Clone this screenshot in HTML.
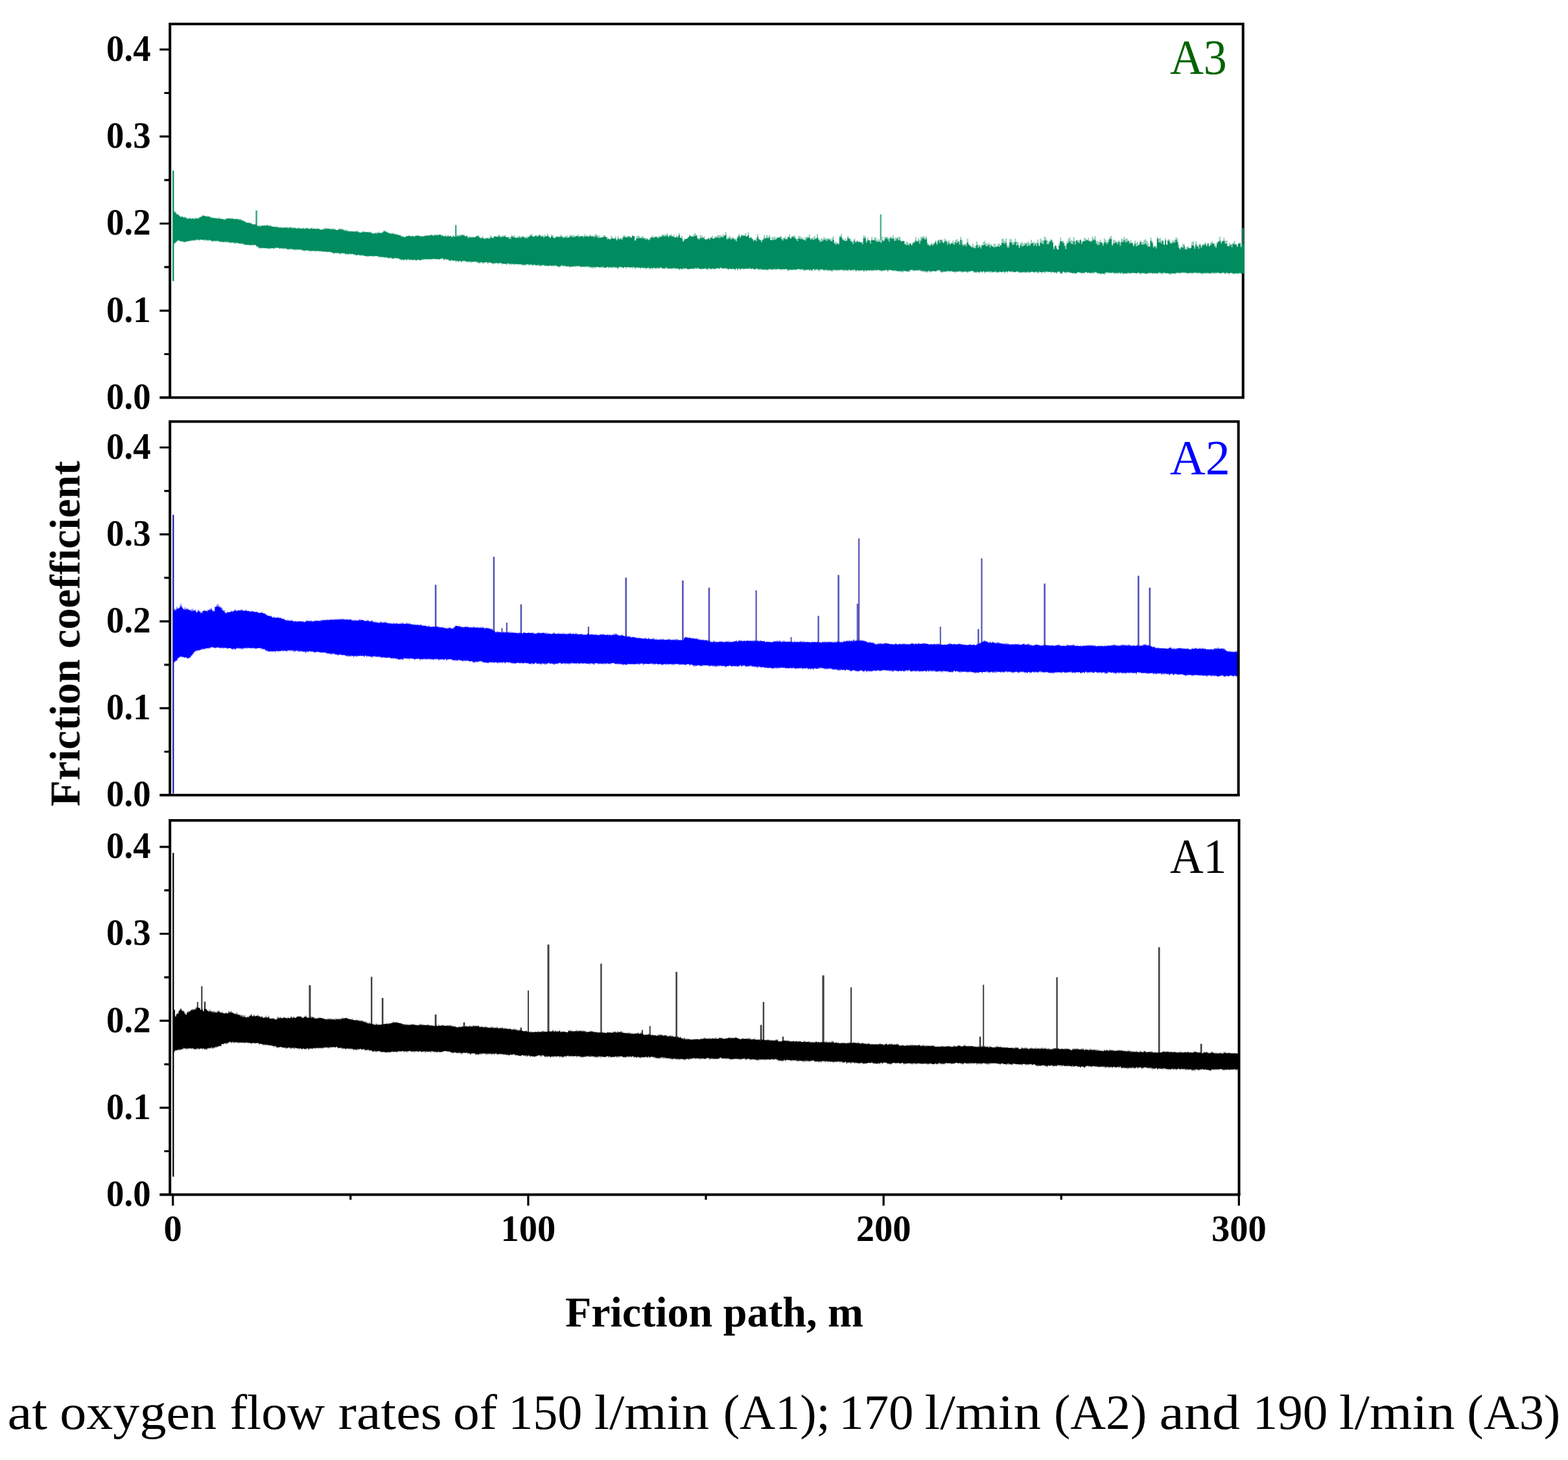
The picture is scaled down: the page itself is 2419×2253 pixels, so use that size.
<!DOCTYPE html>
<html lang="en"><head><meta charset="utf-8"><title>Friction coefficient vs friction path</title>
<style>html,body{margin:0;padding:0;background:#fff}body{width:2419px;height:2253px;overflow:hidden}svg{display:block}text{filter:url(#soft);font-family:"Liberation Serif","DejaVu Serif",serif}.b{font-weight:bold}text{font-variant-ligatures:none}</style></head><body>
<svg width="2419" height="2253" viewBox="0 0 2419 2253" role="img" aria-label="Friction coefficient versus friction path for coatings A1, A2 and A3">
<defs><filter id="soft" x="-2%" y="-20%" width="104%" height="140%" color-interpolation-filters="sRGB"><feGaussianBlur stdDeviation="0.6"/></filter><filter id="softd" x="-1%" y="-10%" width="102%" height="120%" color-interpolation-filters="sRGB"><feGaussianBlur stdDeviation="0.45"/></filter></defs>
<g>
<rect width="2419" height="2253" fill="#fff"/>
<!-- panel A3 -->
<g fill="none" stroke="#000" stroke-width="4.0">
<path d="M262.2,613.6 V36.9 H1917.7 V613.6"/>
<path d="M246.3,613.6 H1919.7"/>
</g>
<g fill="#008c5f" fill-opacity="0.75"><rect x="266.2" y="263.3" width="2.2" height="170.4" fill-opacity="1"/><rect x="394.3" y="324.8" width="2.6" height="27.9"/><rect x="702.0" y="347.4" width="2.4" height="20.6"/><rect x="1357.6" y="330.8" width="2.2" height="40.4"/></g>
<g filter="url(#softd)" fill="#008c5f"><path fill-opacity="0.42" d="M267.8,325.8H269.9V326.6H271.9V330.0H273.9V331.2H276.0V332.7H278.1V333.9H280.1V333.8H282.2V335.3H284.2V334.1H286.2V335.2H288.3V336.5H290.4V336.3H292.4V335.7H294.4V337.6H296.5V336.3H298.6V337.7H300.6V335.3H302.6V337.2H304.7V335.5H306.8V334.9H308.8V333.9H310.9V332.2H312.9V331.7H314.9V333.1H317.0V333.5H319.1V332.8H321.1V333.3H323.1V334.3H325.2V335.1H327.2V335.9H329.3V336.0H331.4V336.0H333.4V336.2H335.4V335.7H337.5V335.7H339.6V337.6H341.6V337.3H343.6V338.5H345.7V337.7H347.8V337.0H349.8V336.9H351.9V336.0H353.9V336.7H355.9V336.6H358.0V337.2H360.1V337.8H362.1V338.0H364.1V336.7H366.2V338.5H368.2V337.4H370.3V337.8H372.4V340.2H374.4V340.2H376.4V341.1H378.5V342.3H380.6V343.2H382.6V342.8H384.6V343.4H386.7V344.2H388.8V346.0H390.8V345.6H392.9V345.4H394.9V346.5H396.9V348.4H399.0V347.6H401.1V347.6H403.1V347.5H405.1V347.8H407.2V347.5H409.2V347.9H411.3V346.3H413.4V347.4H415.4V347.4H417.4V348.6H419.5V349.3H421.6V350.0H423.6V349.1H425.6V349.5H427.7V349.5H429.8V350.5H431.8V350.0H433.9V351.4H435.9V351.0H437.9V350.8H440.0V350.4H442.0V350.1H444.1V350.4H446.1V350.3H448.2V350.1H450.2V350.7H452.3V351.2H454.4V351.0H456.4V352.3H458.4V352.2H460.5V350.7H462.5V352.3H464.6V352.0H466.6V351.6H468.7V352.4H470.8V351.1H472.8V352.0H474.9V351.9H476.9V353.0H478.9V351.6H481.0V351.6H483.0V352.5H485.1V353.0H487.1V351.9H489.2V352.5H491.2V352.5H493.3V354.3H495.4V354.2H497.4V352.7H499.4V352.7H501.5V351.3H503.5V352.1H505.6V352.0H507.6V353.3H509.7V352.4H511.8V352.8H513.8V352.3H515.9V353.1H517.9V354.8H520.0V354.7H522.0V352.6H524.0V352.6H526.1V353.0H528.1V353.0H530.2V354.3H532.2V354.6H534.3V354.4H536.3V355.9H538.4V356.8H540.5V357.1H542.5V356.5H544.5V356.7H546.6V356.9H548.6V356.1H550.7V356.0H552.8V358.4H554.8V358.0H556.8V358.7H558.9V356.3H561.0V357.3H563.0V357.5H565.0V358.0H567.1V358.0H569.1V357.5H571.2V357.6H573.2V359.4H575.3V360.6H577.3V359.0H579.4V358.4H581.5V358.7H583.5V357.4H585.5V359.1H587.6V359.0H589.6V357.7H591.7V355.7H593.8V357.4H595.8V357.1H597.8V359.0H599.9V359.0H602.0V360.1H604.0V359.6H606.0V359.3H608.1V360.9H610.1V360.4H612.2V360.9H614.2V362.4H616.3V362.8H618.3V364.0H620.4V364.0H622.5V365.9H624.5V364.7H626.5V364.2H628.6V364.1H630.6V362.4H632.7V364.1H634.8V363.0H636.8V364.2H638.8V363.7H640.9V363.4H643.0V362.9H645.0V362.8H647.0V364.4H649.1V364.5H651.1V364.7H653.2V363.6H655.2V363.8H657.3V362.8H659.3V363.0H661.4V362.7H663.5V361.7H665.5V361.6H667.5V363.4H669.6V361.6H671.6V362.2H673.7V361.4H675.8V361.9H677.8V361.1H679.8V363.1H681.9V362.3H684.0V364.4H686.0V362.2H688.0V364.3H690.1V362.2H692.1V363.9H694.2V364.1H696.2V365.5H698.3V362.7H700.3V364.7H702.4V365.0H704.5V362.0H706.5V363.1H708.5V362.0H710.6V362.2H712.6V361.9H714.7V361.5H716.8V364.4H718.8V363.5H720.8V364.6H722.9V365.1H725.0V365.2H727.0V365.1H729.0V365.5H731.1V366.3H733.1V364.5H735.2V363.6H737.2V363.0H739.3V366.7H741.3V366.7H743.4V364.7H745.5V367.8H747.5V367.0H749.5V367.3H751.6V367.1H753.6V366.7H755.7V363.6H757.8V364.7H759.8V367.1H761.8V364.7H763.9V364.2H766.0V365.5H768.0V362.3H770.0V362.8H772.1V364.7H774.1V363.8H776.2V362.9H778.2V362.7H780.3V365.7H782.3V365.6H784.4V365.2H786.5V366.1H788.5V362.5H790.5V364.2H792.6V363.0H794.6V367.2H796.7V365.0H798.8V364.5H800.8V363.8H802.8V365.6H804.9V364.3H807.0V364.6H809.0V366.1H811.0V365.1H813.1V364.8H815.1V365.4H817.2V362.0H819.2V360.9H821.3V364.7H823.3V364.3H825.4V362.9H827.5V363.5H829.5V362.8H831.5V362.3H833.6V364.5H835.6V362.5H837.7V364.0H839.8V361.7H841.8V364.3H843.8V360.7H845.9V364.3H848.0V365.9H850.0V362.1H852.0V362.7H854.1V367.5H856.1V365.1H858.2V364.5H860.2V364.9H862.3V364.5H864.3V362.2H866.4V363.8H868.5V365.4H870.5V365.0H872.5V363.7H874.6V363.6H876.6V366.0H878.7V362.2H880.8V363.2H882.8V362.3H884.8V364.1H886.9V363.3H889.0V363.8H891.0V361.5H893.0V364.5H895.1V363.7H897.1V363.9H899.2V363.7H901.2V361.3H903.3V363.5H905.3V363.3H907.4V364.4H909.5V361.5H911.5V363.5H913.5V363.8H915.6V363.5H917.6V361.2H919.7V362.0H921.8V363.9H923.8V363.5H925.8V366.5H927.9V366.0H930.0V362.9H932.0V363.4H934.0V365.9H936.1V366.0H938.1V368.0H940.2V369.2H942.2V364.1H944.3V366.7H946.3V368.1H948.4V364.7H950.5V369.7H952.5V364.2H954.5V368.1H956.6V366.8H958.6V367.2H960.7V363.6H962.8V363.0H964.8V365.1H966.8V364.2H968.9V364.5H971.0V364.2H973.0V365.7H975.0V363.3H977.1V364.2H979.1V370.8H981.2V364.8H983.2V363.6H985.3V364.2H987.3V367.1H989.4V364.7H991.5V364.7H993.5V367.2H995.5V367.3H997.6V367.6H999.6V369.2H1001.7V367.3H1003.8V365.6H1005.8V363.5H1007.8V365.2H1009.9V364.8H1012.0V364.5H1014.0V365.4H1016.0V363.9H1018.1V364.5H1020.1V362.4H1022.2V361.4H1024.2V362.1H1026.3V362.2H1028.3V359.8H1030.4V364.4H1032.5V362.4H1034.5V361.3H1036.5V364.4H1038.6V362.1H1040.6V366.0H1042.7V363.4H1044.8V364.4H1046.8V359.9H1048.8V366.9H1050.9V364.4H1053.0V371.1H1055.0V368.0H1057.0V368.7H1059.1V367.7H1061.1V365.5H1063.2V361.8H1065.2V364.6H1067.3V364.2H1069.3V361.7H1071.4V359.4H1073.5V362.5H1075.5V367.5H1077.5V368.3H1079.6V362.5H1081.6V363.4H1083.7V366.4H1085.8V364.9H1087.8V369.3H1089.8V369.3H1091.9V367.6H1094.0V367.4H1096.0V365.5H1098.0V363.9H1100.1V368.1H1102.1V364.5H1104.2V365.3H1106.2V363.1H1108.3V363.0H1110.3V362.8H1112.4V364.6H1114.5V361.6H1116.5V362.9H1118.5V358.0H1120.6V367.6H1122.6V366.3H1124.7V363.9H1126.8V367.3H1128.8V365.9H1130.8V366.7H1132.9V368.0H1135.0V368.8H1137.0V365.1H1139.0V361.2H1141.1V365.3H1143.1V362.7H1145.2V362.2H1147.2V363.1H1149.3V360.0H1151.3V364.5H1153.4V358.6H1155.5V366.9H1157.5V366.1H1159.5V367.5H1161.6V369.9H1163.6V370.2H1165.7V367.7H1167.8V361.1H1169.8V368.3H1171.8V370.6H1173.9V370.1H1176.0V369.2H1178.0V363.1H1180.0V366.5H1182.1V362.5H1184.1V365.1H1186.2V363.0H1188.2V370.0H1190.3V365.8H1192.3V366.3H1194.4V365.0H1196.4V368.0H1198.5V365.5H1200.5V366.5H1202.6V364.1H1204.6V365.3H1206.7V367.8H1208.8V367.1H1210.8V365.1H1212.8V368.5H1214.9V364.9H1216.9V361.7H1219.0V367.5H1221.0V364.2H1223.1V364.0H1225.1V363.3H1227.2V368.8H1229.2V368.0H1231.3V363.8H1233.3V364.7H1235.4V366.2H1237.4V367.0H1239.5V369.6H1241.5V366.0H1243.6V365.6H1245.6V364.9H1247.7V361.7H1249.8V368.3H1251.8V366.8H1253.8V366.6H1255.9V363.9H1257.9V367.2H1260.0V361.1H1262.0V368.1H1264.1V369.9H1266.1V367.6H1268.2V369.1H1270.2V366.0H1272.3V367.6H1274.3V367.9H1276.4V367.7H1278.4V367.7H1280.5V370.2H1282.5V367.1H1284.6V364.4H1286.6V374.5H1288.7V373.0H1290.8V375.6H1292.8V375.2H1294.8V364.1H1296.9V360.9H1298.9V367.8H1301.0V369.8H1303.0V368.3H1305.1V371.4H1307.1V364.3H1309.2V366.7H1311.2V369.0H1313.3V372.8H1315.3V371.2H1317.4V367.8H1319.4V373.0H1321.5V370.8H1323.5V372.0H1325.6V373.0H1327.6V373.7H1329.7V372.7H1331.7V363.2H1333.8V364.5H1335.8V371.3H1337.9V366.8H1339.9V370.9H1342.0V371.1H1344.0V365.5H1346.1V370.1H1348.1V366.3H1350.2V366.2H1352.2V370.6H1354.3V368.9H1356.3V370.7H1358.4V372.6H1360.4V365.3H1362.5V371.1H1364.5V364.9H1366.6V365.8H1368.6V365.8H1370.7V367.9H1372.7V364.7H1374.8V366.5H1376.8V363.0H1378.9V367.4H1380.9V366.6H1383.0V366.8H1385.0V365.6H1387.1V365.4H1389.1V371.4H1391.2V371.4H1393.2V371.8H1395.3V376.1H1397.3V373.3H1399.4V372.9H1401.4V376.2H1403.5V375.1H1405.5V378.2H1407.6V373.9H1409.6V372.3H1411.7V365.8H1413.7V371.4H1415.8V367.6H1417.8V370.0H1419.9V365.3H1421.9V365.6H1424.0V363.9H1426.0V366.4H1428.1V364.9H1430.1V374.0H1432.2V377.7H1434.2V376.9H1436.3V374.5H1438.3V376.5H1440.4V375.1H1442.4V371.3H1444.5V375.4H1446.5V369.9H1448.6V369.4H1450.6V370.3H1452.7V369.4H1454.7V373.8H1456.8V368.2H1458.8V370.6H1460.9V373.0H1462.9V370.9H1465.0V376.5H1467.0V375.2H1469.1V371.5H1471.1V374.2H1473.2V370.6H1475.2V369.1H1477.3V371.5H1479.3V372.8H1481.4V365.4H1483.4V371.3H1485.5V377.1H1487.5V377.0H1489.6V375.8H1491.6V368.2H1493.7V376.3H1495.7V379.1H1497.8V380.1H1499.8V376.0H1501.9V380.4H1503.9V378.9H1506.0V372.6H1508.0V377.4H1510.1V377.6H1512.1V380.0H1514.2V377.4H1516.2V373.5H1518.3V371.6H1520.3V375.6H1522.4V376.8H1524.4V374.6H1526.5V377.1H1528.5V377.2H1530.6V380.3H1532.6V375.8H1534.7V376.4H1536.7V380.2H1538.8V376.2H1540.8V376.1H1542.9V378.1H1544.9V368.2H1547.0V368.8H1549.0V372.1H1551.1V367.9H1553.1V378.4H1555.2V379.1H1557.2V368.4H1559.3V369.4H1561.3V374.0H1563.4V373.1H1565.4V368.2H1567.5V372.8H1569.5V373.5H1571.6V380.4H1573.6V374.4H1575.7V373.4H1577.7V376.2H1579.8V374.8H1581.8V374.9H1583.9V373.8H1585.9V373.3H1588.0V376.0H1590.0V370.0H1592.1V374.8H1594.1V373.1H1596.2V375.1H1598.2V374.2H1600.3V369.5H1602.3V378.5H1604.4V367.9H1606.4V370.8H1608.5V371.4H1610.5V364.7H1612.6V367.2H1614.6V371.1H1616.7V373.4H1618.7V371.0H1620.8V368.8H1622.8V371.5H1624.9V381.6H1626.9V378.4H1629.0V379.6H1631.0V385.2H1633.1V375.3H1635.1V366.6H1637.2V371.8H1639.2V371.7H1641.3V375.2H1643.3V378.8H1645.4V372.8H1647.4V368.6H1649.5V366.2H1651.5V370.7H1653.6V371.5H1655.6V366.1H1657.7V372.4H1659.7V370.5H1661.8V370.0H1663.8V371.3H1665.9V369.4H1667.9V373.1H1670.0V372.1H1672.0V367.0H1674.1V367.9H1676.1V370.0H1678.2V366.9H1680.2V371.4H1682.3V371.1H1684.3V365.1H1686.4V367.7H1688.4V364.2H1690.5V372.6H1692.5V371.8H1694.6V373.3H1696.6V369.8H1698.7V373.7H1700.7V376.1H1702.8V367.8H1704.8V370.2H1706.9V373.6H1708.9V369.7H1711.0V366.3H1713.0V364.1H1715.1V376.4H1717.1V369.6H1719.2V370.9H1721.2V372.4H1723.3V372.9H1725.3V370.9H1727.4V374.6H1729.4V368.3H1731.5V369.2H1733.5V365.7H1735.6V369.0H1737.6V367.8H1739.7V370.5H1741.7V372.6H1743.8V371.1H1745.8V374.5H1747.9V378.2H1749.9V371.3H1752.0V374.8H1754.0V373.4H1756.1V377.6H1758.1V371.3H1760.2V372.4H1762.2V373.8H1764.3V370.4H1766.3V369.3H1768.4V371.9H1770.4V375.6H1772.5V379.5H1774.5V366.8H1776.6V372.6H1778.6V379.2H1780.7V379.8H1782.7V379.7H1784.8V365.7H1786.8V368.0H1788.9V367.1H1790.9V370.9H1793.0V370.5H1795.0V377.4H1797.1V367.6H1799.1V377.6H1801.2V369.3H1803.2V369.5H1805.3V374.7H1807.3V371.3H1809.4V371.5H1811.4V369.6H1813.5V365.9H1815.5V368.2H1817.6V377.9H1819.6V383.1H1821.7V381.1H1823.7V376.2H1825.8V376.4H1827.8V383.2H1829.9V381.1H1831.9V380.0H1834.0V382.6H1836.0V381.8H1838.1V373.5H1840.1V372.2H1842.2V380.7H1844.2V372.6H1846.3V379.7H1848.3V377.6H1850.4V375.8H1852.4V379.8H1854.5V376.7H1856.5V376.8H1858.6V373.8H1860.6V378.5H1862.7V375.3H1864.7V379.5H1866.8V373.9H1868.8V372.4H1870.9V374.9H1872.9V375.5H1875.0V378.7H1877.0V373.6H1879.1V372.3H1881.1V365.0H1883.2V373.0H1885.2V371.3H1887.3V366.7H1889.3V371.7H1891.4V371.1H1893.4V379.7H1895.5V374.4H1897.5V377.0H1899.6V376.6H1901.6V374.3H1903.7V371.8H1905.7V377.0H1907.8V379.6H1909.8V375.5H1911.9V373.8H1913.9V380.0H1916.0V377.3H1918.0V374.4H1919.6V423.1H1918.0V421.8H1916.0V422.6H1913.9V421.6H1911.9V423.3H1909.8V422.2H1907.8V422.6H1905.7V423.1H1903.7V423.5H1901.6V421.7H1899.6V421.5H1897.5V423.6H1895.5V421.8H1893.4V420.6H1891.4V422.7H1889.3V421.3H1887.3V421.1H1885.2V422.6H1883.2V422.6H1881.1V421.1H1879.1V421.4H1877.0V422.4H1875.0V422.3H1872.9V422.3H1870.9V421.9H1868.8V422.7H1866.8V422.3H1864.7V422.4H1862.7V422.2H1860.6V422.4H1858.6V421.4H1856.5V423.5H1854.5V422.7H1852.4V422.4H1850.4V421.8H1848.3V422.3H1846.3V421.4H1844.2V420.7H1842.2V422.1H1840.1V422.8H1838.1V421.4H1836.0V421.5H1834.0V422.8H1831.9V421.8H1829.9V421.8H1827.8V421.4H1825.8V420.7H1823.7V421.3H1821.7V422.7H1819.6V421.8H1817.6V421.0H1815.5V422.4H1813.5V422.8H1811.4V422.2H1809.4V422.0H1807.3V423.9H1805.3V423.4H1803.2V422.3H1801.2V422.2H1799.1V422.1H1797.1V421.4H1795.0V423.0H1793.0V423.2H1790.9V421.9H1788.9V421.5H1786.8V423.3H1784.8V422.1H1782.7V422.0H1780.7V422.4H1778.6V422.2H1776.6V421.4H1774.5V422.2H1772.5V422.6H1770.4V423.2H1768.4V423.0H1766.3V422.4H1764.3V422.2H1762.2V421.5H1760.2V423.5H1758.1V422.2H1756.1V420.9H1754.0V422.3H1752.0V421.8H1749.9V421.4H1747.9V421.8H1745.8V422.3H1743.8V421.9H1741.7V421.9H1739.7V422.7H1737.6V422.2H1735.6V423.0H1733.5V423.3H1731.5V422.3H1729.4V421.8H1727.4V421.8H1725.3V423.0H1723.3V422.2H1721.2V422.9H1719.2V422.1H1717.1V421.4H1715.1V421.7H1713.0V422.2H1711.0V421.4H1708.9V420.6H1706.9V422.2H1704.8V424.0H1702.8V422.6H1700.7V422.7H1698.7V423.9H1696.6V421.8H1694.6V422.2H1692.5V421.5H1690.5V420.5H1688.4V422.5H1686.4V421.3H1684.3V422.5H1682.3V421.8H1680.2V421.1H1678.2V421.5H1676.1V419.9H1674.1V422.6H1672.0V421.5H1670.0V422.8H1667.9V420.9H1665.9V420.5H1663.8V420.1H1661.8V422.2H1659.7V422.9H1657.7V421.5H1655.6V421.7H1653.6V421.1H1651.5V420.8H1649.5V420.1H1647.4V421.5H1645.4V421.3H1643.3V421.5H1641.3V420.1H1639.2V423.0H1637.2V422.5H1635.1V419.4H1633.1V420.2H1631.0V422.4H1629.0V421.0H1626.9V421.0H1624.9V419.9H1622.8V421.4H1620.8V419.9H1618.7V420.2H1616.7V420.2H1614.6V420.6H1612.6V421.5H1610.5V420.1H1608.5V421.9H1606.4V420.1H1604.4V420.7H1602.3V422.3H1600.3V420.3H1598.2V421.0H1596.2V420.8H1594.1V419.9H1592.1V420.1H1590.0V420.5H1588.0V421.0H1585.9V420.8H1583.9V421.2H1581.8V421.0H1579.8V420.4H1577.7V420.2H1575.7V420.7H1573.6V421.4H1571.6V419.5H1569.5V419.1H1567.5V420.2H1565.4V419.7H1563.4V420.3H1561.3V419.3H1559.3V420.5H1557.2V418.4H1555.2V420.9H1553.1V419.0H1551.1V421.6H1549.0V420.1H1547.0V420.5H1544.9V419.7H1542.9V420.6H1540.8V420.6H1538.8V421.2H1536.7V419.9H1534.7V419.7H1532.6V420.7H1530.6V420.6H1528.5V421.2H1526.5V419.1H1524.4V420.6H1522.4V419.8H1520.3V421.8H1518.3V419.1H1516.2V420.8H1514.2V419.4H1512.1V421.6H1510.1V420.4H1508.0V420.9H1506.0V420.7H1503.9V421.1H1501.9V418.7H1499.8V418.2H1497.8V419.2H1495.7V419.7H1493.7V421.1H1491.6V419.8H1489.6V419.5H1487.5V420.6H1485.5V420.4H1483.4V420.3H1481.4V419.2H1479.3V419.3H1477.3V419.6H1475.2V421.2H1473.2V420.2H1471.1V419.7H1469.1V418.9H1467.0V420.0H1465.0V419.8H1462.9V419.2H1460.9V419.7H1458.8V420.0H1456.8V419.9H1454.7V420.9H1452.7V420.3H1450.6V417.6H1448.6V417.5H1446.5V418.5H1444.5V419.2H1442.4V418.7H1440.4V418.5H1438.3V418.9H1436.3V420.7H1434.2V419.1H1432.2V420.7H1430.1V420.3H1428.1V419.9H1426.0V419.8H1424.0V419.4H1421.9V418.9H1419.9V417.5H1417.8V417.8H1415.8V418.0H1413.7V418.1H1411.7V417.8H1409.6V418.4H1407.6V416.8H1405.5V417.6H1403.5V420.1H1401.4V419.2H1399.4V419.8H1397.3V418.3H1395.3V419.4H1393.2V420.5H1391.2V419.7H1389.1V419.2H1387.1V418.7H1385.0V418.4H1383.0V418.9H1380.9V418.1H1378.9V418.2H1376.8V417.7H1374.8V417.0H1372.7V416.7H1370.7V419.6H1368.6V416.9H1366.6V417.9H1364.5V417.9H1362.5V418.5H1360.4V419.3H1358.4V417.9H1356.3V416.9H1354.3V417.6H1352.2V417.4H1350.2V417.9H1348.1V417.9H1346.1V418.5H1344.0V417.5H1342.0V417.8H1339.9V417.3H1337.9V419.1H1335.8V417.9H1333.8V419.7H1331.7V417.0H1329.7V418.1H1327.6V418.2H1325.6V418.5H1323.5V417.7H1321.5V419.2H1319.4V416.3H1317.4V418.5H1315.3V417.1H1313.3V418.2H1311.2V416.6H1309.2V418.5H1307.1V417.6H1305.1V417.9H1303.0V418.3H1301.0V418.0H1298.9V416.7H1296.9V417.0H1294.8V418.0H1292.8V417.0H1290.8V418.4H1288.7V416.6H1286.6V418.2H1284.6V419.2H1282.5V418.5H1280.5V417.7H1278.4V418.4H1276.4V417.6H1274.3V418.1H1272.3V417.7H1270.2V417.0H1268.2V415.7H1266.1V417.7H1264.1V418.6H1262.0V415.8H1260.0V416.8H1257.9V418.2H1255.9V415.5H1253.8V418.6H1251.8V417.4H1249.8V417.6H1247.7V416.3H1245.6V417.5H1243.6V417.8H1241.5V418.2H1239.5V416.3H1237.4V416.7H1235.4V415.5H1233.3V416.1H1231.3V415.9H1229.2V416.7H1227.2V417.0H1225.1V416.4H1223.1V417.3H1221.0V416.4H1219.0V417.8H1216.9V418.2H1214.9V417.1H1212.8V415.2H1210.8V416.2H1208.8V415.6H1206.7V417.3H1204.6V416.2H1202.6V416.4H1200.5V415.1H1198.5V416.3H1196.4V416.3H1194.4V416.7H1192.3V416.4H1190.3V416.6H1188.2V415.4H1186.2V417.1H1184.1V417.7H1182.1V416.6H1180.0V416.5H1178.0V416.5H1176.0V415.9H1173.9V416.5H1171.8V416.7H1169.8V415.8H1167.8V414.7H1165.7V416.6H1163.6V415.3H1161.6V415.0H1159.5V415.8H1157.5V414.4H1155.5V414.5H1153.4V414.8H1151.3V415.1H1149.3V415.4H1147.2V415.6H1145.2V415.1H1143.1V416.7H1141.1V415.4H1139.0V417.2H1137.0V414.7H1135.0V417.1H1132.9V414.9H1130.8V415.8H1128.8V415.4H1126.8V414.8H1124.7V416.9H1122.6V415.1H1120.6V414.8H1118.5V414.4H1116.5V414.4H1114.5V415.0H1112.4V413.1H1110.3V415.0H1108.3V413.6H1106.2V415.3H1104.2V415.6H1102.1V415.3H1100.1V415.2H1098.0V416.1H1096.0V415.4H1094.0V415.9H1091.9V416.1H1089.8V415.3H1087.8V414.6H1085.8V415.0H1083.7V416.1H1081.6V415.2H1079.6V414.9H1077.5V414.2H1075.5V415.1H1073.5V414.5H1071.4V415.7H1069.3V415.1H1067.3V414.6H1065.2V415.5H1063.2V416.1H1061.1V415.4H1059.1V413.8H1057.0V415.7H1055.0V415.3H1053.0V416.6H1050.9V415.6H1048.8V417.1H1046.8V414.8H1044.8V414.9H1042.7V415.8H1040.6V414.6H1038.6V415.5H1036.5V415.3H1034.5V414.5H1032.5V415.4H1030.4V414.5H1028.3V414.4H1026.3V415.3H1024.2V415.1H1022.2V415.1H1020.1V413.2H1018.1V414.2H1016.0V415.0H1014.0V414.8H1012.0V415.3H1009.9V413.5H1007.8V415.7H1005.8V413.6H1003.8V415.9H1001.7V414.6H999.6V413.5H997.6V415.6H995.5V414.0H993.5V414.5H991.5V413.0H989.4V414.7H987.3V413.4H985.3V414.0H983.2V412.8H981.2V415.2H979.1V413.6H977.1V414.2H975.0V413.4H973.0V413.1H971.0V412.7H968.9V413.0H966.8V414.4H964.8V412.0H962.8V413.9H960.7V413.4H958.6V412.6H956.6V412.2H954.5V415.3H952.5V414.2H950.5V413.1H948.4V413.4H946.3V413.2H944.3V413.3H942.2V412.7H940.2V414.3H938.1V412.3H936.1V413.8H934.0V413.5H932.0V413.8H930.0V413.1H927.9V413.4H925.8V413.1H923.8V411.9H921.8V412.6H919.7V413.7H917.6V413.8H915.6V414.2H913.5V413.8H911.5V413.4H909.5V412.3H907.4V412.4H905.3V412.6H903.3V412.7H901.2V411.9H899.2V411.6H897.1V412.8H895.1V410.6H893.0V411.2H891.0V411.8H889.0V412.3H886.9V411.0H884.8V411.7H882.8V411.4H880.8V412.8H878.7V411.9H876.6V412.1H874.6V411.8H872.5V410.0H870.5V411.6H868.5V409.5H866.4V410.8H864.3V413.1H862.3V411.5H860.2V410.8H858.2V410.3H856.1V411.3H854.1V411.1H852.0V411.0H850.0V410.5H848.0V410.7H845.9V411.2H843.8V410.2H841.8V411.0H839.8V409.3H837.7V410.3H835.6V411.4H833.6V409.9H831.5V410.0H829.5V410.4H827.5V409.9H825.4V408.8H823.3V410.3H821.3V409.7H819.2V408.9H817.2V410.1H815.1V407.6H813.1V409.4H811.0V409.6H809.0V410.1H807.0V409.5H804.9V408.5H802.8V408.0H800.8V407.9H798.8V407.7H796.7V407.9H794.6V409.2H792.6V407.5H790.5V408.4H788.5V408.1H786.5V408.9H784.4V406.9H782.3V409.0H780.3V407.1H778.2V407.0H776.2V408.6H774.1V406.3H772.1V406.7H770.0V407.9H768.0V406.4H766.0V406.7H763.9V407.6H761.8V407.9H759.8V406.9H757.8V405.7H755.7V405.6H753.6V407.4H751.6V404.8H749.5V405.0H747.5V406.6H745.5V407.1H743.4V404.9H741.3V407.2H739.3V406.1H737.2V405.9H735.2V404.4H733.1V404.1H731.1V404.0H729.0V405.5H727.0V405.8H725.0V403.6H722.9V404.9H720.8V404.6H718.8V403.4H716.8V403.4H714.7V403.4H712.6V404.9H710.6V403.1H708.5V404.7H706.5V403.4H704.5V404.4H702.4V402.3H700.3V402.7H698.3V401.4H696.2V403.5H694.2V402.4H692.1V400.7H690.1V400.6H688.0V399.6H686.0V401.7H684.0V398.8H681.9V399.3H679.8V400.6H677.8V401.1H675.8V400.0H673.7V400.2H671.6V399.6H669.6V399.6H667.5V400.9H665.5V400.0H663.5V401.5H661.4V399.9H659.3V401.0H657.3V400.0H655.2V401.2H653.2V401.1H651.1V401.4H649.1V402.2H647.0V401.0H645.0V401.4H643.0V403.1H640.9V401.4H638.8V401.6H636.8V401.9H634.8V401.3H632.7V402.1H630.6V400.0H628.6V402.2H626.5V400.5H624.5V401.8H622.5V401.7H620.4V401.5H618.3V401.4H616.3V399.3H614.2V399.0H612.2V399.1H610.1V398.8H608.1V399.0H606.0V400.1H604.0V398.2H602.0V398.5H599.9V399.1H597.8V397.9H595.8V397.9H593.8V397.6H591.7V397.4H589.6V396.8H587.6V397.6H585.5V397.4H583.5V395.9H581.5V395.1H579.4V395.8H577.3V396.4H575.3V395.7H573.2V395.4H571.2V395.2H569.1V395.7H567.1V396.5H565.0V395.5H563.0V394.9H561.0V394.7H558.9V394.6H556.8V394.8H554.8V394.2H552.8V393.7H550.7V394.8H548.6V393.2H546.6V393.4H544.5V391.7H542.5V393.0H540.5V391.8H538.4V393.0H536.3V392.7H534.3V392.9H532.2V391.3H530.2V391.3H528.1V391.5H526.1V392.4H524.0V392.0H522.0V390.3H520.0V391.1H517.9V390.6H515.9V392.1H513.8V390.3H511.8V389.5H509.7V388.9H507.6V388.7H505.6V389.2H503.5V388.4H501.5V389.1H499.4V389.0H497.4V388.5H495.4V388.4H493.3V387.7H491.2V387.2H489.2V388.3H487.1V388.5H485.1V387.2H483.0V387.7H481.0V387.9H478.9V387.9H476.9V387.5H474.9V386.8H472.8V387.4H470.8V387.7H468.7V387.0H466.6V386.7H464.6V385.6H462.5V386.1H460.5V385.5H458.4V386.3H456.4V386.5H454.4V385.5H452.3V385.7H450.2V384.8H448.2V385.5H446.1V385.2H444.1V385.6H442.0V384.5H440.0V384.5H437.9V384.6H435.9V383.9H433.9V384.0H431.8V384.3H429.8V382.6H427.7V383.1H425.6V382.6H423.6V383.9H421.6V383.1H419.5V383.4H417.4V384.4H415.4V384.3H413.4V384.0H411.3V383.1H409.2V383.2H407.2V382.8H405.1V383.6H403.1V383.3H401.1V383.8H399.0V381.7H396.9V379.7H394.9V378.1H392.9V378.9H390.8V379.1H388.8V378.8H386.7V379.6H384.6V378.4H382.6V378.2H380.6V378.0H378.5V378.4H376.4V376.6H374.4V376.4H372.4V375.9H370.3V376.5H368.2V375.2H366.2V375.6H364.1V376.2H362.1V375.9H360.1V374.6H358.0V374.6H355.9V375.8H353.9V374.6H351.9V374.4H349.8V374.3H347.8V373.4H345.7V373.9H343.6V373.3H341.6V373.7H339.6V373.8H337.5V372.0H335.4V373.1H333.4V373.2H331.4V372.6H329.3V373.2H327.2V372.9H325.2V371.0H323.1V371.9H321.1V371.5H319.1V371.7H317.0V371.1H314.9V371.6H312.9V369.9H310.9V370.3H308.8V371.4H306.8V371.1H304.7V370.7H302.6V370.5H300.6V372.0H298.6V371.2H296.5V371.4H294.4V372.5H292.4V372.6H290.4V372.8H288.3V373.1H286.2V374.0H284.2V373.9H282.2V372.9H280.1V372.7H278.1V372.0H276.0V371.2H273.9V373.2H271.9V374.9H269.9V375.9H267.8Z"/><path d="M267.8,327.5H269.9V328.6H271.9V330.8H273.9V331.6H276.0V333.6H278.1V335.3H280.1V334.6H282.2V335.7H284.2V335.9H286.2V336.8H288.3V338.1H290.4V337.5H292.4V337.4H294.4V337.8H296.5V337.2H298.6V338.2H300.6V337.2H302.6V337.2H304.7V337.4H306.8V336.4H308.8V334.9H310.9V334.0H312.9V333.1H314.9V333.4H317.0V333.9H319.1V334.4H321.1V334.5H323.1V335.1H325.2V336.5H327.2V336.2H329.3V336.8H331.4V337.0H333.4V337.4H335.4V337.7H337.5V337.6H339.6V337.9H341.6V337.9H343.6V338.6H345.7V339.5H347.8V338.2H349.8V337.6H351.9V337.2H353.9V337.7H355.9V337.4H358.0V337.4H360.1V338.0H362.1V338.3H364.1V338.3H366.2V338.6H368.2V339.3H370.3V339.4H372.4V340.3H374.4V341.0H376.4V342.4H378.5V343.5H380.6V344.0H382.6V343.9H384.6V344.7H386.7V344.9H388.8V346.2H390.8V346.6H392.9V346.5H394.9V348.3H396.9V348.8H399.0V349.4H401.1V349.5H403.1V348.7H405.1V348.3H407.2V348.2H409.2V347.9H411.3V348.1H413.4V348.9H415.4V348.4H417.4V349.3H419.5V349.9H421.6V350.0H423.6V350.4H425.6V350.4H427.7V351.0H429.8V351.5H431.8V351.5H433.9V351.4H435.9V351.4H437.9V351.3H440.0V351.4H442.0V351.7H444.1V352.2H446.1V351.6H448.2V351.7H450.2V352.4H452.3V352.1H454.4V351.9H456.4V352.7H458.4V352.5H460.5V352.3H462.5V352.9H464.6V353.2H466.6V352.4H468.7V353.3H470.8V352.9H472.8V352.5H474.9V352.8H476.9V353.7H478.9V352.6H481.0V353.6H483.0V353.0H485.1V353.0H487.1V353.8H489.2V353.0H491.2V353.4H493.3V354.4H495.4V354.5H497.4V354.5H499.4V353.5H501.5V353.2H503.5V353.5H505.6V353.2H507.6V353.4H509.7V353.8H511.8V354.3H513.8V354.1H515.9V354.6H517.9V354.9H520.0V355.3H522.0V354.1H524.0V354.3H526.1V354.2H528.1V355.0H530.2V355.9H532.2V356.6H534.3V356.4H536.3V357.2H538.4V357.1H540.5V357.2H542.5V357.0H544.5V357.9H546.6V357.1H548.6V357.9H550.7V357.6H552.8V358.5H554.8V359.2H556.8V358.8H558.9V358.1H561.0V358.4H563.0V358.3H565.0V358.2H567.1V358.6H569.1V358.7H571.2V359.2H573.2V360.1H575.3V360.7H577.3V360.2H579.4V360.4H581.5V360.3H583.5V359.2H585.5V359.9H587.6V359.8H589.6V358.6H591.7V356.8H593.8V357.6H595.8V358.6H597.8V359.4H599.9V360.6H602.0V360.7H604.0V360.8H606.0V360.9H608.1V361.5H610.1V362.3H612.2V362.6H614.2V363.0H616.3V363.0H618.3V365.3H620.4V365.4H622.5V366.0H624.5V365.8H626.5V364.7H628.6V364.3H630.6V364.2H632.7V365.0H634.8V364.7H636.8V365.1H638.8V364.9H640.9V363.9H643.0V364.0H645.0V364.3H647.0V364.8H649.1V364.6H651.1V364.9H653.2V364.8H655.2V364.1H657.3V364.0H659.3V363.6H661.4V363.7H663.5V363.2H665.5V363.0H667.5V364.0H669.6V363.1H671.6V363.3H673.7V363.2H675.8V363.1H677.8V362.3H679.8V363.5H681.9V364.3H684.0V364.7H686.0V364.4H688.0V365.2H690.1V364.4H692.1V365.1H694.2V364.3H696.2V365.9H698.3V364.6H700.3V365.5H702.4V366.0H704.5V364.6H706.5V364.7H708.5V364.6H710.6V363.4H712.6V363.1H714.7V363.6H716.8V364.8H718.8V364.0H720.8V367.3H722.9V366.8H725.0V366.2H727.0V367.1H729.0V366.1H731.1V366.5H733.1V365.6H735.2V364.5H737.2V364.9H739.3V366.8H741.3V368.3H743.4V367.0H745.5V368.6H747.5V369.0H749.5V367.8H751.6V367.7H753.6V368.9H755.7V366.7H757.8V367.2H759.8V367.3H761.8V364.7H763.9V365.4H766.0V365.5H768.0V365.1H770.0V365.3H772.1V366.6H774.1V365.6H776.2V365.8H778.2V364.8H780.3V366.1H782.3V366.6H784.4V368.3H786.5V368.9H788.5V365.3H790.5V365.7H792.6V366.2H794.6V367.2H796.7V367.2H798.8V367.2H800.8V366.3H802.8V367.4H804.9V365.6H807.0V366.1H809.0V367.7H811.0V367.5H813.1V367.5H815.1V365.5H817.2V363.9H819.2V363.9H821.3V365.5H823.3V365.5H825.4V363.7H827.5V365.3H829.5V364.9H831.5V362.8H833.6V365.1H835.6V365.0H837.7V366.7H839.8V365.3H841.8V364.7H843.8V364.1H845.9V366.1H848.0V367.4H850.0V364.9H852.0V366.1H854.1V367.6H856.1V367.1H858.2V365.2H860.2V365.8H862.3V366.2H864.3V365.2H866.4V366.0H868.5V367.4H870.5V366.1H872.5V366.8H874.6V367.0H876.6V366.7H878.7V364.8H880.8V365.2H882.8V365.9H884.8V365.7H886.9V365.8H889.0V364.0H891.0V365.2H893.0V365.4H895.1V365.0H897.1V364.6H899.2V366.5H901.2V365.1H903.3V364.9H905.3V364.9H907.4V365.6H909.5V364.1H911.5V365.3H913.5V365.1H915.6V366.4H917.6V364.8H919.7V365.2H921.8V367.5H923.8V367.0H925.8V366.8H927.9V366.1H930.0V366.5H932.0V364.5H934.0V366.1H936.1V369.3H938.1V368.7H940.2V369.8H942.2V368.0H944.3V368.0H946.3V368.5H948.4V367.9H950.5V370.9H952.5V368.1H954.5V369.4H956.6V368.9H958.6V370.0H960.7V366.3H962.8V365.8H964.8V366.6H966.8V366.8H968.9V364.8H971.0V366.7H973.0V366.7H975.0V364.2H977.1V364.6H979.1V371.2H981.2V368.5H983.2V367.4H985.3V367.4H987.3V367.6H989.4V367.2H991.5V368.6H993.5V367.8H995.5V370.3H997.6V369.1H999.6V370.8H1001.7V369.4H1003.8V366.1H1005.8V367.0H1007.8V367.2H1009.9V365.9H1012.0V366.1H1014.0V368.1H1016.0V366.4H1018.1V366.1H1020.1V364.9H1022.2V363.9H1024.2V365.1H1026.3V364.7H1028.3V363.2H1030.4V366.0H1032.5V363.6H1034.5V364.6H1036.5V364.8H1038.6V365.9H1040.6V366.5H1042.7V366.2H1044.8V366.5H1046.8V362.8H1048.8V367.0H1050.9V367.8H1053.0V372.9H1055.0V370.6H1057.0V369.0H1059.1V368.1H1061.1V366.4H1063.2V364.0H1065.2V365.1H1067.3V365.2H1069.3V365.2H1071.4V363.7H1073.5V363.8H1075.5V368.3H1077.5V369.7H1079.6V367.1H1081.6V367.7H1083.7V366.5H1085.8V369.2H1087.8V369.4H1089.8V369.5H1091.9V367.7H1094.0V369.8H1096.0V367.0H1098.0V367.9H1100.1V368.6H1102.1V367.3H1104.2V366.6H1106.2V366.6H1108.3V367.6H1110.3V366.8H1112.4V365.5H1114.5V366.4H1116.5V364.3H1118.5V362.8H1120.6V369.6H1122.6V368.5H1124.7V367.5H1126.8V369.7H1128.8V368.5H1130.8V368.8H1132.9V370.5H1135.0V372.5H1137.0V367.2H1139.0V363.9H1141.1V366.8H1143.1V363.6H1145.2V364.3H1147.2V364.0H1149.3V364.7H1151.3V364.8H1153.4V363.2H1155.5V367.7H1157.5V366.6H1159.5V369.2H1161.6V372.2H1163.6V370.5H1165.7V372.3H1167.8V365.5H1169.8V369.2H1171.8V370.7H1173.9V373.7H1176.0V370.5H1178.0V367.8H1180.0V368.2H1182.1V367.3H1184.1V368.1H1186.2V366.5H1188.2V370.7H1190.3V370.8H1192.3V370.0H1194.4V370.2H1196.4V369.3H1198.5V367.1H1200.5V366.9H1202.6V366.3H1204.6V369.3H1206.7V371.2H1208.8V368.2H1210.8V369.2H1212.8V369.4H1214.9V366.0H1216.9V366.4H1219.0V368.2H1221.0V365.8H1223.1V365.7H1225.1V367.0H1227.2V368.9H1229.2V372.0H1231.3V367.9H1233.3V368.7H1235.4V369.3H1237.4V369.5H1239.5V370.3H1241.5V371.5H1243.6V368.2H1245.6V366.9H1247.7V367.0H1249.8V370.1H1251.8V369.1H1253.8V370.4H1255.9V369.3H1257.9V368.8H1260.0V366.4H1262.0V370.4H1264.1V373.5H1266.1V372.7H1268.2V372.1H1270.2V370.1H1272.3V370.2H1274.3V372.0H1276.4V369.7H1278.4V369.6H1280.5V371.9H1282.5V372.6H1284.6V369.9H1286.6V376.1H1288.7V377.7H1290.8V375.8H1292.8V377.3H1294.8V366.3H1296.9V365.8H1298.9V369.7H1301.0V371.5H1303.0V371.9H1305.1V371.5H1307.1V367.4H1309.2V368.7H1311.2V371.7H1313.3V373.7H1315.3V376.6H1317.4V371.6H1319.4V374.4H1321.5V372.5H1323.5V374.2H1325.6V373.3H1327.6V374.8H1329.7V377.1H1331.7V367.8H1333.8V367.7H1335.8V374.6H1337.9V370.8H1339.9V371.0H1342.0V375.7H1344.0V370.4H1346.1V371.1H1348.1V370.5H1350.2V372.1H1352.2V373.6H1354.3V372.9H1356.3V373.3H1358.4V374.7H1360.4V370.9H1362.5V372.4H1364.5V368.7H1366.6V367.4H1368.6V369.6H1370.7V372.7H1372.7V367.4H1374.8V368.4H1376.8V368.2H1378.9V371.7H1380.9V371.6H1383.0V368.4H1385.0V371.0H1387.1V370.1H1389.1V372.8H1391.2V372.2H1393.2V371.9H1395.3V377.2H1397.3V378.6H1399.4V377.8H1401.4V378.4H1403.5V375.7H1405.5V378.6H1407.6V375.6H1409.6V374.6H1411.7V371.6H1413.7V373.1H1415.8V372.3H1417.8V376.1H1419.9V371.4H1421.9V367.8H1424.0V367.9H1426.0V369.9H1428.1V368.7H1430.1V377.6H1432.2V378.4H1434.2V379.8H1436.3V377.2H1438.3V378.9H1440.4V376.1H1442.4V373.5H1444.5V377.5H1446.5V371.4H1448.6V375.3H1450.6V370.4H1452.7V373.8H1454.7V375.3H1456.8V372.3H1458.8V372.9H1460.9V378.1H1462.9V374.9H1465.0V377.3H1467.0V375.3H1469.1V376.3H1471.1V377.8H1473.2V374.2H1475.2V375.5H1477.3V373.3H1479.3V377.5H1481.4V370.1H1483.4V377.7H1485.5V379.8H1487.5V377.7H1489.6V380.3H1491.6V374.3H1493.7V377.8H1495.7V379.6H1497.8V381.7H1499.8V381.9H1501.9V383.2H1503.9V382.7H1506.0V378.3H1508.0V382.2H1510.1V380.6H1512.1V383.5H1514.2V378.7H1516.2V378.4H1518.3V377.4H1520.3V379.9H1522.4V379.7H1524.4V378.2H1526.5V381.8H1528.5V379.2H1530.6V380.7H1532.6V381.7H1534.7V381.4H1536.7V380.7H1538.8V379.9H1540.8V380.9H1542.9V379.1H1544.9V375.0H1547.0V375.0H1549.0V376.5H1551.1V374.6H1553.1V381.8H1555.2V381.9H1557.2V374.0H1559.3V374.4H1561.3V378.0H1563.4V377.3H1565.4V373.8H1567.5V378.9H1569.5V377.9H1571.6V382.7H1573.6V377.7H1575.7V380.3H1577.7V379.9H1579.8V378.8H1581.8V376.7H1583.9V380.2H1585.9V378.4H1588.0V379.5H1590.0V376.1H1592.1V375.0H1594.1V379.5H1596.2V377.0H1598.2V379.7H1600.3V375.2H1602.3V379.8H1604.4V374.5H1606.4V375.6H1608.5V376.9H1610.5V371.1H1612.6V371.1H1614.6V377.1H1616.7V376.8H1618.7V373.3H1620.8V370.8H1622.8V374.6H1624.9V384.7H1626.9V379.4H1629.0V383.4H1631.0V385.2H1633.1V379.1H1635.1V372.6H1637.2V372.7H1639.2V374.7H1641.3V379.7H1643.3V384.4H1645.4V376.2H1647.4V374.6H1649.5V372.8H1651.5V376.0H1653.6V377.1H1655.6V372.6H1657.7V377.6H1659.7V371.6H1661.8V374.0H1663.8V375.2H1665.9V370.3H1667.9V376.6H1670.0V372.6H1672.0V372.3H1674.1V371.6H1676.1V370.5H1678.2V371.4H1680.2V372.5H1682.3V373.5H1684.3V371.8H1686.4V370.3H1688.4V370.4H1690.5V375.9H1692.5V378.2H1694.6V377.7H1696.6V374.1H1698.7V374.4H1700.7V379.3H1702.8V374.2H1704.8V374.6H1706.9V377.0H1708.9V373.7H1711.0V369.3H1713.0V368.9H1715.1V379.0H1717.1V376.0H1719.2V374.7H1721.2V374.5H1723.3V377.1H1725.3V373.5H1727.4V379.6H1729.4V373.3H1731.5V373.9H1733.5V371.3H1735.6V374.4H1737.6V373.2H1739.7V371.9H1741.7V375.8H1743.8V375.2H1745.8V375.3H1747.9V379.9H1749.9V376.2H1752.0V380.2H1754.0V379.2H1756.1V378.1H1758.1V373.8H1760.2V377.1H1762.2V377.8H1764.3V377.2H1766.3V375.9H1768.4V378.8H1770.4V380.7H1772.5V380.8H1774.5V371.5H1776.6V374.8H1778.6V382.3H1780.7V380.5H1782.7V383.4H1784.8V368.6H1786.8V374.0H1788.9V373.8H1790.9V375.7H1793.0V372.1H1795.0V377.7H1797.1V371.0H1799.1V377.8H1801.2V371.3H1803.2V373.3H1805.3V376.3H1807.3V375.4H1809.4V374.2H1811.4V374.6H1813.5V370.3H1815.5V373.7H1817.6V382.3H1819.6V384.9H1821.7V381.3H1823.7V382.9H1825.8V379.8H1827.8V385.0H1829.9V385.1H1831.9V382.4H1834.0V383.4H1836.0V383.0H1838.1V378.4H1840.1V379.2H1842.2V384.1H1844.2V377.4H1846.3V380.6H1848.3V383.8H1850.4V378.1H1852.4V382.3H1854.5V378.8H1856.5V378.2H1858.6V376.4H1860.6V379.7H1862.7V375.8H1864.7V380.1H1866.8V378.1H1868.8V376.0H1870.9V376.6H1872.9V380.3H1875.0V382.2H1877.0V375.5H1879.1V372.7H1881.1V371.5H1883.2V375.8H1885.2V372.7H1887.3V371.4H1889.3V375.7H1891.4V376.4H1893.4V380.0H1895.5V379.9H1897.5V378.1H1899.6V381.5H1901.6V376.4H1903.7V377.3H1905.7V377.0H1907.8V380.8H1909.8V375.9H1911.9V376.1H1913.9V381.8H1916.0V381.5H1918.0V378.7H1919.6V421.3H1918.0V421.2H1916.0V421.7H1913.9V421.3H1911.9V421.4H1909.8V421.9H1907.8V421.4H1905.7V421.8H1903.7V422.0H1901.6V420.9H1899.6V421.0H1897.5V421.4H1895.5V421.7H1893.4V420.5H1891.4V421.9H1889.3V421.0H1887.3V420.4H1885.2V421.3H1883.2V421.4H1881.1V420.7H1879.1V420.8H1877.0V420.5H1875.0V420.7H1872.9V421.0H1870.9V420.2H1868.8V421.4H1866.8V421.2H1864.7V421.1H1862.7V420.8H1860.6V421.3H1858.6V421.3H1856.5V421.4H1854.5V421.3H1852.4V421.0H1850.4V420.6H1848.3V421.1H1846.3V420.7H1844.2V420.7H1842.2V420.5H1840.1V421.0H1838.1V420.7H1836.0V421.2H1834.0V421.1H1831.9V421.2H1829.9V420.3H1827.8V420.6H1825.8V420.4H1823.7V420.5H1821.7V420.7H1819.6V421.1H1817.6V420.9H1815.5V420.6H1813.5V422.1H1811.4V422.0H1809.4V421.5H1807.3V421.7H1805.3V422.0H1803.2V422.0H1801.2V421.1H1799.1V421.4H1797.1V420.5H1795.0V421.0H1793.0V421.2H1790.9V420.7H1788.9V420.6H1786.8V421.3H1784.8V421.5H1782.7V421.7H1780.7V420.8H1778.6V422.0H1776.6V420.7H1774.5V421.1H1772.5V420.7H1770.4V422.1H1768.4V422.0H1766.3V420.9H1764.3V420.9H1762.2V421.5H1760.2V421.4H1758.1V420.8H1756.1V420.7H1754.0V421.9H1752.0V421.1H1749.9V421.1H1747.9V420.8H1745.8V421.0H1743.8V421.8H1741.7V420.6H1739.7V421.6H1737.6V421.5H1735.6V421.5H1733.5V421.5H1731.5V420.3H1729.4V421.7H1727.4V420.3H1725.3V420.9H1723.3V421.0H1721.2V420.8H1719.2V421.1H1717.1V419.7H1715.1V421.1H1713.0V420.2H1711.0V420.4H1708.9V420.5H1706.9V420.1H1704.8V422.1H1702.8V422.2H1700.7V421.7H1698.7V422.0H1696.6V421.6H1694.6V421.5H1692.5V420.0H1690.5V419.6H1688.4V420.5H1686.4V420.9H1684.3V420.5H1682.3V421.3H1680.2V420.5H1678.2V420.7H1676.1V419.4H1674.1V420.4H1672.0V421.1H1670.0V421.1H1667.9V420.8H1665.9V420.3H1663.8V420.1H1661.8V421.5H1659.7V421.2H1657.7V421.3H1655.6V421.6H1653.6V420.8H1651.5V420.7H1649.5V419.6H1647.4V419.4H1645.4V420.0H1643.3V419.8H1641.3V419.1H1639.2V421.3H1637.2V421.2H1635.1V419.1H1633.1V419.1H1631.0V420.4H1629.0V420.1H1626.9V420.2H1624.9V419.1H1622.8V419.9H1620.8V419.2H1618.7V419.4H1616.7V418.8H1614.6V418.8H1612.6V419.6H1610.5V419.2H1608.5V420.1H1606.4V419.8H1604.4V418.8H1602.3V420.3H1600.3V419.1H1598.2V419.3H1596.2V420.0H1594.1V419.0H1592.1V419.1H1590.0V420.2H1588.0V419.5H1585.9V419.2H1583.9V419.9H1581.8V419.5H1579.8V419.4H1577.7V420.2H1575.7V420.3H1573.6V419.5H1571.6V419.5H1569.5V418.6H1567.5V419.9H1565.4V419.6H1563.4V419.3H1561.3V418.4H1559.3V419.1H1557.2V418.2H1555.2V419.3H1553.1V419.0H1551.1V419.7H1549.0V418.6H1547.0V419.8H1544.9V419.6H1542.9V418.8H1540.8V419.9H1538.8V419.6H1536.7V418.6H1534.7V419.3H1532.6V419.7H1530.6V418.4H1528.5V419.2H1526.5V418.7H1524.4V419.4H1522.4V418.8H1520.3V419.7H1518.3V418.5H1516.2V419.5H1514.2V418.6H1512.1V419.7H1510.1V419.5H1508.0V419.2H1506.0V419.4H1503.9V419.8H1501.9V418.0H1499.8V418.0H1497.8V418.4H1495.7V418.6H1493.7V419.8H1491.6V418.6H1489.6V418.9H1487.5V419.0H1485.5V419.1H1483.4V418.6H1481.4V418.3H1479.3V419.0H1477.3V419.1H1475.2V419.1H1473.2V419.1H1471.1V419.1H1469.1V418.2H1467.0V418.1H1465.0V417.9H1462.9V417.7H1460.9V418.4H1458.8V418.8H1456.8V418.4H1454.7V419.2H1452.7V419.3H1450.6V416.8H1448.6V417.1H1446.5V417.3H1444.5V418.4H1442.4V418.2H1440.4V418.1H1438.3V418.9H1436.3V418.5H1434.2V417.6H1432.2V418.6H1430.1V418.8H1428.1V418.1H1426.0V417.9H1424.0V417.6H1421.9V417.4H1419.9V416.6H1417.8V417.1H1415.8V416.5H1413.7V416.7H1411.7V417.5H1409.6V416.6H1407.6V416.5H1405.5V416.3H1403.5V418.2H1401.4V418.6H1399.4V418.2H1397.3V417.9H1395.3V417.3H1393.2V418.6H1391.2V417.7H1389.1V418.2H1387.1V418.4H1385.0V418.1H1383.0V417.1H1380.9V417.0H1378.9V417.5H1376.8V416.7H1374.8V416.7H1372.7V416.2H1370.7V417.4H1368.6V416.3H1366.6V416.4H1364.5V416.8H1362.5V417.4H1360.4V417.1H1358.4V416.9H1356.3V415.9H1354.3V416.7H1352.2V416.8H1350.2V416.1H1348.1V416.9H1346.1V416.8H1344.0V417.0H1342.0V417.1H1339.9V417.2H1337.9V417.2H1335.8V416.6H1333.8V417.8H1331.7V416.8H1329.7V417.0H1327.6V417.3H1325.6V417.1H1323.5V416.5H1321.5V417.4H1319.4V416.0H1317.4V416.3H1315.3V416.6H1313.3V417.1H1311.2V416.0H1309.2V416.7H1307.1V416.6H1305.1V416.5H1303.0V416.2H1301.0V416.3H1298.9V416.1H1296.9V416.2H1294.8V416.6H1292.8V416.6H1290.8V416.6H1288.7V416.4H1286.6V416.0H1284.6V417.2H1282.5V417.0H1280.5V416.2H1278.4V417.0H1276.4V415.7H1274.3V415.9H1272.3V416.5H1270.2V415.6H1268.2V415.4H1266.1V415.5H1264.1V416.5H1262.0V415.4H1260.0V415.5H1257.9V416.0H1255.9V414.9H1253.8V417.0H1251.8V415.8H1249.8V416.5H1247.7V416.1H1245.6V416.0H1243.6V416.0H1241.5V416.5H1239.5V415.2H1237.4V415.5H1235.4V415.4H1233.3V415.1H1231.3V414.7H1229.2V415.9H1227.2V415.7H1225.1V415.6H1223.1V416.2H1221.0V415.9H1219.0V415.8H1216.9V416.2H1214.9V415.2H1212.8V414.7H1210.8V415.7H1208.8V415.3H1206.7V415.2H1204.6V415.3H1202.6V414.8H1200.5V415.0H1198.5V415.8H1196.4V414.6H1194.4V415.0H1192.3V415.6H1190.3V415.3H1188.2V414.9H1186.2V415.5H1184.1V416.1H1182.1V415.5H1180.0V416.0H1178.0V415.4H1176.0V415.7H1173.9V414.6H1171.8V415.6H1169.8V414.4H1167.8V414.3H1165.7V415.6H1163.6V415.0H1161.6V414.0H1159.5V414.9H1157.5V413.6H1155.5V414.4H1153.4V414.7H1151.3V414.2H1149.3V414.8H1147.2V414.4H1145.2V414.6H1143.1V415.0H1141.1V413.8H1139.0V415.0H1137.0V414.0H1135.0V415.5H1132.9V414.8H1130.8V414.5H1128.8V414.9H1126.8V414.5H1124.7V414.9H1122.6V414.2H1120.6V413.5H1118.5V413.9H1116.5V414.0H1114.5V413.4H1112.4V413.0H1110.3V414.8H1108.3V413.5H1106.2V413.9H1104.2V414.4H1102.1V414.8H1100.1V413.9H1098.0V414.9H1096.0V413.8H1094.0V413.8H1091.9V415.2H1089.8V414.0H1087.8V414.6H1085.8V414.7H1083.7V414.5H1081.6V414.9H1079.6V414.5H1077.5V412.9H1075.5V414.0H1073.5V413.6H1071.4V414.5H1069.3V414.6H1067.3V414.5H1065.2V415.1H1063.2V415.0H1061.1V414.9H1059.1V413.7H1057.0V414.2H1055.0V413.8H1053.0V414.8H1050.9V414.2H1048.8V415.1H1046.8V414.3H1044.8V413.9H1042.7V413.7H1040.6V413.2H1038.6V413.7H1036.5V414.2H1034.5V413.7H1032.5V414.6H1030.4V413.3H1028.3V412.5H1026.3V413.9H1024.2V413.9H1022.2V412.9H1020.1V412.4H1018.1V413.7H1016.0V412.9H1014.0V413.3H1012.0V413.4H1009.9V413.1H1007.8V413.9H1005.8V413.4H1003.8V414.1H1001.7V412.6H999.6V413.5H997.6V413.7H995.5V412.5H993.5V413.4H991.5V412.7H989.4V413.4H987.3V412.7H985.3V412.4H983.2V412.4H981.2V413.0H979.1V412.0H977.1V412.1H975.0V412.0H973.0V413.0H971.0V411.9H968.9V412.1H966.8V412.3H964.8V411.9H962.8V413.1H960.7V411.9H958.6V411.8H956.6V411.9H954.5V413.2H952.5V412.3H950.5V412.6H948.4V411.7H946.3V411.7H944.3V413.0H942.2V412.0H940.2V412.3H938.1V411.8H936.1V412.8H934.0V412.9H932.0V411.6H930.0V411.8H927.9V411.8H925.8V412.4H923.8V411.9H921.8V411.8H919.7V411.9H917.6V411.7H915.6V412.1H913.5V412.0H911.5V411.7H909.5V411.3H907.4V410.9H905.3V410.8H903.3V411.1H901.2V411.4H899.2V411.4H897.1V411.4H895.1V410.6H893.0V410.6H891.0V410.0H889.0V410.6H886.9V410.8H884.8V411.4H882.8V410.8H880.8V411.7H878.7V410.6H876.6V410.4H874.6V411.0H872.5V409.8H870.5V410.8H868.5V409.3H866.4V410.3H864.3V411.0H862.3V411.3H860.2V410.5H858.2V409.2H856.1V409.6H854.1V409.4H852.0V410.1H850.0V409.2H848.0V410.0H845.9V409.8H843.8V410.0H841.8V409.4H839.8V409.1H837.7V408.7H835.6V409.3H833.6V409.7H831.5V408.3H829.5V409.1H827.5V408.9H825.4V408.0H823.3V409.1H821.3V407.8H819.2V407.9H817.2V408.3H815.1V407.6H813.1V408.1H811.0V408.2H809.0V408.4H807.0V408.3H804.9V408.1H802.8V407.4H800.8V407.9H798.8V407.6H796.7V407.3H794.6V407.6H792.6V406.9H790.5V407.5H788.5V406.4H786.5V407.1H784.4V405.9H782.3V407.4H780.3V407.0H778.2V406.9H776.2V406.8H774.1V406.1H772.1V405.3H770.0V405.9H768.0V405.7H766.0V405.4H763.9V405.7H761.8V406.0H759.8V405.7H757.8V405.0H755.7V404.8H753.6V405.3H751.6V404.5H749.5V404.4H747.5V405.3H745.5V405.0H743.4V404.1H741.3V405.1H739.3V404.7H737.2V404.0H735.2V403.5H733.1V403.5H731.1V403.9H729.0V403.6H727.0V403.8H725.0V403.4H722.9V403.5H720.8V403.5H718.8V402.7H716.8V402.1H714.7V402.5H712.6V403.3H710.6V402.3H708.5V403.3H706.5V402.1H704.5V402.4H702.4V401.6H700.3V402.6H698.3V401.3H696.2V401.5H694.2V401.7H692.1V400.3H690.1V400.6H688.0V399.4H686.0V400.6H684.0V398.7H681.9V399.1H679.8V399.4H677.8V399.9H675.8V399.5H673.7V400.1H671.6V399.6H669.6V399.5H667.5V399.5H665.5V399.9H663.5V399.6H661.4V399.8H659.3V399.9H657.3V399.7H655.2V399.7H653.2V399.8H651.1V400.7H649.1V401.3H647.0V400.7H645.0V400.8H643.0V401.2H640.9V400.6H638.8V400.9H636.8V400.8H634.8V400.6H632.7V400.5H630.6V400.0H628.6V400.7H626.5V400.1H624.5V400.9H622.5V400.4H620.4V400.2H618.3V400.1H616.3V398.7H614.2V398.6H612.2V397.9H610.1V397.7H608.1V398.9H606.0V398.4H604.0V397.4H602.0V397.9H599.9V397.8H597.8V396.7H595.8V396.8H593.8V396.7H591.7V396.3H589.6V396.6H587.6V396.1H585.5V395.7H583.5V395.3H581.5V394.9H579.4V394.7H577.3V395.0H575.3V395.1H573.2V395.0H571.2V394.8H569.1V395.5H567.1V394.7H565.0V395.1H563.0V394.6H561.0V393.8H558.9V393.5H556.8V393.7H554.8V393.0H552.8V393.2H550.7V393.5H548.6V392.8H546.6V392.2H544.5V391.7H542.5V391.8H540.5V391.4H538.4V392.1H536.3V391.2H534.3V391.7H532.2V390.8H530.2V390.6H528.1V390.5H526.1V390.8H524.0V390.5H522.0V390.3H520.0V390.2H517.9V390.2H515.9V390.5H513.8V389.8H511.8V389.1H509.7V388.5H507.6V388.6H505.6V388.8H503.5V388.1H501.5V388.1H499.4V388.1H497.4V387.6H495.4V387.2H493.3V387.6H491.2V387.2H489.2V387.0H487.1V387.3H485.1V387.1H483.0V387.0H481.0V386.9H478.9V386.8H476.9V386.4H474.9V386.0H472.8V386.3H470.8V386.2H468.7V386.2H466.6V385.3H464.6V385.0H462.5V384.8H460.5V385.1H458.4V384.5H456.4V384.8H454.4V384.7H452.3V384.2H450.2V384.0H448.2V383.8H446.1V384.4H444.1V384.1H442.0V383.1H440.0V383.1H437.9V383.0H435.9V383.0H433.9V382.4H431.8V382.9H429.8V382.1H427.7V382.6H425.6V382.2H423.6V383.4H421.6V382.9H419.5V383.0H417.4V382.7H415.4V383.3H413.4V382.9H411.3V382.7H409.2V383.1H407.2V382.7H405.1V382.5H403.1V382.6H401.1V382.5H399.0V380.8H396.9V379.7H394.9V377.9H392.9V377.8H390.8V377.6H388.8V377.8H386.7V377.9H384.6V377.6H382.6V377.7H380.6V377.4H378.5V377.3H376.4V376.2H374.4V375.7H372.4V375.7H370.3V375.7H368.2V374.8H366.2V374.7H364.1V374.6H362.1V374.2H360.1V374.1H358.0V374.2H355.9V374.0H353.9V373.2H351.9V373.1H349.8V372.7H347.8V373.3H345.7V373.2H343.6V373.2H341.6V372.6H339.6V372.4H337.5V371.7H335.4V371.3H333.4V371.4H331.4V371.4H329.3V371.8H327.2V371.2H325.2V370.6H323.1V370.1H321.1V370.6H319.1V369.9H317.0V369.6H314.9V370.3H312.9V369.7H310.9V369.4H308.8V370.0H306.8V369.5H304.7V369.6H302.6V370.5H300.6V370.2H298.6V370.8H296.5V371.2H294.4V371.1H292.4V371.9H290.4V372.3H288.3V372.6H286.2V373.4H284.2V372.6H282.2V372.4H280.1V371.9H278.1V371.5H276.0V370.8H273.9V372.1H271.9V374.0H269.9V375.5H267.8Z"/></g>
<rect x="1915.8" y="376" width="3.8" height="45.6" fill="#008c5f"/>
<rect x="1915.8" y="352" width="3.8" height="25" fill="#1d6b50"/>
<path fill="none" stroke="#000" stroke-width="3.2" d="M253.4,546.5 H262.2 M246.3,479.3 H262.2 M253.4,412.1 H262.2 M246.3,345.0 H262.2 M253.4,277.9 H262.2 M246.3,210.7 H262.2 M253.4,143.5 H262.2 M246.3,76.4 H262.2"/>
<text class="b" x="164.1" y="630.9" font-size="56.5" textLength="68.5" lengthAdjust="spacingAndGlyphs">0.0</text>
<text class="b" x="164.1" y="496.6" font-size="56.5" textLength="68.5" lengthAdjust="spacingAndGlyphs">0.1</text>
<text class="b" x="164.1" y="362.3" font-size="56.5" textLength="68.5" lengthAdjust="spacingAndGlyphs">0.2</text>
<text class="b" x="164.1" y="228.0" font-size="56.5" textLength="68.5" lengthAdjust="spacingAndGlyphs">0.3</text>
<text class="b" x="164.1" y="93.7" font-size="56.5" textLength="68.5" lengthAdjust="spacingAndGlyphs">0.4</text>
<text x="1804.9" y="113.8" font-size="77" textLength="87.8" lengthAdjust="spacingAndGlyphs" fill="#006400">A3</text>
<!-- panel A2 -->
<g fill="#1c1ca0" fill-opacity="0.75"><rect x="266.2" y="794.4" width="2.2" height="430.1" fill-opacity="1"/><rect x="670.8" y="902.4" width="2.6" height="70.1"/><rect x="760.6" y="859.2" width="2.6" height="118.6"/><rect x="773.5" y="969.2" width="2.0" height="11.5"/><rect x="780.7" y="961.0" width="2.2" height="20.0"/><rect x="802.6" y="932.7" width="2.6" height="49.2"/><rect x="906.8" y="967.0" width="2.2" height="17.0"/><rect x="964.4" y="891.3" width="2.6" height="95.8"/><rect x="1052.1" y="895.8" width="2.6" height="96.8"/><rect x="1092.6" y="906.8" width="2.6" height="88.2"/><rect x="1165.5" y="911.0" width="2.2" height="83.4"/><rect x="1219.6" y="983.2" width="2.0" height="13.0"/><rect x="1261.4" y="950.4" width="2.4" height="45.9"/><rect x="1292.3" y="887.3" width="2.6" height="108.6"/><rect x="1315.9" y="987.0" width="2.0" height="7.0"/><rect x="1321.7" y="931.6" width="2.2" height="61.9"/><rect x="1324.0" y="830.9" width="2.2" height="162.4"/><rect x="1449.8" y="967.0" width="2.0" height="32.4"/><rect x="1508.2" y="970.8" width="2.4" height="27.9"/><rect x="1513.4" y="861.5" width="2.2" height="134.7"/><rect x="1610.3" y="900.6" width="2.6" height="100.3"/><rect x="1755.0" y="888.5" width="2.6" height="112.9"/><rect x="1772.5" y="906.8" width="2.6" height="95.5"/></g>
<g filter="url(#softd)" fill="#0000ff"><path fill-opacity="0.42" d="M267.8,939.6H269.9V939.8H271.9V936.4H273.9V938.6H276.0V936.2H278.1V931.5H280.1V936.3H282.2V939.4H284.2V937.3H286.2V938.9H288.3V938.3H290.4V940.8H292.4V940.8H294.4V939.9H296.5V939.4H298.6V941.7H300.6V940.5H302.6V944.9H304.7V940.7H306.8V942.1H308.8V944.2H310.9V943.2H312.9V942.1H314.9V941.0H317.0V942.4H319.1V941.3H321.1V941.2H323.1V939.1H325.2V938.4H327.2V941.5H329.3V941.9H331.4V936.5H333.4V933.3H335.4V932.1H337.5V935.5H339.6V936.3H341.6V937.7H343.6V941.0H345.7V942.1H347.8V946.1H349.8V943.9H351.9V944.5H353.9V944.0H355.9V942.2H358.0V943.1H360.1V941.6H362.1V940.3H364.1V942.1H366.2V940.9H368.2V941.2H370.3V940.6H372.4V940.2H374.4V941.4H376.4V942.1H378.5V940.8H380.6V942.8H382.6V942.2H384.6V942.9H386.7V942.3H388.8V943.1H390.8V943.4H392.9V944.4H394.9V943.8H396.9V944.2H399.0V945.7H401.1V944.8H403.1V944.2H405.1V946.1H407.2V945.9H409.2V947.7H411.3V949.6H413.4V950.2H415.4V949.8H417.4V950.2H419.5V952.4H421.6V951.3H423.6V953.0H425.6V953.2H427.7V952.3H429.8V952.7H431.8V952.5H433.9V954.6H435.9V954.0H437.9V955.6H440.0V957.0H442.0V956.0H444.1V956.3H446.1V957.7H448.2V956.5H450.2V956.8H452.3V959.1H454.4V957.9H456.4V958.8H458.4V959.0H460.5V958.0H462.5V958.3H464.6V958.6H466.6V959.2H468.7V959.9H470.8V957.9H472.8V957.1H474.9V958.1H476.9V958.1H478.9V957.2H481.0V958.4H483.0V957.7H485.1V957.4H487.1V956.7H489.2V957.9H491.2V957.5H493.3V956.7H495.4V956.3H497.4V956.5H499.4V955.9H501.5V956.8H503.5V955.5H505.6V955.8H507.6V956.4H509.7V955.8H511.8V955.5H513.8V956.6H515.9V955.1H517.9V954.9H520.0V955.3H522.0V954.8H524.0V954.7H526.1V954.8H528.1V954.6H530.2V955.8H532.2V955.4H534.3V954.7H536.3V956.1H538.4V954.9H540.5V956.2H542.5V956.8H544.5V956.5H546.6V956.3H548.6V957.1H550.7V957.0H552.8V955.6H554.8V955.5H556.8V955.9H558.9V956.6H561.0V957.7H563.0V958.1H565.0V956.6H567.1V956.5H569.1V958.4H571.2V957.6H573.2V957.0H575.3V959.4H577.3V958.7H579.4V959.7H581.5V959.8H583.5V960.9H585.5V959.0H587.6V959.1H589.6V960.2H591.7V959.2H593.8V959.5H595.8V960.1H597.8V961.4H599.9V961.3H602.0V961.1H604.0V961.4H606.0V960.8H608.1V961.2H610.1V961.5H612.2V961.5H614.2V962.2H616.3V961.2H618.3V961.1H620.4V960.6H622.5V962.0H624.5V962.1H626.5V960.7H628.6V961.8H630.6V961.1H632.7V962.7H634.8V963.1H636.8V963.7H638.8V962.8H640.9V964.3H643.0V963.2H645.0V964.1H647.0V963.4H649.1V963.6H651.1V965.2H653.2V965.2H655.2V964.6H657.3V966.3H659.3V965.6H661.4V965.2H663.5V967.0H665.5V966.6H667.5V966.7H669.6V966.8H671.6V966.4H673.7V966.1H675.8V966.9H677.8V967.5H679.8V968.2H681.9V967.1H684.0V968.2H686.0V968.8H688.0V968.8H690.1V968.3H692.1V968.2H694.2V967.9H696.2V970.1H698.3V968.6H700.3V967.7H702.4V964.9H704.5V966.2H706.5V965.7H708.5V965.8H710.6V967.3H712.6V966.7H714.7V967.6H716.8V966.3H718.8V967.1H720.8V966.9H722.9V967.4H725.0V967.2H727.0V967.9H729.0V966.9H731.1V966.7H733.1V967.8H735.2V967.2H737.2V968.3H739.3V967.7H741.3V967.4H743.4V967.2H745.5V967.7H747.5V969.7H749.5V968.1H751.6V968.9H753.6V969.0H755.7V969.9H757.8V969.9H759.8V972.4H761.8V974.3H763.9V975.2H766.0V973.9H768.0V974.4H770.0V975.3H772.1V975.4H774.1V975.3H776.2V974.3H778.2V975.0H780.3V975.7H782.3V975.6H784.4V974.3H786.5V976.4H788.5V974.6H790.5V976.3H792.6V975.7H794.6V976.6H796.7V976.4H798.8V976.2H800.8V975.6H802.8V977.0H804.9V977.2H807.0V975.7H809.0V976.4H811.0V976.9H813.1V976.3H815.1V976.2H817.2V976.8H819.2V976.0H821.3V975.4H823.3V977.6H825.4V977.5H827.5V976.3H829.5V976.0H831.5V975.9H833.6V976.8H835.6V975.9H837.7V975.8H839.8V976.4H841.8V976.3H843.8V976.6H845.9V977.3H848.0V978.0H850.0V977.4H852.0V976.4H854.1V976.1H856.1V977.8H858.2V978.1H860.2V976.5H862.3V977.7H864.3V977.8H866.4V977.2H868.5V976.8H870.5V977.4H872.5V978.2H874.6V977.2H876.6V977.4H878.7V976.2H880.8V978.5H882.8V976.9H884.8V978.2H886.9V976.8H889.0V977.2H891.0V978.3H893.0V978.9H895.1V978.3H897.1V978.4H899.2V978.6H901.2V978.7H903.3V978.8H905.3V977.6H907.4V978.3H909.5V979.6H911.5V978.5H913.5V978.4H915.6V979.5H917.6V978.9H919.7V978.3H921.8V979.8H923.8V979.6H925.8V977.9H927.9V978.6H930.0V978.1H932.0V979.5H934.0V979.7H936.1V978.2H938.1V978.9H940.2V978.7H942.2V979.9H944.3V979.1H946.3V978.1H948.4V977.5H950.5V977.8H952.5V979.5H954.5V979.8H956.6V980.7H958.6V979.1H960.7V980.7H962.8V981.7H964.8V981.0H966.8V981.3H968.9V981.3H971.0V981.3H973.0V982.8H975.0V982.8H977.1V982.8H979.1V983.0H981.2V984.4H983.2V983.9H985.3V983.5H987.3V984.7H989.4V984.5H991.5V985.4H993.5V984.9H995.5V983.7H997.6V985.9H999.6V983.9H1001.7V985.6H1003.8V986.2H1005.8V985.0H1007.8V984.6H1009.9V986.0H1012.0V985.6H1014.0V986.7H1016.0V986.2H1018.1V986.1H1020.1V985.9H1022.2V985.6H1024.2V986.9H1026.3V987.1H1028.3V986.9H1030.4V985.8H1032.5V986.0H1034.5V987.6H1036.5V986.2H1038.6V987.2H1040.6V985.7H1042.7V986.0H1044.8V986.1H1046.8V987.7H1048.8V986.8H1050.9V987.8H1053.0V987.2H1055.0V984.5H1057.0V982.5H1059.1V983.2H1061.1V984.2H1063.2V982.9H1065.2V984.8H1067.3V984.2H1069.3V984.6H1071.4V985.2H1073.5V984.8H1075.5V985.1H1077.5V986.2H1079.6V986.5H1081.6V987.2H1083.7V986.4H1085.8V987.6H1087.8V987.0H1089.8V987.7H1091.9V988.0H1094.0V988.2H1096.0V989.7H1098.0V989.8H1100.1V988.5H1102.1V989.3H1104.2V989.7H1106.2V990.8H1108.3V989.4H1110.3V989.3H1112.4V989.4H1114.5V989.7H1116.5V990.7H1118.5V989.3H1120.6V989.3H1122.6V989.3H1124.7V989.0H1126.8V990.4H1128.8V989.9H1130.8V990.0H1132.9V988.9H1135.0V988.3H1137.0V990.2H1139.0V987.6H1141.1V987.9H1143.1V988.0H1145.2V989.2H1147.2V988.3H1149.3V988.8H1151.3V987.7H1153.4V988.6H1155.5V988.4H1157.5V988.2H1159.5V988.3H1161.6V988.0H1163.6V987.8H1165.7V988.6H1167.8V987.5H1169.8V989.5H1171.8V987.9H1173.9V988.7H1176.0V989.5H1178.0V989.1H1180.0V990.5H1182.1V990.0H1184.1V990.3H1186.2V990.6H1188.2V990.8H1190.3V990.9H1192.3V989.7H1194.4V989.7H1196.4V988.7H1198.5V988.5H1200.5V988.6H1202.6V988.3H1204.6V990.7H1206.7V988.8H1208.8V988.6H1210.8V989.6H1212.8V990.0H1214.9V989.7H1216.9V989.7H1219.0V989.8H1221.0V989.8H1223.1V990.6H1225.1V988.9H1227.2V990.5H1229.2V990.1H1231.3V990.7H1233.3V989.2H1235.4V989.0H1237.4V989.6H1239.5V989.1H1241.5V990.6H1243.6V990.6H1245.6V989.8H1247.7V990.9H1249.8V991.3H1251.8V989.5H1253.8V991.1H1255.9V990.0H1257.9V991.1H1260.0V990.4H1262.0V990.6H1264.1V990.7H1266.1V991.1H1268.2V989.7H1270.2V990.8H1272.3V989.3H1274.3V990.6H1276.4V989.5H1278.4V989.9H1280.5V990.3H1282.5V989.9H1284.6V990.5H1286.6V990.0H1288.7V989.9H1290.8V989.0H1292.8V990.3H1294.8V989.8H1296.9V990.2H1298.9V990.4H1301.0V988.5H1303.0V989.3H1305.1V988.7H1307.1V988.6H1309.2V988.1H1311.2V988.6H1313.3V988.0H1315.3V988.8H1317.4V988.4H1319.4V988.0H1321.5V987.6H1323.5V987.4H1325.6V987.5H1327.6V987.2H1329.7V988.4H1331.7V988.3H1333.8V989.1H1335.8V989.5H1337.9V991.1H1339.9V990.2H1342.0V990.6H1344.0V991.6H1346.1V991.0H1348.1V992.5H1350.2V994.3H1352.2V993.0H1354.3V992.4H1356.3V992.1H1358.4V992.0H1360.4V993.0H1362.5V992.1H1364.5V992.6H1366.6V992.6H1368.6V992.8H1370.7V993.1H1372.7V993.8H1374.8V993.5H1376.8V994.5H1378.9V994.1H1380.9V992.3H1383.0V994.0H1385.0V994.3H1387.1V993.1H1389.1V993.9H1391.2V993.3H1393.2V992.5H1395.3V993.1H1397.3V993.5H1399.4V993.6H1401.4V994.4H1403.5V993.7H1405.5V992.6H1407.6V991.9H1409.6V994.1H1411.7V992.3H1413.7V993.6H1415.8V992.0H1417.8V992.5H1419.9V993.5H1421.9V993.1H1424.0V992.0H1426.0V992.9H1428.1V993.3H1430.1V993.7H1432.2V993.8H1434.2V993.8H1436.3V993.4H1438.3V994.5H1440.4V993.0H1442.4V994.0H1444.5V993.0H1446.5V993.0H1448.6V993.9H1450.6V994.4H1452.7V993.9H1454.7V995.1H1456.8V993.8H1458.8V995.0H1460.9V994.1H1462.9V992.8H1465.0V992.3H1467.0V993.5H1469.1V994.5H1471.1V993.3H1473.2V994.2H1475.2V994.2H1477.3V993.4H1479.3V992.5H1481.4V993.8H1483.4V993.9H1485.5V994.3H1487.5V994.2H1489.6V995.0H1491.6V995.0H1493.7V995.0H1495.7V993.5H1497.8V995.3H1499.8V995.0H1501.9V993.8H1503.9V995.6H1506.0V993.2H1508.0V993.9H1510.1V992.0H1512.1V991.2H1514.2V990.6H1516.2V988.6H1518.3V988.0H1520.3V989.7H1522.4V990.3H1524.4V991.8H1526.5V989.6H1528.5V991.8H1530.6V990.1H1532.6V991.1H1534.7V992.6H1536.7V991.1H1538.8V990.7H1540.8V991.5H1542.9V992.5H1544.9V992.9H1547.0V993.0H1549.0V992.2H1551.1V992.6H1553.1V992.4H1555.2V993.3H1557.2V994.4H1559.3V994.5H1561.3V993.4H1563.4V994.2H1565.4V993.0H1567.5V993.9H1569.5V993.0H1571.6V994.6H1573.6V994.0H1575.7V994.1H1577.7V993.1H1579.8V993.1H1581.8V994.8H1583.9V993.8H1585.9V993.1H1588.0V994.2H1590.0V995.3H1592.1V995.5H1594.1V995.7H1596.2V994.5H1598.2V994.6H1600.3V994.7H1602.3V995.4H1604.4V995.8H1606.4V994.9H1608.5V995.4H1610.5V994.0H1612.6V994.9H1614.6V995.0H1616.7V995.4H1618.7V996.1H1620.8V996.0H1622.8V995.0H1624.9V996.4H1626.9V996.0H1629.0V995.2H1631.0V994.8H1633.1V994.6H1635.1V996.0H1637.2V996.8H1639.2V996.0H1641.3V996.0H1643.3V996.6H1645.4V994.2H1647.4V995.0H1649.5V995.8H1651.5V995.8H1653.6V994.7H1655.6V994.3H1657.7V996.4H1659.7V996.1H1661.8V996.3H1663.8V997.1H1665.9V995.4H1667.9V997.1H1670.0V996.1H1672.0V996.7H1674.1V995.8H1676.1V996.2H1678.2V995.3H1680.2V995.0H1682.3V995.6H1684.3V995.0H1686.4V995.5H1688.4V995.4H1690.5V997.4H1692.5V996.5H1694.6V996.1H1696.6V996.8H1698.7V995.9H1700.7V996.7H1702.8V995.7H1704.8V996.3H1706.9V996.2H1708.9V995.4H1711.0V996.0H1713.0V996.0H1715.1V995.2H1717.1V994.2H1719.2V994.5H1721.2V995.4H1723.3V995.3H1725.3V995.6H1727.4V995.4H1729.4V994.5H1731.5V994.2H1733.5V994.9H1735.6V994.4H1737.6V995.5H1739.7V994.3H1741.7V994.7H1743.8V995.4H1745.8V996.4H1747.9V995.1H1749.9V996.3H1752.0V995.9H1754.0V994.8H1756.1V996.7H1758.1V995.6H1760.2V996.2H1762.2V994.5H1764.3V993.8H1766.3V993.6H1768.4V995.5H1770.4V995.0H1772.5V995.8H1774.5V996.6H1776.6V998.1H1778.6V997.6H1780.7V998.1H1782.7V1000.2H1784.8V999.1H1786.8V999.5H1788.9V999.8H1790.9V1000.2H1793.0V999.7H1795.0V999.9H1797.1V1000.1H1799.1V1000.9H1801.2V1000.1H1803.2V999.3H1805.3V998.3H1807.3V1000.8H1809.4V999.8H1811.4V1000.3H1813.5V999.9H1815.5V1000.2H1817.6V999.7H1819.6V999.8H1821.7V1000.4H1823.7V1000.5H1825.8V1000.0H1827.8V1000.8H1829.9V1000.7H1831.9V1000.3H1834.0V1001.4H1836.0V1002.1H1838.1V999.6H1840.1V1000.9H1842.2V999.4H1844.2V999.6H1846.3V1001.2H1848.3V1000.6H1850.4V999.4H1852.4V1000.7H1854.5V999.6H1856.5V1000.7H1858.6V1001.1H1860.6V1001.4H1862.7V1001.2H1864.7V1002.2H1866.8V1001.5H1868.8V1001.3H1870.9V1001.4H1872.9V1000.2H1875.0V1000.1H1877.0V999.6H1879.1V999.2H1881.1V1001.0H1883.2V1000.2H1885.2V999.9H1887.3V1000.1H1889.3V1001.7H1891.4V1004.5H1893.4V1005.2H1895.5V1004.3H1897.5V1005.5H1899.6V1005.4H1901.6V1004.8H1903.7V1005.8H1905.7V1004.3H1907.8V1004.5H1909.8V1005.0H1910.6V1043.9H1909.8V1044.7H1907.8V1044.4H1905.7V1042.5H1903.7V1044.8H1901.6V1042.8H1899.6V1042.6H1897.5V1043.0H1895.5V1044.4H1893.4V1043.1H1891.4V1044.9H1889.3V1044.6H1887.3V1042.8H1885.2V1043.4H1883.2V1043.5H1881.1V1044.3H1879.1V1044.7H1877.0V1042.8H1875.0V1043.8H1872.9V1042.7H1870.9V1044.1H1868.8V1043.7H1866.8V1042.5H1864.7V1043.4H1862.7V1044.5H1860.6V1043.1H1858.6V1043.2H1856.5V1042.8H1854.5V1043.1H1852.4V1042.7H1850.4V1042.4H1848.3V1042.1H1846.3V1041.8H1844.2V1043.1H1842.2V1042.1H1840.1V1043.8H1838.1V1041.8H1836.0V1042.1H1834.0V1041.2H1831.9V1042.9H1829.9V1043.3H1827.8V1042.1H1825.8V1041.4H1823.7V1040.9H1821.7V1040.6H1819.6V1041.2H1817.6V1040.9H1815.5V1040.2H1813.5V1040.8H1811.4V1042.1H1809.4V1040.6H1807.3V1040.0H1805.3V1042.2H1803.2V1040.7H1801.2V1040.3H1799.1V1040.7H1797.1V1041.0H1795.0V1040.4H1793.0V1041.5H1790.9V1039.2H1788.9V1039.6H1786.8V1039.5H1784.8V1041.1H1782.7V1039.5H1780.7V1040.8H1778.6V1039.4H1776.6V1038.7H1774.5V1039.6H1772.5V1040.0H1770.4V1040.0H1768.4V1039.6H1766.3V1038.9H1764.3V1039.2H1762.2V1039.2H1760.2V1037.9H1758.1V1038.8H1756.1V1037.4H1754.0V1040.4H1752.0V1038.6H1749.9V1039.5H1747.9V1039.0H1745.8V1038.9H1743.8V1039.4H1741.7V1038.7H1739.7V1037.9H1737.6V1040.2H1735.6V1038.6H1733.5V1040.1H1731.5V1039.3H1729.4V1038.2H1727.4V1039.5H1725.3V1038.2H1723.3V1039.9H1721.2V1039.7H1719.2V1039.2H1717.1V1037.8H1715.1V1038.5H1713.0V1037.3H1711.0V1038.5H1708.9V1039.5H1706.9V1039.8H1704.8V1039.2H1702.8V1038.0H1700.7V1039.6H1698.7V1038.1H1696.6V1039.3H1694.6V1038.3H1692.5V1037.9H1690.5V1036.8H1688.4V1038.7H1686.4V1038.3H1684.3V1037.6H1682.3V1038.8H1680.2V1038.2H1678.2V1039.0H1676.1V1036.4H1674.1V1038.7H1672.0V1037.9H1670.0V1039.1H1667.9V1039.6H1665.9V1037.3H1663.8V1038.3H1661.8V1037.4H1659.7V1039.3H1657.7V1038.4H1655.6V1038.7H1653.6V1038.0H1651.5V1037.7H1649.5V1037.3H1647.4V1038.5H1645.4V1038.4H1643.3V1038.6H1641.3V1037.0H1639.2V1039.0H1637.2V1037.6H1635.1V1037.9H1633.1V1037.9H1631.0V1038.7H1629.0V1038.0H1626.9V1039.4H1624.9V1039.4H1622.8V1039.1H1620.8V1039.3H1618.7V1038.1H1616.7V1037.5H1614.6V1038.0H1612.6V1037.7H1610.5V1038.2H1608.5V1037.4H1606.4V1037.7H1604.4V1037.6H1602.3V1038.7H1600.3V1037.5H1598.2V1038.2H1596.2V1037.7H1594.1V1036.6H1592.1V1038.3H1590.0V1038.9H1588.0V1036.9H1585.9V1038.9H1583.9V1038.0H1581.8V1038.0H1579.8V1037.4H1577.7V1037.4H1575.7V1037.3H1573.6V1038.0H1571.6V1038.7H1569.5V1037.1H1567.5V1037.4H1565.4V1038.4H1563.4V1039.1H1561.3V1038.0H1559.3V1037.5H1557.2V1037.3H1555.2V1037.9H1553.1V1036.8H1551.1V1037.9H1549.0V1037.4H1547.0V1037.7H1544.9V1038.2H1542.9V1037.2H1540.8V1037.1H1538.8V1037.9H1536.7V1038.5H1534.7V1038.2H1532.6V1038.7H1530.6V1037.0H1528.5V1038.4H1526.5V1038.4H1524.4V1037.7H1522.4V1037.4H1520.3V1037.6H1518.3V1037.1H1516.2V1039.2H1514.2V1036.9H1512.1V1038.1H1510.1V1038.6H1508.0V1037.9H1506.0V1039.6H1503.9V1037.8H1501.9V1037.9H1499.8V1037.3H1497.8V1037.4H1495.7V1037.4H1493.7V1038.0H1491.6V1037.5H1489.6V1036.7H1487.5V1036.9H1485.5V1037.6H1483.4V1037.8H1481.4V1037.9H1479.3V1036.6H1477.3V1035.8H1475.2V1037.3H1473.2V1035.5H1471.1V1037.7H1469.1V1037.5H1467.0V1037.4H1465.0V1037.6H1462.9V1036.2H1460.9V1036.6H1458.8V1035.8H1456.8V1036.6H1454.7V1037.7H1452.7V1037.0H1450.6V1036.5H1448.6V1036.0H1446.5V1037.3H1444.5V1037.1H1442.4V1036.2H1440.4V1036.6H1438.3V1036.7H1436.3V1035.8H1434.2V1037.1H1432.2V1035.8H1430.1V1037.3H1428.1V1035.8H1426.0V1036.0H1424.0V1036.9H1421.9V1035.9H1419.9V1036.9H1417.8V1036.6H1415.8V1036.3H1413.7V1036.7H1411.7V1036.2H1409.6V1036.1H1407.6V1036.5H1405.5V1035.9H1403.5V1034.7H1401.4V1036.2H1399.4V1035.3H1397.3V1036.6H1395.3V1036.6H1393.2V1035.6H1391.2V1036.0H1389.1V1035.2H1387.1V1036.5H1385.0V1036.3H1383.0V1035.7H1380.9V1034.7H1378.9V1036.9H1376.8V1036.4H1374.8V1035.7H1372.7V1035.7H1370.7V1035.7H1368.6V1035.0H1366.6V1034.4H1364.5V1034.6H1362.5V1035.0H1360.4V1035.7H1358.4V1036.1H1356.3V1034.8H1354.3V1035.1H1352.2V1036.3H1350.2V1034.9H1348.1V1035.6H1346.1V1036.8H1344.0V1036.6H1342.0V1036.4H1339.9V1036.6H1337.9V1037.2H1335.8V1035.2H1333.8V1037.4H1331.7V1035.9H1329.7V1035.2H1327.6V1035.3H1325.6V1036.6H1323.5V1036.0H1321.5V1036.2H1319.4V1035.4H1317.4V1034.3H1315.3V1035.8H1313.3V1036.5H1311.2V1034.9H1309.2V1034.1H1307.1V1033.5H1305.1V1034.8H1303.0V1034.3H1301.0V1034.2H1298.9V1033.3H1296.9V1035.0H1294.8V1035.2H1292.8V1034.8H1290.8V1033.2H1288.7V1033.2H1286.6V1033.8H1284.6V1033.3H1282.5V1032.5H1280.5V1032.4H1278.4V1033.2H1276.4V1032.6H1274.3V1033.1H1272.3V1032.7H1270.2V1031.6H1268.2V1030.5H1266.1V1032.1H1264.1V1032.0H1262.0V1032.6H1260.0V1032.5H1257.9V1031.6H1255.9V1034.1H1253.8V1032.0H1251.8V1033.2H1249.8V1032.8H1247.7V1033.4H1245.6V1030.9H1243.6V1032.6H1241.5V1031.2H1239.5V1033.0H1237.4V1031.9H1235.4V1031.8H1233.3V1031.4H1231.3V1031.7H1229.2V1032.6H1227.2V1031.9H1225.1V1030.7H1223.1V1032.0H1221.0V1031.7H1219.0V1031.3H1216.9V1031.7H1214.9V1031.6H1212.8V1031.6H1210.8V1030.9H1208.8V1031.1H1206.7V1030.2H1204.6V1031.0H1202.6V1031.6H1200.5V1032.1H1198.5V1032.1H1196.4V1031.5H1194.4V1031.9H1192.3V1032.2H1190.3V1030.8H1188.2V1031.0H1186.2V1031.5H1184.1V1031.3H1182.1V1031.3H1180.0V1030.3H1178.0V1029.5H1176.0V1030.6H1173.9V1029.9H1171.8V1029.1H1169.8V1030.9H1167.8V1029.6H1165.7V1029.4H1163.6V1029.4H1161.6V1029.2H1159.5V1028.2H1157.5V1028.4H1155.5V1028.7H1153.4V1029.2H1151.3V1029.6H1149.3V1027.0H1147.2V1027.7H1145.2V1029.2H1143.1V1026.7H1141.1V1028.6H1139.0V1028.8H1137.0V1028.7H1135.0V1028.3H1132.9V1028.4H1130.8V1029.1H1128.8V1028.6H1126.8V1026.9H1124.7V1027.9H1122.6V1028.1H1120.6V1030.0H1118.5V1028.5H1116.5V1028.0H1114.5V1028.4H1112.4V1028.1H1110.3V1028.4H1108.3V1028.6H1106.2V1029.3H1104.2V1029.3H1102.1V1028.3H1100.1V1028.7H1098.0V1027.4H1096.0V1029.3H1094.0V1028.1H1091.9V1027.4H1089.8V1026.6H1087.8V1027.0H1085.8V1027.9H1083.7V1028.2H1081.6V1028.6H1079.6V1027.0H1077.5V1026.7H1075.5V1028.3H1073.5V1028.2H1071.4V1028.7H1069.3V1026.5H1067.3V1026.2H1065.2V1027.6H1063.2V1025.0H1061.1V1025.1H1059.1V1027.0H1057.0V1025.8H1055.0V1025.7H1053.0V1026.3H1050.9V1026.2H1048.8V1026.5H1046.8V1024.7H1044.8V1025.0H1042.7V1025.3H1040.6V1026.6H1038.6V1026.3H1036.5V1025.8H1034.5V1024.8H1032.5V1025.7H1030.4V1025.7H1028.3V1026.2H1026.3V1024.8H1024.2V1026.0H1022.2V1026.9H1020.1V1025.3H1018.1V1025.5H1016.0V1025.6H1014.0V1024.8H1012.0V1025.4H1009.9V1025.5H1007.8V1025.8H1005.8V1024.6H1003.8V1024.9H1001.7V1025.0H999.6V1024.7H997.6V1024.8H995.5V1024.7H993.5V1026.5H991.5V1024.1H989.4V1024.8H987.3V1026.1H985.3V1025.0H983.2V1025.5H981.2V1024.7H979.1V1025.8H977.1V1025.3H975.0V1025.3H973.0V1025.3H971.0V1024.6H968.9V1025.9H966.8V1026.2H964.8V1025.7H962.8V1026.7H960.7V1025.7H958.6V1024.7H956.6V1025.7H954.5V1025.3H952.5V1025.4H950.5V1025.0H948.4V1024.1H946.3V1023.3H944.3V1024.4H942.2V1025.3H940.2V1025.0H938.1V1024.3H936.1V1025.2H934.0V1024.5H932.0V1025.3H930.0V1025.2H927.9V1024.4H925.8V1025.0H923.8V1025.2H921.8V1024.0H919.7V1023.9H917.6V1025.9H915.6V1025.3H913.5V1023.8H911.5V1025.4H909.5V1025.1H907.4V1024.4H905.3V1024.3H903.3V1023.7H901.2V1024.6H899.2V1024.2H897.1V1023.9H895.1V1025.2H893.0V1023.4H891.0V1025.1H889.0V1024.3H886.9V1024.0H884.8V1023.8H882.8V1024.4H880.8V1024.5H878.7V1025.4H876.6V1024.2H874.6V1024.9H872.5V1025.2H870.5V1023.7H868.5V1025.1H866.4V1024.7H864.3V1023.4H862.3V1024.1H860.2V1025.2H858.2V1024.4H856.1V1026.3H854.1V1025.2H852.0V1024.0H850.0V1025.0H848.0V1023.6H845.9V1024.7H843.8V1025.5H841.8V1025.9H839.8V1024.6H837.7V1025.3H835.6V1025.5H833.6V1025.3H831.5V1024.5H829.5V1025.0H827.5V1022.4H825.4V1024.4H823.3V1025.4H821.3V1024.6H819.2V1025.3H817.2V1024.6H815.1V1024.0H813.1V1023.5H811.0V1023.5H809.0V1024.0H807.0V1024.0H804.9V1023.7H802.8V1024.5H800.8V1023.1H798.8V1023.7H796.7V1023.6H794.6V1023.8H792.6V1024.6H790.5V1023.9H788.5V1023.5H786.5V1022.4H784.4V1023.1H782.3V1022.0H780.3V1023.9H778.2V1022.2H776.2V1023.8H774.1V1022.4H772.1V1023.6H770.0V1023.8H768.0V1022.7H766.0V1022.3H763.9V1022.8H761.8V1022.6H759.8V1022.5H757.8V1022.5H755.7V1023.2H753.6V1023.7H751.6V1023.0H749.5V1023.2H747.5V1022.8H745.5V1022.3H743.4V1021.6H741.3V1020.5H739.3V1021.7H737.2V1022.2H735.2V1022.2H733.1V1023.2H731.1V1022.5H729.0V1020.8H727.0V1021.3H725.0V1020.7H722.9V1019.6H720.8V1019.9H718.8V1020.7H716.8V1020.3H714.7V1020.9H712.6V1019.4H710.6V1019.1H708.5V1019.0H706.5V1020.1H704.5V1019.8H702.4V1019.7H700.3V1019.6H698.3V1018.9H696.2V1017.1H694.2V1018.2H692.1V1018.5H690.1V1019.7H688.0V1017.0H686.0V1018.7H684.0V1017.6H681.9V1018.2H679.8V1018.7H677.8V1019.2H675.8V1017.7H673.7V1018.2H671.6V1017.6H669.6V1018.9H667.5V1017.6H665.5V1018.4H663.5V1017.9H661.4V1017.4H659.3V1017.8H657.3V1018.1H655.2V1017.7H653.2V1018.0H651.1V1017.4H649.1V1019.0H647.0V1017.1H645.0V1016.8H643.0V1017.1H640.9V1018.8H638.8V1017.0H636.8V1016.2H634.8V1016.5H632.7V1017.8H630.6V1017.3H628.6V1016.9H626.5V1016.7H624.5V1015.9H622.5V1017.9H620.4V1017.7H618.3V1018.5H616.3V1018.1H614.2V1016.9H612.2V1017.7H610.1V1015.9H608.1V1016.6H606.0V1017.0H604.0V1016.5H602.0V1015.3H599.9V1014.7H597.8V1015.3H595.8V1014.9H593.8V1014.4H591.7V1014.7H589.6V1016.0H587.6V1014.9H585.5V1013.9H583.5V1014.3H581.5V1014.3H579.4V1014.0H577.3V1013.0H575.3V1015.2H573.2V1014.1H571.2V1013.4H569.1V1013.5H567.1V1013.9H565.0V1012.0H563.0V1013.9H561.0V1012.6H558.9V1012.6H556.8V1012.2H554.8V1012.8H552.8V1013.3H550.7V1013.9H548.6V1013.1H546.6V1014.6H544.5V1012.1H542.5V1013.5H540.5V1013.4H538.4V1013.2H536.3V1013.5H534.3V1011.8H532.2V1011.0H530.2V1011.3H528.1V1011.3H526.1V1010.1H524.0V1011.3H522.0V1011.4H520.0V1010.4H517.9V1010.5H515.9V1008.5H513.8V1010.0H511.8V1010.3H509.7V1009.5H507.6V1008.4H505.6V1009.6H503.5V1007.3H501.5V1007.5H499.4V1007.1H497.4V1008.1H495.4V1007.4H493.3V1006.9H491.2V1005.9H489.2V1006.6H487.1V1007.4H485.1V1006.9H483.0V1006.3H481.0V1006.5H478.9V1004.9H476.9V1006.3H474.9V1005.6H472.8V1007.9H470.8V1006.5H468.7V1005.7H466.6V1005.1H464.6V1005.9H462.5V1006.2H460.5V1005.7H458.4V1004.5H456.4V1006.2H454.4V1005.9H452.3V1005.0H450.2V1005.1H448.2V1005.1H446.1V1003.9H444.1V1005.7H442.0V1004.8H440.0V1004.2H437.9V1006.0H435.9V1004.2H433.9V1004.9H431.8V1005.4H429.8V1005.4H427.7V1004.6H425.6V1007.1H423.6V1005.0H421.6V1006.3H419.5V1005.6H417.4V1005.8H415.4V1006.3H413.4V1005.3H411.3V1004.9H409.2V1002.5H407.2V1001.9H405.1V1002.2H403.1V1001.6H401.1V1000.3H399.0V1000.5H396.9V1001.5H394.9V1001.4H392.9V1000.5H390.8V1001.0H388.8V1000.4H386.7V1000.7H384.6V1000.3H382.6V1001.3H380.6V1000.6H378.5V1001.0H376.4V1001.7H374.4V1002.3H372.4V1001.5H370.3V1000.9H368.2V1001.3H366.2V1001.1H364.1V1002.9H362.1V1001.5H360.1V1002.9H358.0V1001.6H355.9V1000.2H353.9V1000.6H351.9V1001.8H349.8V1000.3H347.8V1000.3H345.7V1001.1H343.6V999.7H341.6V1000.9H339.6V1000.0H337.5V999.5H335.4V1000.1H333.4V1000.6H331.4V999.7H329.3V999.4H327.2V998.8H325.2V1000.5H323.1V1001.3H321.1V1000.7H319.1V1001.0H317.0V1002.5H314.9V1001.9H312.9V1003.0H310.9V1002.7H308.8V1003.5H306.8V1004.1H304.7V1005.3H302.6V1005.3H300.6V1006.8H298.6V1010.2H296.5V1012.5H294.4V1015.0H292.4V1016.3H290.4V1016.2H288.3V1015.0H286.2V1014.8H284.2V1014.8H282.2V1014.2H280.1V1014.1H278.1V1014.6H276.0V1015.8H273.9V1019.8H271.9V1021.0H269.9V1022.7H267.8Z"/><path d="M267.8,941.4H269.9V942.1H271.9V939.8H273.9V939.2H276.0V937.9H278.1V935.1H280.1V938.1H282.2V940.3H284.2V940.7H286.2V940.5H288.3V940.6H290.4V941.0H292.4V941.9H294.4V943.3H296.5V942.8H298.6V941.9H300.6V943.0H302.6V944.9H304.7V943.1H306.8V944.0H308.8V946.3H310.9V945.7H312.9V942.9H314.9V943.1H317.0V943.0H319.1V943.5H321.1V941.5H323.1V941.4H325.2V940.4H327.2V943.3H329.3V943.8H331.4V936.7H333.4V935.9H335.4V935.6H337.5V937.0H339.6V938.2H341.6V940.9H343.6V943.1H345.7V944.9H347.8V946.4H349.8V945.0H351.9V945.0H353.9V944.8H355.9V944.1H358.0V944.0H360.1V943.1H362.1V942.2H364.1V943.2H366.2V942.5H368.2V942.5H370.3V942.3H372.4V942.1H374.4V942.7H376.4V942.9H378.5V942.3H380.6V943.0H382.6V943.2H384.6V943.9H386.7V943.9H388.8V943.6H390.8V944.3H392.9V944.5H394.9V944.6H396.9V945.5H399.0V945.9H401.1V945.9H403.1V945.7H405.1V946.4H407.2V947.3H409.2V948.5H411.3V949.8H413.4V950.6H415.4V951.0H417.4V951.6H419.5V952.9H421.6V953.1H423.6V953.2H425.6V953.3H427.7V953.3H429.8V954.1H431.8V954.0H433.9V955.0H435.9V955.5H437.9V956.3H440.0V957.2H442.0V957.9H444.1V958.1H446.1V957.9H448.2V957.9H450.2V958.5H452.3V959.1H454.4V959.0H456.4V959.2H458.4V959.2H460.5V959.1H462.5V959.3H464.6V959.3H466.6V959.3H468.7V959.9H470.8V959.3H472.8V958.6H474.9V958.4H476.9V958.8H478.9V958.8H481.0V959.2H483.0V958.9H485.1V958.5H487.1V958.6H489.2V958.0H491.2V958.6H493.3V958.6H495.4V958.1H497.4V957.2H499.4V957.2H501.5V957.1H503.5V957.1H505.6V957.2H507.6V956.5H509.7V956.6H511.8V956.4H513.8V956.6H515.9V956.5H517.9V956.6H520.0V956.4H522.0V956.3H524.0V956.4H526.1V956.0H528.1V956.1H530.2V956.1H532.2V956.4H534.3V956.2H536.3V956.8H538.4V956.2H540.5V956.4H542.5V957.4H544.5V958.0H546.6V957.8H548.6V957.7H550.7V957.9H552.8V957.2H554.8V957.5H556.8V957.2H558.9V957.1H561.0V958.0H563.0V958.4H565.0V958.4H567.1V958.4H569.1V959.0H571.2V959.2H573.2V958.8H575.3V960.2H577.3V960.4H579.4V960.8H581.5V961.1H583.5V961.4H585.5V960.7H587.6V960.9H589.6V961.2H591.7V960.9H593.8V961.2H595.8V961.4H597.8V962.0H599.9V962.3H602.0V962.8H604.0V962.9H606.0V962.7H608.1V963.0H610.1V962.4H612.2V962.6H614.2V963.0H616.3V963.0H618.3V963.0H620.4V962.5H622.5V962.9H624.5V963.0H626.5V962.4H628.6V963.0H630.6V962.9H632.7V963.4H634.8V963.7H636.8V964.2H638.8V964.5H640.9V964.6H643.0V964.5H645.0V964.9H647.0V964.7H649.1V965.2H651.1V965.6H653.2V966.1H655.2V966.0H657.3V966.8H659.3V967.0H661.4V966.9H663.5V967.7H665.5V967.6H667.5V967.2H669.6V967.3H671.6V967.1H673.7V967.5H675.8V968.2H677.8V968.3H679.8V968.3H681.9V968.8H684.0V969.2H686.0V969.6H688.0V970.3H690.1V970.2H692.1V969.3H694.2V969.7H696.2V970.1H698.3V970.1H700.3V967.8H702.4V966.0H704.5V966.3H706.5V966.6H708.5V967.3H710.6V967.7H712.6V968.2H714.7V968.2H716.8V967.8H718.8V967.7H720.8V967.7H722.9V968.7H725.0V968.5H727.0V968.6H729.0V968.4H731.1V968.4H733.1V969.0H735.2V968.5H737.2V969.1H739.3V969.2H741.3V968.9H743.4V969.2H745.5V969.6H747.5V969.7H749.5V969.4H751.6V969.7H753.6V970.2H755.7V971.1H757.8V971.4H759.8V972.4H761.8V974.3H763.9V976.1H766.0V975.4H768.0V975.7H770.0V975.6H772.1V976.3H774.1V976.3H776.2V976.1H778.2V976.2H780.3V975.9H782.3V976.0H784.4V976.2H786.5V976.5H788.5V976.4H790.5V976.4H792.6V976.7H794.6V976.8H796.7V976.9H798.8V977.4H800.8V977.3H802.8V977.0H804.9V977.4H807.0V976.5H809.0V976.6H811.0V976.9H813.1V977.1H815.1V976.6H817.2V977.1H819.2V976.9H821.3V977.2H823.3V977.7H825.4V977.9H827.5V977.7H829.5V977.0H831.5V977.1H833.6V977.6H835.6V976.9H837.7V977.1H839.8V977.4H841.8V978.2H843.8V978.5H845.9V978.1H848.0V978.3H850.0V978.8H852.0V978.2H854.1V977.6H856.1V978.3H858.2V978.4H860.2V978.2H862.3V978.1H864.3V978.3H866.4V978.5H868.5V978.5H870.5V978.5H872.5V978.6H874.6V979.0H876.6V978.0H878.7V977.9H880.8V978.5H882.8V978.5H884.8V978.4H886.9V978.8H889.0V978.8H891.0V979.0H893.0V978.9H895.1V978.6H897.1V979.3H899.2V979.9H901.2V979.9H903.3V979.9H905.3V978.8H907.4V979.2H909.5V979.6H911.5V978.9H913.5V979.6H915.6V979.5H917.6V979.7H919.7V980.2H921.8V980.3H923.8V979.9H925.8V979.5H927.9V979.7H930.0V979.6H932.0V979.7H934.0V979.9H936.1V979.9H938.1V980.5H940.2V979.9H942.2V980.5H944.3V979.8H946.3V979.9H948.4V979.3H950.5V979.6H952.5V980.4H954.5V981.2H956.6V980.7H958.6V980.5H960.7V981.2H962.8V981.7H964.8V982.4H966.8V982.7H968.9V982.8H971.0V983.2H973.0V983.9H975.0V983.3H977.1V983.4H979.1V984.2H981.2V984.5H983.2V984.9H985.3V985.0H987.3V985.1H989.4V985.4H991.5V985.6H993.5V985.7H995.5V985.5H997.6V986.3H999.6V985.8H1001.7V986.4H1003.8V986.2H1005.8V986.4H1007.8V986.6H1009.9V987.6H1012.0V987.5H1014.0V987.5H1016.0V987.3H1018.1V987.4H1020.1V987.3H1022.2V987.3H1024.2V987.5H1026.3V987.2H1028.3V987.2H1030.4V987.2H1032.5V987.3H1034.5V987.8H1036.5V987.8H1038.6V987.7H1040.6V987.5H1042.7V987.9H1044.8V987.9H1046.8V987.8H1048.8V988.3H1050.9V988.1H1053.0V987.4H1055.0V984.6H1057.0V983.6H1059.1V984.0H1061.1V984.5H1063.2V984.8H1065.2V984.9H1067.3V985.2H1069.3V985.5H1071.4V986.1H1073.5V986.0H1075.5V987.0H1077.5V987.2H1079.6V987.8H1081.6V987.7H1083.7V987.9H1085.8V988.2H1087.8V988.3H1089.8V988.5H1091.9V989.7H1094.0V990.1H1096.0V991.1H1098.0V991.2H1100.1V990.4H1102.1V991.2H1104.2V990.9H1106.2V991.1H1108.3V990.8H1110.3V990.7H1112.4V990.4H1114.5V991.2H1116.5V990.7H1118.5V991.0H1120.6V990.6H1122.6V990.9H1124.7V990.9H1126.8V991.0H1128.8V991.0H1130.8V990.1H1132.9V990.1H1135.0V989.5H1137.0V990.3H1139.0V989.2H1141.1V989.2H1143.1V989.4H1145.2V989.5H1147.2V989.1H1149.3V989.7H1151.3V988.9H1153.4V988.9H1155.5V989.1H1157.5V989.4H1159.5V989.5H1161.6V989.6H1163.6V989.3H1165.7V989.8H1167.8V989.2H1169.8V989.6H1171.8V989.4H1173.9V989.2H1176.0V989.7H1178.0V989.6H1180.0V990.9H1182.1V990.6H1184.1V990.8H1186.2V990.8H1188.2V991.0H1190.3V991.2H1192.3V990.1H1194.4V989.8H1196.4V990.3H1198.5V990.0H1200.5V990.4H1202.6V990.0H1204.6V990.8H1206.7V990.5H1208.8V990.4H1210.8V990.4H1212.8V990.8H1214.9V990.6H1216.9V990.5H1219.0V991.1H1221.0V990.9H1223.1V991.3H1225.1V990.7H1227.2V991.1H1229.2V990.7H1231.3V990.9H1233.3V990.5H1235.4V990.9H1237.4V991.2H1239.5V990.9H1241.5V990.9H1243.6V990.7H1245.6V991.3H1247.7V990.9H1249.8V991.4H1251.8V991.3H1253.8V991.1H1255.9V990.7H1257.9V991.3H1260.0V990.5H1262.0V992.0H1264.1V991.6H1266.1V991.7H1268.2V991.3H1270.2V990.9H1272.3V991.3H1274.3V991.4H1276.4V991.3H1278.4V991.2H1280.5V990.9H1282.5V991.3H1284.6V991.8H1286.6V991.5H1288.7V991.5H1290.8V990.9H1292.8V990.8H1294.8V991.2H1296.9V991.4H1298.9V990.9H1301.0V990.5H1303.0V990.2H1305.1V989.2H1307.1V989.4H1309.2V989.8H1311.2V989.5H1313.3V989.6H1315.3V990.2H1317.4V989.4H1319.4V989.0H1321.5V988.8H1323.5V989.4H1325.6V988.7H1327.6V988.8H1329.7V988.7H1331.7V989.3H1333.8V989.7H1335.8V991.0H1337.9V991.6H1339.9V992.0H1342.0V991.8H1344.0V992.3H1346.1V992.6H1348.1V993.5H1350.2V994.4H1352.2V994.5H1354.3V994.1H1356.3V994.0H1358.4V993.7H1360.4V994.1H1362.5V993.9H1364.5V992.8H1366.6V993.2H1368.6V993.0H1370.7V994.0H1372.7V994.1H1374.8V994.2H1376.8V994.6H1378.9V994.5H1380.9V994.1H1383.0V994.5H1385.0V994.4H1387.1V994.0H1389.1V994.2H1391.2V994.3H1393.2V994.2H1395.3V994.4H1397.3V994.5H1399.4V994.2H1401.4V994.6H1403.5V993.7H1405.5V993.4H1407.6V993.8H1409.6V994.2H1411.7V993.8H1413.7V993.9H1415.8V993.8H1417.8V994.1H1419.9V993.7H1421.9V993.4H1424.0V993.2H1426.0V993.2H1428.1V993.6H1430.1V993.8H1432.2V994.8H1434.2V994.4H1436.3V994.2H1438.3V994.6H1440.4V994.0H1442.4V994.7H1444.5V994.6H1446.5V994.4H1448.6V994.3H1450.6V994.9H1452.7V995.3H1454.7V995.3H1456.8V995.2H1458.8V995.0H1460.9V994.4H1462.9V994.2H1465.0V994.3H1467.0V994.1H1469.1V994.6H1471.1V994.1H1473.2V994.4H1475.2V994.4H1477.3V994.0H1479.3V994.2H1481.4V994.2H1483.4V995.1H1485.5V995.3H1487.5V995.5H1489.6V995.4H1491.6V995.7H1493.7V995.1H1495.7V995.2H1497.8V995.3H1499.8V995.2H1501.9V995.6H1503.9V995.8H1506.0V995.2H1508.0V994.1H1510.1V993.1H1512.1V992.4H1514.2V991.0H1516.2V990.3H1518.3V989.6H1520.3V990.0H1522.4V990.4H1524.4V992.0H1526.5V991.4H1528.5V991.9H1530.6V991.2H1532.6V992.2H1534.7V992.7H1536.7V992.4H1538.8V992.6H1540.8V992.8H1542.9V993.0H1544.9V993.3H1547.0V994.0H1549.0V993.9H1551.1V994.5H1553.1V994.2H1555.2V994.5H1557.2V994.7H1559.3V994.5H1561.3V994.7H1563.4V994.5H1565.4V994.7H1567.5V994.5H1569.5V994.8H1571.6V994.9H1573.6V995.6H1575.7V995.2H1577.7V994.1H1579.8V994.9H1581.8V994.9H1583.9V994.7H1585.9V994.8H1588.0V995.9H1590.0V995.7H1592.1V996.4H1594.1V996.3H1596.2V995.1H1598.2V995.0H1600.3V995.5H1602.3V995.7H1604.4V996.8H1606.4V996.6H1608.5V996.2H1610.5V995.9H1612.6V995.8H1614.6V996.3H1616.7V996.1H1618.7V996.1H1620.8V996.4H1622.8V996.2H1624.9V996.8H1626.9V996.4H1629.0V995.9H1631.0V995.8H1633.1V996.0H1635.1V996.6H1637.2V997.1H1639.2V996.8H1641.3V997.0H1643.3V997.0H1645.4V996.0H1647.4V996.3H1649.5V996.0H1651.5V996.1H1653.6V996.0H1655.6V996.1H1657.7V996.8H1659.7V996.9H1661.8V996.8H1663.8V997.1H1665.9V997.2H1667.9V997.2H1670.0V996.8H1672.0V996.8H1674.1V996.6H1676.1V996.3H1678.2V996.3H1680.2V996.9H1682.3V996.2H1684.3V996.7H1686.4V996.9H1688.4V997.0H1690.5V997.6H1692.5V996.9H1694.6V997.6H1696.6V996.9H1698.7V996.9H1700.7V997.5H1702.8V997.5H1704.8V997.0H1706.9V997.0H1708.9V996.6H1711.0V996.8H1713.0V996.0H1715.1V996.3H1717.1V996.1H1719.2V996.1H1721.2V996.3H1723.3V996.7H1725.3V996.9H1727.4V996.7H1729.4V996.1H1731.5V996.1H1733.5V996.1H1735.6V996.3H1737.6V996.5H1739.7V996.1H1741.7V996.4H1743.8V996.8H1745.8V996.7H1747.9V996.6H1749.9V997.0H1752.0V996.6H1754.0V996.2H1756.1V997.0H1758.1V996.6H1760.2V996.7H1762.2V996.3H1764.3V995.4H1766.3V995.4H1768.4V996.1H1770.4V996.1H1772.5V997.0H1774.5V997.2H1776.6V998.5H1778.6V998.9H1780.7V999.3H1782.7V1000.4H1784.8V1000.3H1786.8V1000.5H1788.9V1000.8H1790.9V1000.4H1793.0V1001.0H1795.0V1000.8H1797.1V1001.2H1799.1V1001.0H1801.2V1001.4H1803.2V1000.1H1805.3V1000.2H1807.3V1001.4H1809.4V1001.5H1811.4V1002.0H1813.5V1001.9H1815.5V1000.8H1817.6V1000.8H1819.6V1000.2H1821.7V1000.8H1823.7V1001.1H1825.8V1001.4H1827.8V1001.4H1829.9V1001.3H1831.9V1001.8H1834.0V1001.9H1836.0V1002.4H1838.1V1001.3H1840.1V1001.4H1842.2V1000.9H1844.2V1000.8H1846.3V1001.5H1848.3V1001.2H1850.4V1001.2H1852.4V1001.6H1854.5V1001.1H1856.5V1001.6H1858.6V1001.5H1860.6V1002.4H1862.7V1002.6H1864.7V1002.3H1866.8V1002.2H1868.8V1002.4H1870.9V1002.8H1872.9V1001.2H1875.0V1001.5H1877.0V1001.5H1879.1V1001.1H1881.1V1001.4H1883.2V1001.0H1885.2V1001.7H1887.3V1002.0H1889.3V1003.5H1891.4V1004.5H1893.4V1005.4H1895.5V1005.5H1897.5V1005.7H1899.6V1006.1H1901.6V1006.4H1903.7V1005.9H1905.7V1006.2H1907.8V1006.1H1909.8V1006.2H1910.6V1042.8H1909.8V1043.1H1907.8V1043.1H1905.7V1042.5H1903.7V1043.0H1901.6V1042.8H1899.6V1042.1H1897.5V1043.0H1895.5V1043.2H1893.4V1042.6H1891.4V1043.2H1889.3V1043.4H1887.3V1042.1H1885.2V1042.1H1883.2V1042.9H1881.1V1043.6H1879.1V1043.3H1877.0V1042.7H1875.0V1042.5H1872.9V1042.2H1870.9V1042.3H1868.8V1042.2H1866.8V1042.0H1864.7V1041.8H1862.7V1042.8H1860.6V1041.9H1858.6V1042.2H1856.5V1042.6H1854.5V1041.6H1852.4V1041.7H1850.4V1042.1H1848.3V1041.9H1846.3V1041.2H1844.2V1041.3H1842.2V1042.0H1840.1V1042.0H1838.1V1041.2H1836.0V1041.4H1834.0V1041.2H1831.9V1041.4H1829.9V1041.7H1827.8V1041.4H1825.8V1040.6H1823.7V1040.3H1821.7V1040.5H1819.6V1040.7H1817.6V1040.9H1815.5V1039.8H1813.5V1039.8H1811.4V1041.0H1809.4V1039.2H1807.3V1039.7H1805.3V1040.7H1803.2V1039.5H1801.2V1040.1H1799.1V1039.1H1797.1V1039.1H1795.0V1039.3H1793.0V1039.8H1790.9V1038.9H1788.9V1039.3H1786.8V1039.1H1784.8V1039.4H1782.7V1038.9H1780.7V1039.3H1778.6V1038.1H1776.6V1038.7H1774.5V1038.5H1772.5V1038.9H1770.4V1038.2H1768.4V1038.3H1766.3V1038.3H1764.3V1038.3H1762.2V1038.3H1760.2V1037.6H1758.1V1037.4H1756.1V1037.1H1754.0V1038.4H1752.0V1038.3H1749.9V1038.3H1747.9V1037.9H1745.8V1037.3H1743.8V1037.8H1741.7V1037.9H1739.7V1037.9H1737.6V1038.6H1735.6V1038.2H1733.5V1038.1H1731.5V1038.0H1729.4V1037.5H1727.4V1038.1H1725.3V1037.4H1723.3V1038.2H1721.2V1037.9H1719.2V1037.8H1717.1V1037.6H1715.1V1037.9H1713.0V1037.2H1711.0V1036.5H1708.9V1038.6H1706.9V1038.3H1704.8V1037.3H1702.8V1036.9H1700.7V1037.9H1698.7V1037.1H1696.6V1037.3H1694.6V1037.8H1692.5V1037.2H1690.5V1036.6H1688.4V1038.1H1686.4V1037.6H1684.3V1036.4H1682.3V1037.0H1680.2V1037.3H1678.2V1037.0H1676.1V1036.4H1674.1V1037.8H1672.0V1037.1H1670.0V1037.8H1667.9V1037.9H1665.9V1036.9H1663.8V1037.2H1661.8V1037.1H1659.7V1037.4H1657.7V1037.2H1655.6V1037.7H1653.6V1036.6H1651.5V1036.6H1649.5V1037.3H1647.4V1037.6H1645.4V1037.3H1643.3V1037.4H1641.3V1036.7H1639.2V1037.6H1637.2V1037.6H1635.1V1037.3H1633.1V1037.1H1631.0V1037.1H1629.0V1037.5H1626.9V1037.6H1624.9V1038.0H1622.8V1037.4H1620.8V1038.0H1618.7V1038.1H1616.7V1037.0H1614.6V1036.4H1612.6V1037.3H1610.5V1037.3H1608.5V1036.6H1606.4V1035.8H1604.4V1036.0H1602.3V1037.0H1600.3V1037.0H1598.2V1036.3H1596.2V1037.3H1594.1V1036.5H1592.1V1037.6H1590.0V1037.3H1588.0V1036.7H1585.9V1037.7H1583.9V1037.4H1581.8V1037.6H1579.8V1036.3H1577.7V1036.7H1575.7V1035.9H1573.6V1037.5H1571.6V1037.3H1569.5V1036.6H1567.5V1036.4H1565.4V1036.9H1563.4V1037.1H1561.3V1036.8H1559.3V1036.2H1557.2V1036.2H1555.2V1036.2H1553.1V1035.8H1551.1V1036.3H1549.0V1037.2H1547.0V1036.3H1544.9V1036.8H1542.9V1036.5H1540.8V1036.8H1538.8V1036.1H1536.7V1036.5H1534.7V1036.2H1532.6V1036.9H1530.6V1036.5H1528.5V1037.0H1526.5V1037.0H1524.4V1036.1H1522.4V1036.0H1520.3V1037.1H1518.3V1036.9H1516.2V1037.2H1514.2V1036.7H1512.1V1036.9H1510.1V1037.7H1508.0V1037.8H1506.0V1037.6H1503.9V1037.7H1501.9V1037.0H1499.8V1036.8H1497.8V1036.0H1495.7V1036.8H1493.7V1036.4H1491.6V1036.7H1489.6V1035.9H1487.5V1036.5H1485.5V1036.2H1483.4V1036.0H1481.4V1036.4H1479.3V1036.2H1477.3V1035.6H1475.2V1035.8H1473.2V1035.1H1471.1V1036.5H1469.1V1036.5H1467.0V1036.8H1465.0V1036.4H1462.9V1036.1H1460.9V1035.8H1458.8V1035.7H1456.8V1034.7H1454.7V1035.7H1452.7V1035.3H1450.6V1035.2H1448.6V1036.0H1446.5V1035.9H1444.5V1035.5H1442.4V1034.5H1440.4V1034.7H1438.3V1034.9H1436.3V1034.4H1434.2V1035.3H1432.2V1034.2H1430.1V1035.7H1428.1V1034.9H1426.0V1035.2H1424.0V1035.3H1421.9V1035.6H1419.9V1035.5H1417.8V1034.7H1415.8V1034.9H1413.7V1035.2H1411.7V1034.9H1409.6V1034.7H1407.6V1035.9H1405.5V1035.3H1403.5V1033.6H1401.4V1034.3H1399.4V1034.1H1397.3V1034.8H1395.3V1035.5H1393.2V1034.6H1391.2V1035.4H1389.1V1035.0H1387.1V1035.5H1385.0V1035.1H1383.0V1034.5H1380.9V1034.6H1378.9V1035.2H1376.8V1034.6H1374.8V1034.5H1372.7V1034.5H1370.7V1034.0H1368.6V1034.4H1366.6V1034.0H1364.5V1033.7H1362.5V1034.0H1360.4V1034.6H1358.4V1035.1H1356.3V1034.1H1354.3V1034.4H1352.2V1034.8H1350.2V1034.6H1348.1V1034.8H1346.1V1035.3H1344.0V1035.2H1342.0V1035.2H1339.9V1034.7H1337.9V1035.5H1335.8V1034.4H1333.8V1035.4H1331.7V1035.3H1329.7V1033.7H1327.6V1034.7H1325.6V1035.4H1323.5V1035.4H1321.5V1034.7H1319.4V1034.2H1317.4V1034.1H1315.3V1035.0H1313.3V1034.7H1311.2V1033.6H1309.2V1034.0H1307.1V1032.7H1305.1V1034.4H1303.0V1033.3H1301.0V1033.7H1298.9V1033.3H1296.9V1033.6H1294.8V1033.2H1292.8V1033.2H1290.8V1032.8H1288.7V1033.0H1286.6V1032.9H1284.6V1031.7H1282.5V1031.4H1280.5V1031.0H1278.4V1031.8H1276.4V1031.5H1274.3V1031.7H1272.3V1030.7H1270.2V1031.0H1268.2V1030.4H1266.1V1030.2H1264.1V1030.5H1262.0V1031.8H1260.0V1031.6H1257.9V1031.0H1255.9V1032.1H1253.8V1031.4H1251.8V1031.7H1249.8V1031.5H1247.7V1031.4H1245.6V1030.4H1243.6V1031.3H1241.5V1031.0H1239.5V1031.3H1237.4V1030.6H1235.4V1030.6H1233.3V1031.2H1231.3V1030.9H1229.2V1031.4H1227.2V1031.0H1225.1V1030.5H1223.1V1030.5H1221.0V1030.4H1219.0V1030.7H1216.9V1031.0H1214.9V1030.8H1212.8V1030.9H1210.8V1029.8H1208.8V1030.4H1206.7V1029.8H1204.6V1030.4H1202.6V1030.3H1200.5V1030.2H1198.5V1030.2H1196.4V1030.1H1194.4V1031.0H1192.3V1030.8H1190.3V1030.8H1188.2V1029.9H1186.2V1030.5H1184.1V1030.1H1182.1V1029.9H1180.0V1029.7H1178.0V1029.3H1176.0V1029.6H1173.9V1028.9H1171.8V1028.3H1169.8V1029.3H1167.8V1028.4H1165.7V1028.4H1163.6V1027.7H1161.6V1028.0H1159.5V1026.8H1157.5V1027.6H1155.5V1027.4H1153.4V1027.7H1151.3V1027.8H1149.3V1026.7H1147.2V1027.1H1145.2V1027.6H1143.1V1026.6H1141.1V1027.8H1139.0V1027.9H1137.0V1027.4H1135.0V1027.7H1132.9V1027.6H1130.8V1027.5H1128.8V1027.8H1126.8V1026.8H1124.7V1027.7H1122.6V1027.7H1120.6V1028.5H1118.5V1027.2H1116.5V1027.6H1114.5V1027.2H1112.4V1026.8H1110.3V1027.0H1108.3V1027.3H1106.2V1027.4H1104.2V1027.4H1102.1V1027.1H1100.1V1027.0H1098.0V1027.0H1096.0V1027.3H1094.0V1026.5H1091.9V1026.5H1089.8V1026.5H1087.8V1026.7H1085.8V1026.1H1083.7V1027.0H1081.6V1027.2H1079.6V1026.6H1077.5V1026.2H1075.5V1027.1H1073.5V1026.6H1071.4V1027.0H1069.3V1026.1H1067.3V1025.1H1065.2V1025.7H1063.2V1024.7H1061.1V1025.0H1059.1V1025.6H1057.0V1025.5H1055.0V1025.0H1053.0V1024.9H1050.9V1025.1H1048.8V1024.9H1046.8V1024.5H1044.8V1024.4H1042.7V1024.5H1040.6V1024.6H1038.6V1024.8H1036.5V1024.6H1034.5V1024.8H1032.5V1025.0H1030.4V1024.3H1028.3V1024.7H1026.3V1024.6H1024.2V1024.9H1022.2V1025.2H1020.1V1024.5H1018.1V1024.5H1016.0V1025.0H1014.0V1023.9H1012.0V1024.6H1009.9V1024.1H1007.8V1024.1H1005.8V1023.5H1003.8V1024.1H1001.7V1024.6H999.6V1024.3H997.6V1024.2H995.5V1024.2H993.5V1024.6H991.5V1023.6H989.4V1023.8H987.3V1024.4H985.3V1023.8H983.2V1024.5H981.2V1024.4H979.1V1024.7H977.1V1024.4H975.0V1024.6H973.0V1025.0H971.0V1024.3H968.9V1025.1H966.8V1025.4H964.8V1024.9H962.8V1024.8H960.7V1025.2H958.6V1024.2H956.6V1024.3H954.5V1024.0H952.5V1024.0H950.5V1024.2H948.4V1023.1H946.3V1023.1H944.3V1023.3H942.2V1023.6H940.2V1023.9H938.1V1023.5H936.1V1023.4H934.0V1023.7H932.0V1023.4H930.0V1023.9H927.9V1023.8H925.8V1023.8H923.8V1023.6H921.8V1023.3H919.7V1022.9H917.6V1024.3H915.6V1023.8H913.5V1023.5H911.5V1023.5H909.5V1023.8H907.4V1023.9H905.3V1023.9H903.3V1023.3H901.2V1023.4H899.2V1023.6H897.1V1023.1H895.1V1023.7H893.0V1023.4H891.0V1023.1H889.0V1023.4H886.9V1023.6H884.8V1023.2H882.8V1022.6H880.8V1023.4H878.7V1023.5H876.6V1023.9H874.6V1023.0H872.5V1023.4H870.5V1023.0H868.5V1024.0H866.4V1023.1H864.3V1022.8H862.3V1023.3H860.2V1024.0H858.2V1023.9H856.1V1024.4H854.1V1023.9H852.0V1023.7H850.0V1023.7H848.0V1023.0H845.9V1023.2H843.8V1024.0H841.8V1024.1H839.8V1023.8H837.7V1023.3H835.6V1024.2H833.6V1023.7H831.5V1023.6H829.5V1024.1H827.5V1022.4H825.4V1024.3H823.3V1023.7H821.3V1023.3H819.2V1024.3H817.2V1024.1H815.1V1023.1H813.1V1023.2H811.0V1022.6H809.0V1023.3H807.0V1023.1H804.9V1022.4H802.8V1022.9H800.8V1022.4H798.8V1022.6H796.7V1023.5H794.6V1023.4H792.6V1022.8H790.5V1022.8H788.5V1022.0H786.5V1022.0H784.4V1021.7H782.3V1021.5H780.3V1022.6H778.2V1021.5H776.2V1021.9H774.1V1022.3H772.1V1021.8H770.0V1021.8H768.0V1022.7H766.0V1021.6H763.9V1022.4H761.8V1021.8H759.8V1022.0H757.8V1021.4H755.7V1022.0H753.6V1022.5H751.6V1022.3H749.5V1022.1H747.5V1021.7H745.5V1021.0H743.4V1019.8H741.3V1020.2H739.3V1020.4H737.2V1021.1H735.2V1020.7H733.1V1021.3H731.1V1021.4H729.0V1020.1H727.0V1020.1H725.0V1020.2H722.9V1019.5H720.8V1019.0H718.8V1019.2H716.8V1019.1H714.7V1019.4H712.6V1019.2H710.6V1018.5H708.5V1018.0H706.5V1018.9H704.5V1018.3H702.4V1018.6H700.3V1018.3H698.3V1017.8H696.2V1017.0H694.2V1017.0H692.1V1016.7H690.1V1017.7H688.0V1016.8H686.0V1017.9H684.0V1017.2H681.9V1017.2H679.8V1016.9H677.8V1017.4H675.8V1016.5H673.7V1016.5H671.6V1017.0H669.6V1017.0H667.5V1017.2H665.5V1016.4H663.5V1016.5H661.4V1016.4H659.3V1017.1H657.3V1016.5H655.2V1016.2H653.2V1017.1H651.1V1016.9H649.1V1017.0H647.0V1016.3H645.0V1016.6H643.0V1016.4H640.9V1016.8H638.8V1016.4H636.8V1016.2H634.8V1015.5H632.7V1016.1H630.6V1016.1H628.6V1015.7H626.5V1015.7H624.5V1015.5H622.5V1017.5H620.4V1016.4H618.3V1017.1H616.3V1017.5H614.2V1016.5H612.2V1015.8H610.1V1015.4H608.1V1015.9H606.0V1015.1H604.0V1015.6H602.0V1014.4H599.9V1014.5H597.8V1015.2H595.8V1014.8H593.8V1014.4H591.7V1014.0H589.6V1014.1H587.6V1013.2H585.5V1013.0H583.5V1013.3H581.5V1013.0H579.4V1012.3H577.3V1012.7H575.3V1013.3H573.2V1013.0H571.2V1012.7H569.1V1011.9H567.1V1012.1H565.0V1011.4H563.0V1012.5H561.0V1011.6H558.9V1012.2H556.8V1011.4H554.8V1012.0H552.8V1011.8H550.7V1011.9H548.6V1011.8H546.6V1012.6H544.5V1012.0H542.5V1011.5H540.5V1012.2H538.4V1011.6H536.3V1011.7H534.3V1011.5H532.2V1011.0H530.2V1010.4H528.1V1010.6H526.1V1009.8H524.0V1010.1H522.0V1010.4H520.0V1009.6H517.9V1009.2H515.9V1008.4H513.8V1008.6H511.8V1008.4H509.7V1008.2H507.6V1008.2H505.6V1007.6H503.5V1007.2H501.5V1006.6H499.4V1006.7H497.4V1006.4H495.4V1006.3H493.3V1005.9H491.2V1005.6H489.2V1006.0H487.1V1006.1H485.1V1005.8H483.0V1005.1H481.0V1005.0H478.9V1004.6H476.9V1005.6H474.9V1005.2H472.8V1005.9H470.8V1005.0H468.7V1005.5H466.6V1004.9H464.6V1004.3H462.5V1004.5H460.5V1004.1H458.4V1003.7H456.4V1004.2H454.4V1004.1H452.3V1003.2H450.2V1003.3H448.2V1003.0H446.1V1003.5H444.1V1003.7H442.0V1004.4H440.0V1003.8H437.9V1004.0H435.9V1003.8H433.9V1004.6H431.8V1004.5H429.8V1004.8H427.7V1004.3H425.6V1005.1H423.6V1004.9H421.6V1004.9H419.5V1005.0H417.4V1004.7H415.4V1005.1H413.4V1003.4H411.3V1003.2H409.2V1001.6H407.2V1001.5H405.1V1000.3H403.1V999.7H401.1V1000.1H399.0V1000.0H396.9V1000.3H394.9V1000.5H392.9V999.8H390.8V999.8H388.8V999.8H386.7V1000.1H384.6V999.4H382.6V999.6H380.6V999.7H378.5V999.7H376.4V999.8H374.4V1000.6H372.4V1000.2H370.3V1000.3H368.2V999.4H366.2V1000.2H364.1V1001.2H362.1V1000.9H360.1V1000.9H358.0V1000.9H355.9V1000.1H353.9V999.9H351.9V1000.2H349.8V999.6H347.8V999.4H345.7V999.5H343.6V999.5H341.6V999.5H339.6V999.4H337.5V998.8H335.4V998.7H333.4V999.5H331.4V999.3H329.3V998.4H327.2V998.6H325.2V999.3H323.1V999.8H321.1V1000.3H319.1V1000.2H317.0V1000.7H314.9V1001.3H312.9V1001.1H310.9V1002.4H308.8V1003.2H306.8V1003.2H304.7V1003.6H302.6V1004.3H300.6V1006.3H298.6V1008.6H296.5V1011.3H294.4V1013.7H292.4V1014.9H290.4V1015.7H288.3V1014.3H286.2V1014.5H284.2V1013.6H282.2V1013.5H280.1V1012.6H278.1V1013.8H276.0V1015.3H273.9V1018.2H271.9V1019.5H269.9V1021.3H267.8Z"/></g>
<g fill="none" stroke="#000" stroke-width="4.0">
<path d="M262.2,1227.1 V650.5 H1910.6 V1227.1"/>
<path d="M246.3,1227.1 H1912.6"/>
</g>
<path fill="none" stroke="#000" stroke-width="3.2" d="M253.4,1160.0 H262.2 M246.3,1092.9 H262.2 M253.4,1025.9 H262.2 M246.3,958.8 H262.2 M253.4,891.7 H262.2 M246.3,824.6 H262.2 M253.4,757.6 H262.2 M246.3,690.5 H262.2"/>
<text class="b" x="164.1" y="1244.4" font-size="56.5" textLength="68.5" lengthAdjust="spacingAndGlyphs">0.0</text>
<text class="b" x="164.1" y="1110.2" font-size="56.5" textLength="68.5" lengthAdjust="spacingAndGlyphs">0.1</text>
<text class="b" x="164.1" y="976.1" font-size="56.5" textLength="68.5" lengthAdjust="spacingAndGlyphs">0.2</text>
<text class="b" x="164.1" y="841.9" font-size="56.5" textLength="68.5" lengthAdjust="spacingAndGlyphs">0.3</text>
<text class="b" x="164.1" y="707.8" font-size="56.5" textLength="68.5" lengthAdjust="spacingAndGlyphs">0.4</text>
<text x="1804.8" y="732.4" font-size="77" textLength="92.9" lengthAdjust="spacingAndGlyphs" fill="#0000ff">A2</text>
<!-- panel A1 -->
<g fill="#000000" fill-opacity="0.75"><rect x="266.2" y="1316.2" width="2.2" height="499.5" fill-opacity="1"/><rect x="303.9" y="1546.2" width="2.0" height="14.6"/><rect x="310.2" y="1521.8" width="2.2" height="40.0"/><rect x="314.7" y="1545.7" width="2.6" height="16.8"/><rect x="476.5" y="1520.3" width="3.0" height="54.7"/><rect x="572.0" y="1507.4" width="2.4" height="77.7"/><rect x="588.9" y="1540.0" width="2.6" height="45.2"/><rect x="670.7" y="1565.6" width="2.8" height="21.9"/><rect x="714.7" y="1577.6" width="2.6" height="11.8"/><rect x="802.7" y="1585.6" width="2.4" height="10.0"/><rect x="814.0" y="1528.5" width="2.0" height="68.8"/><rect x="844.5" y="1457.6" width="3.0" height="139.3"/><rect x="926.2" y="1487.1" width="2.4" height="111.5"/><rect x="989.9" y="1589.3" width="2.0" height="11.7"/><rect x="1001.7" y="1583.3" width="2.0" height="18.7"/><rect x="1042.3" y="1499.7" width="2.6" height="104.9"/><rect x="1172.7" y="1581.6" width="2.8" height="28.3"/><rect x="1176.7" y="1546.2" width="2.4" height="64.0"/><rect x="1206.8" y="1599.7" width="2.4" height="11.7"/><rect x="1268.4" y="1505.2" width="3.2" height="108.6"/><rect x="1312.0" y="1523.6" width="2.2" height="91.6"/><rect x="1510.8" y="1599.7" width="2.6" height="20.4"/><rect x="1516.2" y="1519.6" width="2.0" height="100.6"/><rect x="1629.4" y="1508.1" width="2.4" height="115.8"/><rect x="1786.9" y="1461.6" width="2.6" height="167.0"/><rect x="1851.8" y="1610.8" width="2.6" height="18.6"/></g>
<g filter="url(#softd)" fill="#000000"><path fill-opacity="0.42" d="M267.8,1558.3H269.9V1567.1H271.9V1563.9H273.9V1561.5H276.0V1558.5H278.1V1556.1H280.1V1559.0H282.2V1559.6H284.2V1562.3H286.2V1564.9H288.3V1560.7H290.4V1560.1H292.4V1560.2H294.4V1558.1H296.5V1556.8H298.6V1557.4H300.6V1555.3H302.6V1553.3H304.7V1554.7H306.8V1555.3H308.8V1558.2H310.9V1556.7H312.9V1560.3H314.9V1555.9H317.0V1557.2H319.1V1559.5H321.1V1559.4H323.1V1558.1H325.2V1560.5H327.2V1559.9H329.3V1560.0H331.4V1561.6H333.4V1561.3H335.4V1559.2H337.5V1559.9H339.6V1562.3H341.6V1561.2H343.6V1563.1H345.7V1563.0H347.8V1562.4H349.8V1563.2H351.9V1560.2H353.9V1561.0H355.9V1560.2H358.0V1562.4H360.1V1563.7H362.1V1563.9H364.1V1562.5H366.2V1564.6H368.2V1565.6H370.3V1565.7H372.4V1566.1H374.4V1567.1H376.4V1566.5H378.5V1569.6H380.6V1568.6H382.6V1568.4H384.6V1567.0H386.7V1564.8H388.8V1568.3H390.8V1565.8H392.9V1567.6H394.9V1567.5H396.9V1565.7H399.0V1568.0H401.1V1568.2H403.1V1568.5H405.1V1570.5H407.2V1569.4H409.2V1567.5H411.3V1569.6H413.4V1567.4H415.4V1571.4H417.4V1571.5H419.5V1571.2H421.6V1571.8H423.6V1573.1H425.6V1571.7H427.7V1568.7H429.8V1569.7H431.8V1569.2H433.9V1571.0H435.9V1569.6H437.9V1569.5H440.0V1570.6H442.0V1570.2H444.1V1570.5H446.1V1571.2H448.2V1568.3H450.2V1569.4H452.3V1568.8H454.4V1570.7H456.4V1569.1H458.4V1568.2H460.5V1568.5H462.5V1567.7H464.6V1569.3H466.6V1570.1H468.7V1568.4H470.8V1567.0H472.8V1569.6H474.9V1570.1H476.9V1568.9H478.9V1568.4H481.0V1568.8H483.0V1569.5H485.1V1571.0H487.1V1570.9H489.2V1570.4H491.2V1570.0H493.3V1570.3H495.4V1571.3H497.4V1571.3H499.4V1572.3H501.5V1572.6H503.5V1571.7H505.6V1571.4H507.6V1571.4H509.7V1571.4H511.8V1572.8H513.8V1572.2H515.9V1571.8H517.9V1571.4H520.0V1572.8H522.0V1571.4H524.0V1571.7H526.1V1570.7H528.1V1570.6H530.2V1570.5H532.2V1571.0H534.3V1570.3H536.3V1571.7H538.4V1572.6H540.5V1572.7H542.5V1572.0H544.5V1574.0H546.6V1574.2H548.6V1573.5H550.7V1573.8H552.8V1573.8H554.8V1574.6H556.8V1574.3H558.9V1574.9H561.0V1576.5H563.0V1576.1H565.0V1577.4H567.1V1578.3H569.1V1578.0H571.2V1579.0H573.2V1580.1H575.3V1579.6H577.3V1580.9H579.4V1579.3H581.5V1580.2H583.5V1581.3H585.5V1580.6H587.6V1581.3H589.6V1580.5H591.7V1579.8H593.8V1579.9H595.8V1578.4H597.8V1579.5H599.9V1579.3H602.0V1579.2H604.0V1578.2H606.0V1576.4H608.1V1577.4H610.1V1577.4H612.2V1577.7H614.2V1578.3H616.3V1579.0H618.3V1578.6H620.4V1580.1H622.5V1580.5H624.5V1580.1H626.5V1579.9H628.6V1581.1H630.6V1580.2H632.7V1581.0H634.8V1580.2H636.8V1579.7H638.8V1581.4H640.9V1581.5H643.0V1581.6H645.0V1581.5H647.0V1579.9H649.1V1580.1H651.1V1580.4H653.2V1581.3H655.2V1581.4H657.3V1581.5H659.3V1580.4H661.4V1581.5H663.5V1582.5H665.5V1581.9H667.5V1582.6H669.6V1582.9H671.6V1581.5H673.7V1583.0H675.8V1581.0H677.8V1582.6H679.8V1581.7H681.9V1581.6H684.0V1582.0H686.0V1582.4H688.0V1582.6H690.1V1581.7H692.1V1582.2H694.2V1581.5H696.2V1582.4H698.3V1583.1H700.3V1583.2H702.4V1584.0H704.5V1584.9H706.5V1583.9H708.5V1584.0H710.6V1584.2H712.6V1582.8H714.7V1584.7H716.8V1583.0H718.8V1583.1H720.8V1583.4H722.9V1582.8H725.0V1582.4H727.0V1583.8H729.0V1582.1H731.1V1582.7H733.1V1582.2H735.2V1583.5H737.2V1582.6H739.3V1584.6H741.3V1583.4H743.4V1583.8H745.5V1585.1H747.5V1583.4H749.5V1584.6H751.6V1584.5H753.6V1586.0H755.7V1585.2H757.8V1583.9H759.8V1584.8H761.8V1585.3H763.9V1585.5H766.0V1584.5H768.0V1586.0H770.0V1586.6H772.1V1585.3H774.1V1585.3H776.2V1586.2H778.2V1586.6H780.3V1586.2H782.3V1587.6H784.4V1587.2H786.5V1587.1H788.5V1588.7H790.5V1587.4H792.6V1587.2H794.6V1587.8H796.7V1588.6H798.8V1589.6H800.8V1588.4H802.8V1588.7H804.9V1590.3H807.0V1591.1H809.0V1590.8H811.0V1590.3H813.1V1591.9H815.1V1592.6H817.2V1591.2H819.2V1592.1H821.3V1592.1H823.3V1592.6H825.4V1592.3H827.5V1592.7H829.5V1591.2H831.5V1592.6H833.6V1591.4H835.6V1590.7H837.7V1590.4H839.8V1592.1H841.8V1591.9H843.8V1591.1H845.9V1590.5H848.0V1591.8H850.0V1591.1H852.0V1589.2H854.1V1590.8H856.1V1590.2H858.2V1591.6H860.2V1591.2H862.3V1589.5H864.3V1592.5H866.4V1591.4H868.5V1591.5H870.5V1592.0H872.5V1592.7H874.6V1592.9H876.6V1590.1H878.7V1589.6H880.8V1590.4H882.8V1590.7H884.8V1590.9H886.9V1590.8H889.0V1589.6H891.0V1590.4H893.0V1590.2H895.1V1590.3H897.1V1589.9H899.2V1590.3H901.2V1590.8H903.3V1591.2H905.3V1592.0H907.4V1592.0H909.5V1590.7H911.5V1590.6H913.5V1591.6H915.6V1592.4H917.6V1591.8H919.7V1592.8H921.8V1593.4H923.8V1593.0H925.8V1592.9H927.9V1592.3H930.0V1593.0H932.0V1593.3H934.0V1593.9H936.1V1592.2H938.1V1593.1H940.2V1592.8H942.2V1593.5H944.3V1592.4H946.3V1591.6H948.4V1591.5H950.5V1592.5H952.5V1591.0H954.5V1592.6H956.6V1591.1H958.6V1591.6H960.7V1593.2H962.8V1594.1H964.8V1593.8H966.8V1593.6H968.9V1593.4H971.0V1593.6H973.0V1594.0H975.0V1594.2H977.1V1595.5H979.1V1594.2H981.2V1594.8H983.2V1593.2H985.3V1595.3H987.3V1593.3H989.4V1593.1H991.5V1595.8H993.5V1597.0H995.5V1596.2H997.6V1596.6H999.6V1595.3H1001.7V1595.9H1003.8V1597.3H1005.8V1596.2H1007.8V1597.1H1009.9V1597.2H1012.0V1597.9H1014.0V1596.6H1016.0V1596.1H1018.1V1596.2H1020.1V1596.3H1022.2V1597.7H1024.2V1597.0H1026.3V1596.7H1028.3V1597.7H1030.4V1598.5H1032.5V1597.6H1034.5V1597.8H1036.5V1598.1H1038.6V1599.4H1040.6V1599.0H1042.7V1600.6H1044.8V1599.1H1046.8V1600.6H1048.8V1599.7H1050.9V1602.1H1053.0V1601.7H1055.0V1601.2H1057.0V1602.6H1059.1V1602.5H1061.1V1602.9H1063.2V1602.7H1065.2V1604.3H1067.3V1604.0H1069.3V1603.8H1071.4V1603.0H1073.5V1603.0H1075.5V1602.9H1077.5V1604.0H1079.6V1602.1H1081.6V1602.9H1083.7V1602.3H1085.8V1600.9H1087.8V1602.0H1089.8V1602.6H1091.9V1602.1H1094.0V1602.0H1096.0V1602.2H1098.0V1602.5H1100.1V1602.4H1102.1V1601.5H1104.2V1601.1H1106.2V1603.0H1108.3V1601.0H1110.3V1601.2H1112.4V1600.9H1114.5V1602.6H1116.5V1602.7H1118.5V1602.3H1120.6V1602.4H1122.6V1601.4H1124.7V1600.5H1126.8V1600.9H1128.8V1600.9H1130.8V1601.8H1132.9V1600.4H1135.0V1600.7H1137.0V1602.0H1139.0V1602.7H1141.1V1603.2H1143.1V1602.5H1145.2V1601.8H1147.2V1602.9H1149.3V1602.5H1151.3V1602.8H1153.4V1601.5H1155.5V1602.1H1157.5V1603.0H1159.5V1603.5H1161.6V1602.4H1163.6V1602.5H1165.7V1604.3H1167.8V1603.7H1169.8V1604.2H1171.8V1603.6H1173.9V1603.6H1176.0V1604.1H1178.0V1604.5H1180.0V1604.7H1182.1V1604.3H1184.1V1604.0H1186.2V1604.7H1188.2V1604.4H1190.3V1605.1H1192.3V1605.7H1194.4V1604.9H1196.4V1603.7H1198.5V1604.0H1200.5V1606.9H1202.6V1606.5H1204.6V1605.9H1206.7V1605.7H1208.8V1605.5H1210.8V1605.0H1212.8V1605.8H1214.9V1605.4H1216.9V1606.0H1219.0V1606.4H1221.0V1606.8H1223.1V1606.4H1225.1V1607.3H1227.2V1605.9H1229.2V1606.9H1231.3V1607.1H1233.3V1606.3H1235.4V1607.7H1237.4V1607.8H1239.5V1606.1H1241.5V1606.6H1243.6V1608.0H1245.6V1606.8H1247.7V1606.9H1249.8V1607.4H1251.8V1607.9H1253.8V1607.6H1255.9V1608.0H1257.9V1607.5H1260.0V1608.3H1262.0V1607.7H1264.1V1607.4H1266.1V1608.2H1268.2V1607.6H1270.2V1607.8H1272.3V1607.3H1274.3V1606.8H1276.4V1607.9H1278.4V1607.4H1280.5V1607.8H1282.5V1606.3H1284.6V1606.5H1286.6V1609.5H1288.7V1608.2H1290.8V1608.3H1292.8V1608.7H1294.8V1609.9H1296.9V1608.8H1298.9V1609.1H1301.0V1608.2H1303.0V1609.8H1305.1V1609.8H1307.1V1609.5H1309.2V1608.3H1311.2V1608.0H1313.3V1609.5H1315.3V1608.0H1317.4V1608.5H1319.4V1609.1H1321.5V1608.8H1323.5V1608.6H1325.6V1609.8H1327.6V1609.8H1329.7V1608.4H1331.7V1610.0H1333.8V1610.1H1335.8V1610.6H1337.9V1609.4H1339.9V1609.7H1342.0V1611.4H1344.0V1611.2H1346.1V1611.5H1348.1V1611.4H1350.2V1610.7H1352.2V1610.8H1354.3V1611.3H1356.3V1610.1H1358.4V1610.8H1360.4V1611.2H1362.5V1612.6H1364.5V1611.2H1366.6V1609.6H1368.6V1612.2H1370.7V1611.2H1372.7V1610.4H1374.8V1610.4H1376.8V1611.7H1378.9V1611.4H1380.9V1611.4H1383.0V1609.9H1385.0V1611.8H1387.1V1613.1H1389.1V1613.1H1391.2V1612.1H1393.2V1612.7H1395.3V1614.1H1397.3V1612.8H1399.4V1612.3H1401.4V1613.0H1403.5V1612.6H1405.5V1611.8H1407.6V1612.1H1409.6V1612.8H1411.7V1612.6H1413.7V1613.1H1415.8V1612.1H1417.8V1612.0H1419.9V1613.8H1421.9V1612.4H1424.0V1612.3H1426.0V1613.0H1428.1V1613.5H1430.1V1612.9H1432.2V1613.5H1434.2V1613.8H1436.3V1612.9H1438.3V1613.0H1440.4V1613.6H1442.4V1614.8H1444.5V1615.0H1446.5V1614.8H1448.6V1614.9H1450.6V1614.7H1452.7V1613.7H1454.7V1615.0H1456.8V1615.0H1458.8V1614.5H1460.9V1614.4H1462.9V1613.8H1465.0V1614.5H1467.0V1615.4H1469.1V1614.5H1471.1V1613.1H1473.2V1614.2H1475.2V1614.6H1477.3V1612.4H1479.3V1612.7H1481.4V1613.8H1483.4V1614.3H1485.5V1613.6H1487.5V1612.0H1489.6V1614.3H1491.6V1613.9H1493.7V1613.8H1495.7V1613.9H1497.8V1613.9H1499.8V1614.3H1501.9V1614.5H1503.9V1614.7H1506.0V1615.2H1508.0V1614.4H1510.1V1614.4H1512.1V1614.0H1514.2V1613.7H1516.2V1614.2H1518.3V1613.7H1520.3V1614.9H1522.4V1614.0H1524.4V1615.6H1526.5V1614.1H1528.5V1615.5H1530.6V1615.9H1532.6V1616.1H1534.7V1615.3H1536.7V1613.9H1538.8V1615.0H1540.8V1615.0H1542.9V1614.5H1544.9V1616.1H1547.0V1616.3H1549.0V1616.0H1551.1V1616.1H1553.1V1615.5H1555.2V1616.9H1557.2V1616.7H1559.3V1616.9H1561.3V1615.9H1563.4V1617.1H1565.4V1615.7H1567.5V1616.1H1569.5V1616.4H1571.6V1618.8H1573.6V1618.0H1575.7V1615.8H1577.7V1617.5H1579.8V1616.5H1581.8V1616.2H1583.9V1617.0H1585.9V1617.9H1588.0V1617.7H1590.0V1616.5H1592.1V1617.3H1594.1V1618.0H1596.2V1616.4H1598.2V1617.0H1600.3V1617.5H1602.3V1617.1H1604.4V1617.7H1606.4V1616.2H1608.5V1618.3H1610.5V1616.7H1612.6V1616.9H1614.6V1618.1H1616.7V1617.2H1618.7V1618.2H1620.8V1618.8H1622.8V1617.7H1624.9V1617.2H1626.9V1617.4H1629.0V1618.2H1631.0V1617.8H1633.1V1617.8H1635.1V1618.6H1637.2V1617.7H1639.2V1618.5H1641.3V1618.1H1643.3V1617.3H1645.4V1618.0H1647.4V1618.3H1649.5V1618.5H1651.5V1620.4H1653.6V1618.3H1655.6V1617.5H1657.7V1618.5H1659.7V1617.6H1661.8V1617.9H1663.8V1618.7H1665.9V1619.3H1667.9V1617.8H1670.0V1618.0H1672.0V1620.0H1674.1V1618.5H1676.1V1618.9H1678.2V1619.5H1680.2V1618.6H1682.3V1618.7H1684.3V1619.4H1686.4V1619.3H1688.4V1619.5H1690.5V1619.4H1692.5V1619.6H1694.6V1619.9H1696.6V1621.1H1698.7V1620.8H1700.7V1621.7H1702.8V1619.7H1704.8V1620.4H1706.9V1619.5H1708.9V1620.8H1711.0V1619.2H1713.0V1619.9H1715.1V1620.2H1717.1V1620.1H1719.2V1621.3H1721.2V1620.5H1723.3V1620.9H1725.3V1619.9H1727.4V1620.2H1729.4V1620.8H1731.5V1621.2H1733.5V1620.8H1735.6V1622.3H1737.6V1621.3H1739.7V1620.5H1741.7V1621.2H1743.8V1621.8H1745.8V1621.8H1747.9V1622.5H1749.9V1622.8H1752.0V1621.6H1754.0V1623.0H1756.1V1623.1H1758.1V1621.6H1760.2V1622.8H1762.2V1623.4H1764.3V1621.5H1766.3V1622.3H1768.4V1623.7H1770.4V1622.8H1772.5V1623.5H1774.5V1622.1H1776.6V1622.2H1778.6V1624.2H1780.7V1623.3H1782.7V1623.4H1784.8V1624.1H1786.8V1623.3H1788.9V1623.5H1790.9V1623.8H1793.0V1622.6H1795.0V1621.9H1797.1V1622.4H1799.1V1622.4H1801.2V1621.9H1803.2V1623.6H1805.3V1622.4H1807.3V1623.2H1809.4V1622.8H1811.4V1622.9H1813.5V1623.3H1815.5V1623.7H1817.6V1623.1H1819.6V1622.7H1821.7V1622.9H1823.7V1624.3H1825.8V1623.2H1827.8V1623.0H1829.9V1623.4H1831.9V1622.7H1834.0V1624.1H1836.0V1623.8H1838.1V1624.3H1840.1V1622.9H1842.2V1621.7H1844.2V1623.5H1846.3V1623.6H1848.3V1624.1H1850.4V1623.6H1852.4V1625.3H1854.5V1624.9H1856.5V1622.7H1858.6V1623.8H1860.6V1622.8H1862.7V1624.0H1864.7V1625.0H1866.8V1623.4H1868.8V1622.7H1870.9V1623.9H1872.9V1625.5H1875.0V1623.9H1877.0V1625.2H1879.1V1624.9H1881.1V1624.7H1883.2V1624.0H1885.2V1625.4H1887.3V1623.3H1889.3V1623.2H1891.4V1625.2H1893.4V1624.5H1895.5V1624.2H1897.5V1625.2H1899.6V1624.4H1901.6V1625.3H1903.7V1625.1H1905.7V1625.3H1907.8V1625.6H1909.8V1624.8H1911.5V1651.4H1909.8V1650.8H1907.8V1652.0H1905.7V1649.9H1903.7V1651.1H1901.6V1651.3H1899.6V1651.1H1897.5V1651.5H1895.5V1650.3H1893.4V1651.2H1891.4V1651.6H1889.3V1651.9H1887.3V1651.2H1885.2V1649.9H1883.2V1649.9H1881.1V1651.6H1879.1V1650.5H1877.0V1651.5H1875.0V1651.1H1872.9V1650.8H1870.9V1650.2H1868.8V1652.7H1866.8V1652.3H1864.7V1651.3H1862.7V1650.9H1860.6V1650.2H1858.6V1651.2H1856.5V1650.4H1854.5V1651.2H1852.4V1650.6H1850.4V1652.2H1848.3V1651.0H1846.3V1650.8H1844.2V1652.5H1842.2V1651.9H1840.1V1652.7H1838.1V1650.4H1836.0V1651.2H1834.0V1651.1H1831.9V1651.5H1829.9V1651.2H1827.8V1650.5H1825.8V1650.0H1823.7V1649.3H1821.7V1650.3H1819.6V1649.1H1817.6V1650.1H1815.5V1651.6H1813.5V1650.0H1811.4V1650.9H1809.4V1649.7H1807.3V1650.6H1805.3V1650.8H1803.2V1650.7H1801.2V1649.9H1799.1V1650.4H1797.1V1649.4H1795.0V1650.3H1793.0V1650.0H1790.9V1649.2H1788.9V1649.6H1786.8V1650.8H1784.8V1648.3H1782.7V1649.4H1780.7V1650.0H1778.6V1650.3H1776.6V1649.3H1774.5V1648.5H1772.5V1649.1H1770.4V1648.5H1768.4V1647.0H1766.3V1647.7H1764.3V1648.8H1762.2V1649.7H1760.2V1647.1H1758.1V1648.8H1756.1V1648.9H1754.0V1647.9H1752.0V1649.0H1749.9V1649.0H1747.9V1648.5H1745.8V1649.1H1743.8V1648.2H1741.7V1649.4H1739.7V1649.6H1737.6V1648.2H1735.6V1648.4H1733.5V1648.6H1731.5V1648.8H1729.4V1646.6H1727.4V1648.1H1725.3V1646.5H1723.3V1648.0H1721.2V1647.2H1719.2V1646.3H1717.1V1648.2H1715.1V1647.2H1713.0V1647.4H1711.0V1647.9H1708.9V1647.0H1706.9V1648.2H1704.8V1647.6H1702.8V1646.8H1700.7V1647.1H1698.7V1646.6H1696.6V1646.9H1694.6V1646.3H1692.5V1646.6H1690.5V1646.0H1688.4V1645.2H1686.4V1646.4H1684.3V1646.7H1682.3V1646.0H1680.2V1646.5H1678.2V1644.9H1676.1V1646.3H1674.1V1648.3H1672.0V1646.4H1670.0V1646.0H1667.9V1647.8H1665.9V1646.0H1663.8V1646.7H1661.8V1645.8H1659.7V1645.5H1657.7V1646.3H1655.6V1646.2H1653.6V1646.4H1651.5V1645.1H1649.5V1645.5H1647.4V1645.9H1645.4V1644.9H1643.3V1645.5H1641.3V1645.0H1639.2V1645.9H1637.2V1643.8H1635.1V1645.3H1633.1V1644.3H1631.0V1645.5H1629.0V1645.3H1626.9V1646.0H1624.9V1645.5H1622.8V1644.1H1620.8V1644.8H1618.7V1644.6H1616.7V1646.7H1614.6V1645.9H1612.6V1645.2H1610.5V1644.2H1608.5V1644.5H1606.4V1645.1H1604.4V1644.9H1602.3V1645.8H1600.3V1645.6H1598.2V1643.5H1596.2V1642.4H1594.1V1643.8H1592.1V1643.1H1590.0V1642.6H1588.0V1643.1H1585.9V1642.7H1583.9V1644.0H1581.8V1642.6H1579.8V1642.0H1577.7V1643.9H1575.7V1642.8H1573.6V1643.2H1571.6V1642.7H1569.5V1642.3H1567.5V1642.2H1565.4V1642.0H1563.4V1643.3H1561.3V1643.5H1559.3V1642.5H1557.2V1643.0H1555.2V1642.8H1553.1V1643.5H1551.1V1642.0H1549.0V1642.2H1547.0V1641.1H1544.9V1642.7H1542.9V1642.5H1540.8V1641.9H1538.8V1641.4H1536.7V1641.1H1534.7V1641.4H1532.6V1641.2H1530.6V1641.8H1528.5V1641.6H1526.5V1642.9H1524.4V1642.5H1522.4V1642.5H1520.3V1641.6H1518.3V1641.1H1516.2V1641.4H1514.2V1642.7H1512.1V1641.2H1510.1V1642.2H1508.0V1642.7H1506.0V1641.0H1503.9V1641.1H1501.9V1641.7H1499.8V1642.1H1497.8V1641.2H1495.7V1642.2H1493.7V1641.4H1491.6V1642.1H1489.6V1640.3H1487.5V1642.2H1485.5V1642.7H1483.4V1641.7H1481.4V1641.0H1479.3V1641.3H1477.3V1640.2H1475.2V1640.7H1473.2V1641.4H1471.1V1642.1H1469.1V1642.2H1467.0V1641.1H1465.0V1640.9H1462.9V1641.1H1460.9V1640.3H1458.8V1642.3H1456.8V1642.8H1454.7V1641.5H1452.7V1642.7H1450.6V1641.7H1448.6V1641.8H1446.5V1642.7H1444.5V1641.1H1442.4V1642.8H1440.4V1642.3H1438.3V1642.2H1436.3V1641.3H1434.2V1642.4H1432.2V1642.8H1430.1V1642.3H1428.1V1642.1H1426.0V1641.6H1424.0V1641.7H1421.9V1642.2H1419.9V1641.5H1417.8V1641.3H1415.8V1642.3H1413.7V1642.6H1411.7V1641.1H1409.6V1642.4H1407.6V1642.4H1405.5V1641.9H1403.5V1641.0H1401.4V1641.8H1399.4V1641.8H1397.3V1642.5H1395.3V1642.4H1393.2V1640.1H1391.2V1641.4H1389.1V1641.2H1387.1V1641.0H1385.0V1640.5H1383.0V1640.8H1380.9V1640.9H1378.9V1640.4H1376.8V1641.9H1374.8V1643.1H1372.7V1642.1H1370.7V1642.4H1368.6V1640.6H1366.6V1639.7H1364.5V1639.8H1362.5V1641.7H1360.4V1639.9H1358.4V1642.2H1356.3V1641.8H1354.3V1642.1H1352.2V1641.6H1350.2V1641.6H1348.1V1641.7H1346.1V1639.6H1344.0V1640.8H1342.0V1640.5H1339.9V1640.4H1337.9V1641.2H1335.8V1641.6H1333.8V1642.3H1331.7V1642.0H1329.7V1640.3H1327.6V1641.6H1325.6V1641.5H1323.5V1641.1H1321.5V1640.8H1319.4V1641.3H1317.4V1640.1H1315.3V1640.4H1313.3V1641.7H1311.2V1639.9H1309.2V1640.8H1307.1V1641.4H1305.1V1638.8H1303.0V1639.6H1301.0V1640.4H1298.9V1638.3H1296.9V1639.9H1294.8V1638.1H1292.8V1639.1H1290.8V1639.5H1288.7V1638.8H1286.6V1640.1H1284.6V1638.5H1282.5V1639.3H1280.5V1638.8H1278.4V1639.4H1276.4V1638.1H1274.3V1639.4H1272.3V1638.4H1270.2V1638.2H1268.2V1639.2H1266.1V1639.0H1264.1V1639.8H1262.0V1638.2H1260.0V1638.6H1257.9V1638.4H1255.9V1637.5H1253.8V1637.0H1251.8V1638.2H1249.8V1638.0H1247.7V1638.3H1245.6V1637.9H1243.6V1638.7H1241.5V1638.5H1239.5V1638.5H1237.4V1637.1H1235.4V1637.6H1233.3V1638.0H1231.3V1637.3H1229.2V1637.5H1227.2V1637.1H1225.1V1636.4H1223.1V1637.6H1221.0V1637.0H1219.0V1636.3H1216.9V1636.0H1214.9V1636.1H1212.8V1637.9H1210.8V1636.1H1208.8V1638.1H1206.7V1637.8H1204.6V1637.4H1202.6V1637.4H1200.5V1636.6H1198.5V1635.4H1196.4V1635.0H1194.4V1636.1H1192.3V1634.7H1190.3V1635.4H1188.2V1635.3H1186.2V1634.7H1184.1V1634.9H1182.1V1635.4H1180.0V1635.8H1178.0V1635.1H1176.0V1635.4H1173.9V1635.9H1171.8V1636.2H1169.8V1636.9H1167.8V1635.9H1165.7V1635.9H1163.6V1635.2H1161.6V1634.8H1159.5V1635.9H1157.5V1635.6H1155.5V1634.3H1153.4V1634.9H1151.3V1636.0H1149.3V1634.3H1147.2V1634.0H1145.2V1635.5H1143.1V1635.6H1141.1V1635.6H1139.0V1634.3H1137.0V1634.8H1135.0V1634.2H1132.9V1634.4H1130.8V1634.7H1128.8V1635.6H1126.8V1635.0H1124.7V1633.8H1122.6V1634.4H1120.6V1633.7H1118.5V1633.6H1116.5V1634.3H1114.5V1633.9H1112.4V1632.2H1110.3V1633.6H1108.3V1634.3H1106.2V1634.7H1104.2V1634.0H1102.1V1635.1H1100.1V1633.5H1098.0V1634.5H1096.0V1635.2H1094.0V1633.6H1091.9V1633.2H1089.8V1634.2H1087.8V1634.4H1085.8V1634.4H1083.7V1633.7H1081.6V1635.1H1079.6V1634.5H1077.5V1634.0H1075.5V1633.7H1073.5V1634.4H1071.4V1633.2H1069.3V1633.8H1067.3V1634.2H1065.2V1635.0H1063.2V1635.8H1061.1V1634.3H1059.1V1635.8H1057.0V1636.2H1055.0V1635.3H1053.0V1634.2H1050.9V1634.4H1048.8V1635.6H1046.8V1635.4H1044.8V1634.9H1042.7V1634.7H1040.6V1634.1H1038.6V1635.5H1036.5V1634.6H1034.5V1634.5H1032.5V1633.4H1030.4V1633.8H1028.3V1633.0H1026.3V1633.5H1024.2V1633.5H1022.2V1633.1H1020.1V1633.3H1018.1V1633.7H1016.0V1633.6H1014.0V1633.5H1012.0V1633.3H1009.9V1632.4H1007.8V1631.6H1005.8V1630.7H1003.8V1632.5H1001.7V1631.4H999.6V1632.5H997.6V1631.2H995.5V1632.3H993.5V1632.3H991.5V1631.9H989.4V1633.0H987.3V1632.5H985.3V1630.9H983.2V1632.9H981.2V1631.5H979.1V1632.2H977.1V1630.6H975.0V1631.4H973.0V1631.7H971.0V1631.2H968.9V1631.6H966.8V1631.3H964.8V1632.6H962.8V1632.0H960.7V1630.8H958.6V1630.5H956.6V1631.2H954.5V1632.1H952.5V1631.9H950.5V1630.3H948.4V1631.8H946.3V1631.0H944.3V1632.2H942.2V1631.7H940.2V1631.9H938.1V1630.1H936.1V1631.4H934.0V1631.6H932.0V1631.3H930.0V1631.5H927.9V1631.9H925.8V1631.2H923.8V1631.7H921.8V1632.2H919.7V1631.9H917.6V1630.7H915.6V1630.4H913.5V1631.1H911.5V1630.9H909.5V1631.1H907.4V1630.5H905.3V1631.3H903.3V1631.1H901.2V1631.7H899.2V1632.0H897.1V1631.8H895.1V1631.0H893.0V1629.8H891.0V1631.6H889.0V1629.7H886.9V1630.1H884.8V1630.5H882.8V1630.6H880.8V1630.3H878.7V1630.8H876.6V1629.4H874.6V1631.3H872.5V1630.3H870.5V1631.8H868.5V1632.3H866.4V1631.0H864.3V1632.1H862.3V1629.7H860.2V1631.1H858.2V1630.6H856.1V1631.2H854.1V1631.6H852.0V1630.9H850.0V1632.5H848.0V1630.3H845.9V1630.5H843.8V1631.4H841.8V1631.6H839.8V1629.8H837.7V1628.9H835.6V1631.3H833.6V1629.1H831.5V1628.8H829.5V1630.1H827.5V1630.8H825.4V1631.2H823.3V1630.9H821.3V1630.2H819.2V1630.9H817.2V1629.0H815.1V1630.7H813.1V1630.4H811.0V1629.7H809.0V1629.6H807.0V1628.2H804.9V1630.1H802.8V1629.7H800.8V1629.2H798.8V1628.5H796.7V1629.3H794.6V1627.4H792.6V1627.4H790.5V1628.0H788.5V1628.0H786.5V1629.7H784.4V1627.7H782.3V1628.5H780.3V1627.4H778.2V1627.5H776.2V1627.1H774.1V1627.5H772.1V1626.8H770.0V1627.6H768.0V1627.7H766.0V1625.6H763.9V1627.6H761.8V1626.3H759.8V1628.0H757.8V1626.7H755.7V1627.2H753.6V1626.7H751.6V1628.0H749.5V1626.6H747.5V1626.6H745.5V1626.4H743.4V1627.4H741.3V1627.3H739.3V1627.8H737.2V1627.7H735.2V1627.9H733.1V1625.8H731.1V1625.6H729.0V1625.9H727.0V1627.7H725.0V1625.9H722.9V1626.6H720.8V1624.6H718.8V1625.3H716.8V1625.0H714.7V1625.9H712.6V1626.7H710.6V1625.7H708.5V1625.5H706.5V1625.1H704.5V1625.3H702.4V1623.9H700.3V1625.7H698.3V1625.2H696.2V1623.6H694.2V1622.7H692.1V1623.6H690.1V1622.5H688.0V1622.0H686.0V1622.6H684.0V1623.8H681.9V1623.8H679.8V1624.0H677.8V1623.7H675.8V1624.0H673.7V1624.2H671.6V1623.6H669.6V1623.3H667.5V1622.2H665.5V1624.3H663.5V1623.2H661.4V1623.0H659.3V1623.7H657.3V1624.5H655.2V1622.8H653.2V1623.4H651.1V1623.7H649.1V1622.6H647.0V1623.6H645.0V1623.0H643.0V1622.5H640.9V1623.8H638.8V1623.4H636.8V1623.5H634.8V1623.0H632.7V1621.8H630.6V1623.0H628.6V1624.2H626.5V1622.7H624.5V1623.9H622.5V1621.9H620.4V1622.5H618.3V1622.6H616.3V1622.7H614.2V1624.3H612.2V1623.8H610.1V1623.4H608.1V1624.1H606.0V1623.0H604.0V1623.6H602.0V1624.3H599.9V1623.8H597.8V1624.6H595.8V1624.1H593.8V1624.0H591.7V1623.8H589.6V1624.3H587.6V1623.3H585.5V1622.1H583.5V1623.0H581.5V1623.8H579.4V1622.9H577.3V1623.7H575.3V1623.1H573.2V1621.3H571.2V1621.5H569.1V1620.8H567.1V1621.0H565.0V1621.5H563.0V1620.4H561.0V1619.8H558.9V1620.6H556.8V1618.8H554.8V1619.5H552.8V1620.4H550.7V1621.0H548.6V1619.8H546.6V1621.1H544.5V1618.5H542.5V1619.6H540.5V1619.4H538.4V1618.5H536.3V1618.5H534.3V1619.7H532.2V1618.2H530.2V1618.7H528.1V1618.8H526.1V1617.0H524.0V1617.8H522.0V1617.3H520.0V1615.5H517.9V1617.0H515.9V1615.9H513.8V1616.4H511.8V1616.5H509.7V1617.6H507.6V1617.7H505.6V1617.3H503.5V1617.1H501.5V1617.3H499.4V1617.9H497.4V1618.3H495.4V1618.0H493.3V1618.0H491.2V1618.2H489.2V1617.8H487.1V1618.7H485.1V1617.5H483.0V1618.8H481.0V1618.8H478.9V1619.3H476.9V1620.2H474.9V1618.2H472.8V1619.8H470.8V1618.9H468.7V1618.4H466.6V1619.6H464.6V1618.1H462.5V1619.5H460.5V1618.6H458.4V1617.7H456.4V1618.0H454.4V1619.0H452.3V1617.5H450.2V1618.4H448.2V1618.1H446.1V1616.9H444.1V1618.2H442.0V1618.5H440.0V1617.1H437.9V1616.9H435.9V1616.6H433.9V1616.1H431.8V1616.6H429.8V1617.6H427.7V1616.8H425.6V1614.7H423.6V1616.2H421.6V1614.0H419.5V1613.7H417.4V1613.5H415.4V1613.3H413.4V1612.5H411.3V1613.2H409.2V1613.1H407.2V1613.3H405.1V1611.3H403.1V1611.1H401.1V1611.9H399.0V1609.9H396.9V1610.3H394.9V1610.6H392.9V1610.2H390.8V1609.8H388.8V1611.1H386.7V1610.1H384.6V1609.9H382.6V1609.8H380.6V1609.3H378.5V1609.9H376.4V1609.4H374.4V1609.7H372.4V1609.3H370.3V1609.7H368.2V1609.9H366.2V1609.2H364.1V1608.7H362.1V1610.0H360.1V1608.9H358.0V1610.0H355.9V1607.9H353.9V1609.3H351.9V1610.4H349.8V1611.6H347.8V1610.4H345.7V1611.7H343.6V1611.1H341.6V1615.1H339.6V1614.5H337.5V1615.7H335.4V1616.8H333.4V1616.9H331.4V1617.5H329.3V1618.8H327.2V1617.4H325.2V1617.9H323.1V1618.3H321.1V1619.5H319.1V1620.0H317.0V1619.8H314.9V1618.4H312.9V1619.6H310.9V1617.9H308.8V1619.6H306.8V1619.2H304.7V1619.8H302.6V1619.3H300.6V1620.1H298.6V1617.8H296.5V1618.4H294.4V1618.0H292.4V1618.9H290.4V1618.9H288.3V1619.7H286.2V1617.8H284.2V1619.0H282.2V1619.5H280.1V1619.9H278.1V1620.8H276.0V1621.0H273.9V1620.9H271.9V1621.1H269.9V1623.9H267.8Z"/><path d="M267.8,1558.4H269.9V1569.1H271.9V1565.4H273.9V1564.0H276.0V1559.4H278.1V1557.5H280.1V1560.2H282.2V1560.9H284.2V1564.4H286.2V1565.9H288.3V1562.8H290.4V1562.0H292.4V1560.6H294.4V1558.8H296.5V1558.7H298.6V1557.9H300.6V1557.8H302.6V1555.7H304.7V1555.1H306.8V1555.7H308.8V1558.4H310.9V1558.6H312.9V1560.6H314.9V1557.6H317.0V1557.6H319.1V1559.8H321.1V1561.2H323.1V1560.7H325.2V1561.1H327.2V1562.4H329.3V1562.2H331.4V1562.6H333.4V1563.0H335.4V1561.3H337.5V1561.7H339.6V1563.1H341.6V1563.1H343.6V1563.7H345.7V1564.6H347.8V1563.4H349.8V1564.3H351.9V1562.8H353.9V1562.5H355.9V1562.6H358.0V1563.0H360.1V1564.3H362.1V1565.3H364.1V1565.2H366.2V1566.1H368.2V1566.4H370.3V1568.3H372.4V1568.5H374.4V1569.7H376.4V1568.9H378.5V1570.2H380.6V1570.0H382.6V1569.7H384.6V1567.7H386.7V1566.7H388.8V1568.4H390.8V1567.7H392.9V1568.5H394.9V1567.7H396.9V1568.3H399.0V1568.4H401.1V1569.9H403.1V1569.2H405.1V1570.8H407.2V1570.6H409.2V1570.2H411.3V1570.6H413.4V1569.9H415.4V1571.8H417.4V1572.2H419.5V1571.7H421.6V1571.9H423.6V1573.3H425.6V1573.5H427.7V1571.2H429.8V1571.4H431.8V1571.0H433.9V1571.5H435.9V1571.1H437.9V1570.8H440.0V1570.9H442.0V1571.7H444.1V1570.7H446.1V1571.4H448.2V1570.1H450.2V1571.3H452.3V1570.2H454.4V1571.0H456.4V1570.2H458.4V1568.7H460.5V1568.7H462.5V1568.9H464.6V1570.5H466.6V1571.3H468.7V1569.5H470.8V1569.1H472.8V1570.6H474.9V1571.0H476.9V1570.8H478.9V1570.9H481.0V1570.1H483.0V1570.8H485.1V1572.0H487.1V1571.9H489.2V1571.7H491.2V1571.2H493.3V1571.1H495.4V1571.3H497.4V1571.7H499.4V1572.4H501.5V1573.2H503.5V1573.5H505.6V1573.1H507.6V1573.2H509.7V1573.2H511.8V1573.1H513.8V1573.3H515.9V1573.9H517.9V1573.3H520.0V1572.8H522.0V1573.1H524.0V1573.6H526.1V1572.6H528.1V1572.1H530.2V1571.9H532.2V1571.0H534.3V1571.8H536.3V1572.5H538.4V1572.7H540.5V1573.5H542.5V1573.8H544.5V1574.1H546.6V1574.6H548.6V1574.5H550.7V1575.0H552.8V1575.8H554.8V1575.9H556.8V1575.8H558.9V1576.8H561.0V1577.1H563.0V1578.1H565.0V1578.7H567.1V1579.7H569.1V1579.4H571.2V1580.0H573.2V1580.6H575.3V1580.9H577.3V1581.9H579.4V1581.1H581.5V1581.7H583.5V1581.5H585.5V1581.5H587.6V1581.3H589.6V1580.7H591.7V1580.4H593.8V1580.0H595.8V1580.1H597.8V1580.6H599.9V1579.6H602.0V1579.3H604.0V1578.6H606.0V1577.9H608.1V1578.0H610.1V1577.8H612.2V1578.2H614.2V1578.8H616.3V1579.1H618.3V1579.9H620.4V1580.8H622.5V1581.0H624.5V1582.0H626.5V1581.7H628.6V1582.1H630.6V1581.9H632.7V1581.4H634.8V1581.2H636.8V1581.6H638.8V1581.4H640.9V1582.0H643.0V1582.3H645.0V1582.2H647.0V1581.7H649.1V1582.0H651.1V1582.2H653.2V1582.1H655.2V1582.2H657.3V1582.1H659.3V1581.9H661.4V1582.7H663.5V1582.5H665.5V1582.7H667.5V1583.2H669.6V1583.4H671.6V1582.6H673.7V1583.6H675.8V1583.0H677.8V1583.0H679.8V1583.0H681.9V1582.6H684.0V1583.3H686.0V1583.0H688.0V1582.9H690.1V1583.3H692.1V1583.2H694.2V1583.3H696.2V1584.0H698.3V1584.3H700.3V1584.3H702.4V1585.3H704.5V1585.4H706.5V1585.5H708.5V1585.1H710.6V1585.0H712.6V1584.4H714.7V1584.8H716.8V1584.3H718.8V1584.1H720.8V1584.6H722.9V1584.1H725.0V1584.2H727.0V1584.2H729.0V1583.7H731.1V1583.8H733.1V1583.8H735.2V1583.6H737.2V1583.6H739.3V1585.3H741.3V1585.1H743.4V1585.2H745.5V1585.5H747.5V1585.3H749.5V1585.6H751.6V1586.3H753.6V1586.0H755.7V1586.0H757.8V1585.9H759.8V1586.7H761.8V1586.4H763.9V1586.4H766.0V1586.4H768.0V1587.2H770.0V1586.7H772.1V1586.9H774.1V1587.1H776.2V1587.7H778.2V1587.3H780.3V1587.8H782.3V1588.1H784.4V1588.3H786.5V1587.9H788.5V1588.9H790.5V1588.9H792.6V1589.2H794.6V1589.6H796.7V1589.9H798.8V1590.5H800.8V1590.3H802.8V1590.3H804.9V1590.9H807.0V1591.4H809.0V1591.6H811.0V1591.6H813.1V1591.9H815.1V1592.6H817.2V1593.1H819.2V1593.3H821.3V1593.1H823.3V1593.0H825.4V1592.3H827.5V1592.8H829.5V1592.2H831.5V1592.8H833.6V1592.5H835.6V1592.4H837.7V1592.2H839.8V1592.3H841.8V1592.1H843.8V1592.2H845.9V1592.1H848.0V1591.8H850.0V1591.9H852.0V1591.2H854.1V1592.4H856.1V1591.8H858.2V1591.8H860.2V1591.9H862.3V1591.2H864.3V1592.8H866.4V1592.3H868.5V1592.2H870.5V1592.4H872.5V1592.8H874.6V1593.0H876.6V1591.1H878.7V1591.5H880.8V1591.6H882.8V1591.7H884.8V1591.8H886.9V1591.3H889.0V1591.6H891.0V1591.5H893.0V1591.2H895.1V1591.2H897.1V1591.9H899.2V1591.6H901.2V1591.7H903.3V1592.9H905.3V1592.8H907.4V1592.4H909.5V1592.2H911.5V1592.1H913.5V1592.0H915.6V1592.8H917.6V1593.1H919.7V1593.0H921.8V1593.5H923.8V1593.3H925.8V1593.4H927.9V1593.7H930.0V1593.7H932.0V1593.9H934.0V1593.9H936.1V1593.4H938.1V1593.5H940.2V1593.3H942.2V1593.9H944.3V1593.4H946.3V1593.3H948.4V1593.1H950.5V1593.8H952.5V1593.1H954.5V1593.1H956.6V1592.7H958.6V1593.4H960.7V1594.1H962.8V1594.2H964.8V1594.2H966.8V1595.1H968.9V1594.5H971.0V1595.3H973.0V1595.4H975.0V1595.6H977.1V1595.6H979.1V1595.0H981.2V1595.0H983.2V1594.6H985.3V1595.5H987.3V1595.2H989.4V1595.1H991.5V1596.6H993.5V1597.3H995.5V1596.9H997.6V1596.7H999.6V1596.6H1001.7V1596.9H1003.8V1597.6H1005.8V1597.4H1007.8V1598.3H1009.9V1597.8H1012.0V1598.4H1014.0V1598.3H1016.0V1597.9H1018.1V1597.6H1020.1V1597.7H1022.2V1598.4H1024.2V1598.2H1026.3V1598.3H1028.3V1599.6H1030.4V1599.6H1032.5V1599.1H1034.5V1599.7H1036.5V1599.5H1038.6V1600.3H1040.6V1600.0H1042.7V1600.9H1044.8V1600.5H1046.8V1601.4H1048.8V1601.6H1050.9V1602.6H1053.0V1603.7H1055.0V1603.2H1057.0V1604.3H1059.1V1603.9H1061.1V1603.8H1063.2V1604.3H1065.2V1604.4H1067.3V1604.1H1069.3V1603.9H1071.4V1604.3H1073.5V1603.9H1075.5V1603.9H1077.5V1604.1H1079.6V1604.0H1081.6V1603.6H1083.7V1603.2H1085.8V1602.7H1087.8V1603.0H1089.8V1603.3H1091.9V1603.2H1094.0V1603.1H1096.0V1603.5H1098.0V1602.6H1100.1V1602.7H1102.1V1603.2H1104.2V1602.9H1106.2V1603.3H1108.3V1602.5H1110.3V1602.3H1112.4V1602.4H1114.5V1603.1H1116.5V1603.2H1118.5V1602.7H1120.6V1602.4H1122.6V1601.8H1124.7V1601.9H1126.8V1602.7H1128.8V1601.9H1130.8V1602.2H1132.9V1601.7H1135.0V1601.7H1137.0V1602.3H1139.0V1603.1H1141.1V1604.0H1143.1V1603.6H1145.2V1602.9H1147.2V1603.3H1149.3V1603.0H1151.3V1603.2H1153.4V1603.6H1155.5V1603.6H1157.5V1604.5H1159.5V1603.9H1161.6V1604.1H1163.6V1604.4H1165.7V1604.5H1167.8V1604.7H1169.8V1604.5H1171.8V1605.4H1173.9V1605.2H1176.0V1604.5H1178.0V1605.0H1180.0V1605.3H1182.1V1605.3H1184.1V1605.3H1186.2V1605.4H1188.2V1605.9H1190.3V1605.7H1192.3V1605.8H1194.4V1605.9H1196.4V1605.3H1198.5V1605.8H1200.5V1607.2H1202.6V1607.3H1204.6V1607.5H1206.7V1606.3H1208.8V1606.1H1210.8V1606.4H1212.8V1606.6H1214.9V1606.4H1216.9V1606.9H1219.0V1607.4H1221.0V1607.0H1223.1V1606.7H1225.1V1607.5H1227.2V1606.9H1229.2V1607.5H1231.3V1607.6H1233.3V1607.1H1235.4V1607.9H1237.4V1608.1H1239.5V1608.1H1241.5V1607.9H1243.6V1608.0H1245.6V1608.0H1247.7V1608.4H1249.8V1608.9H1251.8V1608.6H1253.8V1608.8H1255.9V1609.1H1257.9V1607.6H1260.0V1608.4H1262.0V1608.2H1264.1V1609.0H1266.1V1608.2H1268.2V1608.4H1270.2V1608.8H1272.3V1608.4H1274.3V1608.8H1276.4V1608.9H1278.4V1608.4H1280.5V1609.3H1282.5V1608.3H1284.6V1608.4H1286.6V1609.6H1288.7V1609.1H1290.8V1609.9H1292.8V1609.8H1294.8V1610.1H1296.9V1610.1H1298.9V1609.9H1301.0V1609.9H1303.0V1610.0H1305.1V1609.9H1307.1V1609.6H1309.2V1610.1H1311.2V1609.5H1313.3V1609.8H1315.3V1609.5H1317.4V1609.5H1319.4V1609.8H1321.5V1610.2H1323.5V1609.7H1325.6V1610.5H1327.6V1610.7H1329.7V1610.0H1331.7V1610.4H1333.8V1611.2H1335.8V1611.3H1337.9V1611.2H1339.9V1611.1H1342.0V1611.7H1344.0V1611.5H1346.1V1611.8H1348.1V1611.5H1350.2V1612.1H1352.2V1611.9H1354.3V1611.7H1356.3V1611.6H1358.4V1611.5H1360.4V1611.8H1362.5V1612.7H1364.5V1611.5H1366.6V1611.6H1368.6V1612.3H1370.7V1611.4H1372.7V1612.1H1374.8V1611.6H1376.8V1612.3H1378.9V1612.1H1380.9V1612.0H1383.0V1612.0H1385.0V1612.2H1387.1V1614.0H1389.1V1613.7H1391.2V1613.6H1393.2V1613.8H1395.3V1614.1H1397.3V1613.5H1399.4V1613.6H1401.4V1613.8H1403.5V1613.2H1405.5V1613.8H1407.6V1613.4H1409.6V1613.4H1411.7V1613.1H1413.7V1613.7H1415.8V1613.3H1417.8V1613.5H1419.9V1614.6H1421.9V1613.9H1424.0V1614.3H1426.0V1614.7H1428.1V1614.2H1430.1V1614.4H1432.2V1614.1H1434.2V1614.6H1436.3V1614.2H1438.3V1614.2H1440.4V1615.0H1442.4V1615.5H1444.5V1615.2H1446.5V1615.3H1448.6V1615.3H1450.6V1615.3H1452.7V1614.8H1454.7V1615.1H1456.8V1615.1H1458.8V1615.0H1460.9V1614.6H1462.9V1615.3H1465.0V1615.0H1467.0V1615.6H1469.1V1615.6H1471.1V1614.9H1473.2V1614.9H1475.2V1615.0H1477.3V1614.1H1479.3V1614.1H1481.4V1615.2H1483.4V1615.1H1485.5V1614.5H1487.5V1614.1H1489.6V1614.6H1491.6V1614.7H1493.7V1614.4H1495.7V1614.9H1497.8V1614.2H1499.8V1614.7H1501.9V1615.6H1503.9V1615.6H1506.0V1615.7H1508.0V1615.5H1510.1V1616.2H1512.1V1616.1H1514.2V1615.5H1516.2V1616.0H1518.3V1615.3H1520.3V1616.0H1522.4V1615.7H1524.4V1616.4H1526.5V1615.7H1528.5V1616.1H1530.6V1616.7H1532.6V1616.2H1534.7V1616.8H1536.7V1615.8H1538.8V1615.8H1540.8V1616.3H1542.9V1616.2H1544.9V1616.5H1547.0V1616.6H1549.0V1616.8H1551.1V1616.9H1553.1V1616.9H1555.2V1617.0H1557.2V1617.1H1559.3V1617.0H1561.3V1617.7H1563.4V1617.9H1565.4V1617.4H1567.5V1617.2H1569.5V1617.5H1571.6V1619.1H1573.6V1618.8H1575.7V1617.8H1577.7V1618.0H1579.8V1618.2H1581.8V1617.9H1583.9V1618.6H1585.9V1619.2H1588.0V1618.1H1590.0V1618.3H1592.1V1618.6H1594.1V1618.5H1596.2V1618.4H1598.2V1619.0H1600.3V1618.2H1602.3V1619.0H1604.4V1618.4H1606.4V1618.2H1608.5V1618.6H1610.5V1618.6H1612.6V1619.0H1614.6V1619.2H1616.7V1619.2H1618.7V1619.5H1620.8V1619.5H1622.8V1619.4H1624.9V1618.4H1626.9V1618.1H1629.0V1618.3H1631.0V1617.9H1633.1V1618.9H1635.1V1619.2H1637.2V1618.8H1639.2V1619.1H1641.3V1619.2H1643.3V1619.2H1645.4V1619.1H1647.4V1618.9H1649.5V1619.9H1651.5V1620.7H1653.6V1620.0H1655.6V1619.6H1657.7V1619.1H1659.7V1619.5H1661.8V1619.2H1663.8V1619.8H1665.9V1619.4H1667.9V1619.8H1670.0V1619.4H1672.0V1620.5H1674.1V1620.0H1676.1V1620.3H1678.2V1620.7H1680.2V1620.7H1682.3V1620.1H1684.3V1620.9H1686.4V1620.3H1688.4V1620.8H1690.5V1621.4H1692.5V1621.4H1694.6V1621.8H1696.6V1621.7H1698.7V1621.8H1700.7V1622.3H1702.8V1621.5H1704.8V1621.4H1706.9V1621.1H1708.9V1621.9H1711.0V1621.2H1713.0V1621.3H1715.1V1621.2H1717.1V1621.9H1719.2V1621.9H1721.2V1621.8H1723.3V1621.6H1725.3V1621.6H1727.4V1621.8H1729.4V1621.1H1731.5V1622.3H1733.5V1622.3H1735.6V1622.3H1737.6V1622.7H1739.7V1622.5H1741.7V1622.6H1743.8V1623.4H1745.8V1623.4H1747.9V1623.3H1749.9V1623.6H1752.0V1623.4H1754.0V1623.6H1756.1V1624.1H1758.1V1623.6H1760.2V1623.6H1762.2V1624.0H1764.3V1622.4H1766.3V1623.2H1768.4V1624.2H1770.4V1623.6H1772.5V1623.6H1774.5V1623.7H1776.6V1623.9H1778.6V1624.3H1780.7V1624.5H1782.7V1624.6H1784.8V1624.6H1786.8V1623.9H1788.9V1624.8H1790.9V1624.0H1793.0V1623.2H1795.0V1623.5H1797.1V1623.7H1799.1V1623.3H1801.2V1623.6H1803.2V1623.7H1805.3V1623.5H1807.3V1623.9H1809.4V1624.1H1811.4V1623.7H1813.5V1624.3H1815.5V1624.7H1817.6V1624.2H1819.6V1624.4H1821.7V1624.1H1823.7V1624.4H1825.8V1624.2H1827.8V1624.0H1829.9V1624.2H1831.9V1623.8H1834.0V1624.4H1836.0V1624.0H1838.1V1624.4H1840.1V1624.4H1842.2V1623.5H1844.2V1623.5H1846.3V1624.3H1848.3V1624.2H1850.4V1624.4H1852.4V1625.6H1854.5V1625.2H1856.5V1624.6H1858.6V1624.4H1860.6V1624.0H1862.7V1625.5H1864.7V1625.2H1866.8V1625.2H1868.8V1624.3H1870.9V1624.7H1872.9V1625.6H1875.0V1625.8H1877.0V1625.7H1879.1V1625.7H1881.1V1625.1H1883.2V1625.9H1885.2V1626.0H1887.3V1625.2H1889.3V1625.0H1891.4V1625.3H1893.4V1625.6H1895.5V1625.1H1897.5V1625.6H1899.6V1625.9H1901.6V1625.5H1903.7V1625.8H1905.7V1625.4H1907.8V1625.9H1909.8V1625.6H1911.5V1650.1H1909.8V1650.2H1907.8V1650.3H1905.7V1649.9H1903.7V1650.1H1901.6V1650.3H1899.6V1649.9H1897.5V1650.7H1895.5V1650.3H1893.4V1650.5H1891.4V1650.3H1889.3V1650.5H1887.3V1650.6H1885.2V1649.6H1883.2V1649.6H1881.1V1649.9H1879.1V1650.1H1877.0V1649.8H1875.0V1649.8H1872.9V1650.6H1870.9V1650.2H1868.8V1651.2H1866.8V1651.2H1864.7V1650.9H1862.7V1650.7H1860.6V1650.1H1858.6V1650.6H1856.5V1649.4H1854.5V1649.8H1852.4V1650.3H1850.4V1650.9H1848.3V1650.2H1846.3V1650.1H1844.2V1650.5H1842.2V1650.4H1840.1V1651.0H1838.1V1650.1H1836.0V1650.0H1834.0V1650.3H1831.9V1649.6H1829.9V1649.7H1827.8V1649.0H1825.8V1649.8H1823.7V1649.2H1821.7V1650.2H1819.6V1648.9H1817.6V1649.5H1815.5V1649.9H1813.5V1648.9H1811.4V1649.6H1809.4V1648.9H1807.3V1649.9H1805.3V1649.7H1803.2V1649.4H1801.2V1649.6H1799.1V1648.4H1797.1V1648.2H1795.0V1648.6H1793.0V1649.0H1790.9V1649.0H1788.9V1648.4H1786.8V1649.3H1784.8V1648.1H1782.7V1648.9H1780.7V1648.2H1778.6V1648.3H1776.6V1647.3H1774.5V1647.8H1772.5V1647.6H1770.4V1647.4H1768.4V1646.9H1766.3V1647.1H1764.3V1647.7H1762.2V1647.8H1760.2V1646.9H1758.1V1647.0H1756.1V1647.0H1754.0V1646.5H1752.0V1647.9H1749.9V1647.3H1747.9V1646.7H1745.8V1647.4H1743.8V1647.5H1741.7V1647.8H1739.7V1647.5H1737.6V1648.0H1735.6V1647.5H1733.5V1647.2H1731.5V1647.8H1729.4V1645.7H1727.4V1646.2H1725.3V1646.3H1723.3V1646.8H1721.2V1646.5H1719.2V1646.3H1717.1V1646.7H1715.1V1645.9H1713.0V1646.8H1711.0V1646.1H1708.9V1646.1H1706.9V1646.2H1704.8V1645.6H1702.8V1645.5H1700.7V1645.6H1698.7V1645.7H1696.6V1646.3H1694.6V1646.0H1692.5V1645.3H1690.5V1645.4H1688.4V1645.0H1686.4V1644.9H1684.3V1645.7H1682.3V1644.7H1680.2V1644.7H1678.2V1644.6H1676.1V1645.4H1674.1V1646.4H1672.0V1645.9H1670.0V1645.5H1667.9V1646.4H1665.9V1645.9H1663.8V1645.5H1661.8V1644.6H1659.7V1645.1H1657.7V1645.4H1655.6V1644.3H1653.6V1645.3H1651.5V1645.0H1649.5V1644.2H1647.4V1644.6H1645.4V1644.7H1643.3V1644.8H1641.3V1643.6H1639.2V1643.9H1637.2V1643.7H1635.1V1643.8H1633.1V1643.3H1631.0V1644.8H1629.0V1644.6H1626.9V1644.5H1624.9V1644.2H1622.8V1643.7H1620.8V1644.7H1618.7V1644.0H1616.7V1644.7H1614.6V1644.5H1612.6V1644.0H1610.5V1643.5H1608.5V1644.1H1606.4V1644.5H1604.4V1644.2H1602.3V1644.1H1600.3V1644.1H1598.2V1643.3H1596.2V1642.1H1594.1V1643.1H1592.1V1642.0H1590.0V1641.8H1588.0V1642.6H1585.9V1642.5H1583.9V1642.0H1581.8V1641.7H1579.8V1641.8H1577.7V1642.3H1575.7V1642.2H1573.6V1642.2H1571.6V1641.9H1569.5V1642.3H1567.5V1641.8H1565.4V1641.0H1563.4V1641.4H1561.3V1642.2H1559.3V1642.1H1557.2V1641.0H1555.2V1641.3H1553.1V1641.9H1551.1V1642.0H1549.0V1641.6H1547.0V1640.7H1544.9V1641.5H1542.9V1641.4H1540.8V1641.2H1538.8V1640.4H1536.7V1641.0H1534.7V1640.3H1532.6V1640.5H1530.6V1640.3H1528.5V1640.5H1526.5V1640.9H1524.4V1640.7H1522.4V1640.9H1520.3V1640.6H1518.3V1640.3H1516.2V1641.1H1514.2V1641.0H1512.1V1640.8H1510.1V1640.7H1508.0V1640.6H1506.0V1640.2H1503.9V1641.0H1501.9V1640.1H1499.8V1640.3H1497.8V1640.6H1495.7V1640.2H1493.7V1640.8H1491.6V1640.8H1489.6V1640.1H1487.5V1641.0H1485.5V1640.9H1483.4V1640.5H1481.4V1640.1H1479.3V1640.7H1477.3V1639.7H1475.2V1639.9H1473.2V1640.8H1471.1V1640.8H1469.1V1641.1H1467.0V1640.9H1465.0V1640.3H1462.9V1641.0H1460.9V1640.2H1458.8V1640.7H1456.8V1641.3H1454.7V1641.5H1452.7V1641.0H1450.6V1640.1H1448.6V1640.6H1446.5V1641.9H1444.5V1641.0H1442.4V1641.7H1440.4V1642.0H1438.3V1641.2H1436.3V1641.0H1434.2V1641.3H1432.2V1641.2H1430.1V1641.0H1428.1V1640.8H1426.0V1641.3H1424.0V1641.5H1421.9V1640.9H1419.9V1640.9H1417.8V1640.6H1415.8V1640.7H1413.7V1641.0H1411.7V1641.1H1409.6V1640.5H1407.6V1640.9H1405.5V1640.6H1403.5V1640.4H1401.4V1640.5H1399.4V1640.8H1397.3V1640.9H1395.3V1640.9H1393.2V1640.1H1391.2V1640.5H1389.1V1640.9H1387.1V1639.7H1385.0V1640.5H1383.0V1640.5H1380.9V1640.0H1378.9V1639.7H1376.8V1640.7H1374.8V1641.5H1372.7V1641.1H1370.7V1641.0H1368.6V1640.0H1366.6V1639.6H1364.5V1639.6H1362.5V1640.5H1360.4V1639.7H1358.4V1640.6H1356.3V1640.3H1354.3V1640.9H1352.2V1641.3H1350.2V1640.6H1348.1V1640.3H1346.1V1639.6H1344.0V1639.9H1342.0V1640.1H1339.9V1640.1H1337.9V1640.9H1335.8V1640.5H1333.8V1641.0H1331.7V1640.1H1329.7V1639.9H1327.6V1640.4H1325.6V1640.2H1323.5V1640.0H1321.5V1639.5H1319.4V1639.8H1317.4V1639.2H1315.3V1639.0H1313.3V1639.6H1311.2V1639.2H1309.2V1639.2H1307.1V1639.4H1305.1V1638.6H1303.0V1639.4H1301.0V1638.6H1298.9V1638.3H1296.9V1638.0H1294.8V1638.0H1292.8V1638.0H1290.8V1638.1H1288.7V1638.2H1286.6V1638.4H1284.6V1638.2H1282.5V1638.0H1280.5V1637.8H1278.4V1637.5H1276.4V1637.6H1274.3V1637.6H1272.3V1637.1H1270.2V1637.1H1268.2V1637.4H1266.1V1637.5H1264.1V1638.0H1262.0V1637.7H1260.0V1637.9H1257.9V1637.5H1255.9V1636.1H1253.8V1636.4H1251.8V1636.4H1249.8V1637.5H1247.7V1636.8H1245.6V1636.6H1243.6V1636.6H1241.5V1636.8H1239.5V1637.2H1237.4V1636.8H1235.4V1636.8H1233.3V1636.2H1231.3V1637.2H1229.2V1635.5H1227.2V1636.1H1225.1V1636.0H1223.1V1635.6H1221.0V1636.2H1219.0V1635.8H1216.9V1635.5H1214.9V1635.2H1212.8V1636.0H1210.8V1635.6H1208.8V1636.5H1206.7V1636.4H1204.6V1636.0H1202.6V1636.3H1200.5V1635.0H1198.5V1634.1H1196.4V1634.1H1194.4V1634.4H1192.3V1634.3H1190.3V1634.3H1188.2V1635.2H1186.2V1634.6H1184.1V1634.9H1182.1V1634.9H1180.0V1634.4H1178.0V1635.0H1176.0V1634.6H1173.9V1634.6H1171.8V1634.6H1169.8V1635.2H1167.8V1635.2H1165.7V1634.2H1163.6V1634.4H1161.6V1634.6H1159.5V1634.6H1157.5V1634.0H1155.5V1633.5H1153.4V1634.1H1151.3V1634.0H1149.3V1633.0H1147.2V1633.7H1145.2V1633.7H1143.1V1634.0H1141.1V1633.7H1139.0V1634.0H1137.0V1633.6H1135.0V1633.7H1132.9V1634.3H1130.8V1634.0H1128.8V1634.5H1126.8V1633.6H1124.7V1633.4H1122.6V1632.8H1120.6V1633.5H1118.5V1633.3H1116.5V1632.9H1114.5V1632.6H1112.4V1632.1H1110.3V1633.2H1108.3V1633.7H1106.2V1633.7H1104.2V1633.7H1102.1V1633.5H1100.1V1633.5H1098.0V1633.1H1096.0V1633.6H1094.0V1632.5H1091.9V1632.2H1089.8V1633.6H1087.8V1633.7H1085.8V1632.9H1083.7V1633.3H1081.6V1633.2H1079.6V1632.9H1077.5V1633.0H1075.5V1632.7H1073.5V1633.0H1071.4V1632.4H1069.3V1633.2H1067.3V1633.4H1065.2V1633.6H1063.2V1633.8H1061.1V1633.8H1059.1V1634.1H1057.0V1634.4H1055.0V1634.3H1053.0V1634.1H1050.9V1634.3H1048.8V1634.3H1046.8V1633.6H1044.8V1634.0H1042.7V1633.4H1040.6V1633.6H1038.6V1633.8H1036.5V1633.6H1034.5V1632.7H1032.5V1633.0H1030.4V1632.6H1028.3V1632.8H1026.3V1631.6H1024.2V1631.4H1022.2V1631.1H1020.1V1631.9H1018.1V1632.5H1016.0V1632.4H1014.0V1632.2H1012.0V1631.6H1009.9V1630.8H1007.8V1630.7H1005.8V1630.6H1003.8V1631.5H1001.7V1630.3H999.6V1631.4H997.6V1630.6H995.5V1631.1H993.5V1631.2H991.5V1631.0H989.4V1631.6H987.3V1631.4H985.3V1630.7H983.2V1631.5H981.2V1631.1H979.1V1630.6H977.1V1630.0H975.0V1630.6H973.0V1629.7H971.0V1630.4H968.9V1629.8H966.8V1631.2H964.8V1630.8H962.8V1630.9H960.7V1629.8H958.6V1629.9H956.6V1630.0H954.5V1630.1H952.5V1630.3H950.5V1630.2H948.4V1630.7H946.3V1630.7H944.3V1631.0H942.2V1629.9H940.2V1630.1H938.1V1630.1H936.1V1630.2H934.0V1631.0H932.0V1630.7H930.0V1630.3H927.9V1630.1H925.8V1629.6H923.8V1630.2H921.8V1630.4H919.7V1630.4H917.6V1630.5H915.6V1630.0H913.5V1629.3H911.5V1630.5H909.5V1629.2H907.4V1629.8H905.3V1629.4H903.3V1630.4H901.2V1630.5H899.2V1630.8H897.1V1630.3H895.1V1630.1H893.0V1629.4H891.0V1629.8H889.0V1629.5H886.9V1629.9H884.8V1629.8H882.8V1629.2H880.8V1629.7H878.7V1629.3H876.6V1629.0H874.6V1629.8H872.5V1629.6H870.5V1630.4H868.5V1630.4H866.4V1630.0H864.3V1630.1H862.3V1629.6H860.2V1630.3H858.2V1630.0H856.1V1629.8H854.1V1629.8H852.0V1630.3H850.0V1630.5H848.0V1630.1H845.9V1630.4H843.8V1629.6H841.8V1630.3H839.8V1628.4H837.7V1628.3H835.6V1629.3H833.6V1628.3H831.5V1628.6H829.5V1629.1H827.5V1629.7H825.4V1629.9H823.3V1629.9H821.3V1629.3H819.2V1630.0H817.2V1628.5H815.1V1629.0H813.1V1628.6H811.0V1628.6H809.0V1628.6H807.0V1628.0H804.9V1628.7H802.8V1628.9H800.8V1628.7H798.8V1627.9H796.7V1627.9H794.6V1626.8H792.6V1627.1H790.5V1627.6H788.5V1627.1H786.5V1627.8H784.4V1627.7H782.3V1627.2H780.3V1627.1H778.2V1627.3H776.2V1626.2H774.1V1626.3H772.1V1625.9H770.0V1626.6H768.0V1626.2H766.0V1625.6H763.9V1626.3H761.8V1626.0H759.8V1626.0H757.8V1625.8H755.7V1625.4H753.6V1625.8H751.6V1626.0H749.5V1625.4H747.5V1625.3H745.5V1625.5H743.4V1625.5H741.3V1625.5H739.3V1626.7H737.2V1626.2H735.2V1626.6H733.1V1625.6H731.1V1625.3H729.0V1625.3H727.0V1626.2H725.0V1625.3H722.9V1624.7H720.8V1624.3H718.8V1624.8H716.8V1624.3H714.7V1624.4H712.6V1624.9H710.6V1624.1H708.5V1624.0H706.5V1625.1H704.5V1623.9H702.4V1623.7H700.3V1624.3H698.3V1623.9H696.2V1623.4H694.2V1622.6H692.1V1622.2H690.1V1622.0H688.0V1622.0H686.0V1621.8H684.0V1622.5H681.9V1623.0H679.8V1623.5H677.8V1622.6H675.8V1623.3H673.7V1622.6H671.6V1623.3H669.6V1622.6H667.5V1622.1H665.5V1622.6H663.5V1622.6H661.4V1623.0H659.3V1622.1H657.3V1622.6H655.2V1622.3H653.2V1622.4H651.1V1622.8H649.1V1621.9H647.0V1622.6H645.0V1621.9H643.0V1622.3H640.9V1622.3H638.8V1621.8H636.8V1622.5H634.8V1621.9H632.7V1621.5H630.6V1622.1H628.6V1622.2H626.5V1622.3H624.5V1622.1H622.5V1621.9H620.4V1622.3H618.3V1622.5H616.3V1621.8H614.2V1622.6H612.2V1622.8H610.1V1623.0H608.1V1622.4H606.0V1622.8H604.0V1623.2H602.0V1623.8H599.9V1623.3H597.8V1624.0H595.8V1623.8H593.8V1623.3H591.7V1623.1H589.6V1623.2H587.6V1622.3H585.5V1621.9H583.5V1621.8H581.5V1622.2H579.4V1621.5H577.3V1621.8H575.3V1621.8H573.2V1620.3H571.2V1621.0H569.1V1619.3H567.1V1619.9H565.0V1620.0H563.0V1618.8H561.0V1618.8H558.9V1619.1H556.8V1618.2H554.8V1619.3H552.8V1618.6H550.7V1619.5H548.6V1619.3H546.6V1619.2H544.5V1618.4H542.5V1618.1H540.5V1617.8H538.4V1618.3H536.3V1617.7H534.3V1618.3H532.2V1617.7H530.2V1617.4H528.1V1616.7H526.1V1616.7H524.0V1617.2H522.0V1616.2H520.0V1615.2H517.9V1615.9H515.9V1615.4H513.8V1615.7H511.8V1616.1H509.7V1615.6H507.6V1616.5H505.6V1615.8H503.5V1616.1H501.5V1616.2H499.4V1616.5H497.4V1617.0H495.4V1616.8H493.3V1616.8H491.2V1617.0H489.2V1616.8H487.1V1617.2H485.1V1617.3H483.0V1618.1H481.0V1617.4H478.9V1617.4H476.9V1618.2H474.9V1617.5H472.8V1618.6H470.8V1618.4H468.7V1617.8H466.6V1618.8H464.6V1617.5H462.5V1617.8H460.5V1617.4H458.4V1617.3H456.4V1616.6H454.4V1616.9H452.3V1616.6H450.2V1617.4H448.2V1616.3H446.1V1616.3H444.1V1617.1H442.0V1616.6H440.0V1616.4H437.9V1616.4H435.9V1615.7H433.9V1615.3H431.8V1615.7H429.8V1615.7H427.7V1615.6H425.6V1613.8H423.6V1614.3H421.6V1613.8H419.5V1613.2H417.4V1612.6H415.4V1612.9H413.4V1612.2H411.3V1611.7H409.2V1611.4H407.2V1611.6H405.1V1611.3H403.1V1610.5H401.1V1610.5H399.0V1609.2H396.9V1609.3H394.9V1609.4H392.9V1609.2H390.8V1609.3H388.8V1609.8H386.7V1609.0H384.6V1609.1H382.6V1608.5H380.6V1608.6H378.5V1608.9H376.4V1608.2H374.4V1608.4H372.4V1608.6H370.3V1608.8H368.2V1607.9H366.2V1608.2H364.1V1608.1H362.1V1608.3H360.1V1607.6H358.0V1608.3H355.9V1607.6H353.9V1608.6H351.9V1609.5H349.8V1609.6H347.8V1609.7H345.7V1610.8H343.6V1611.1H341.6V1613.5H339.6V1614.1H337.5V1614.6H335.4V1615.0H333.4V1615.3H331.4V1616.3H329.3V1616.9H327.2V1616.1H325.2V1617.5H323.1V1617.0H321.1V1617.6H319.1V1618.5H317.0V1618.6H314.9V1617.7H312.9V1617.9H310.9V1617.7H308.8V1618.6H306.8V1617.3H304.7V1618.1H302.6V1618.7H300.6V1618.6H298.6V1617.8H296.5V1618.0H294.4V1617.2H292.4V1617.5H290.4V1617.6H288.3V1617.7H286.2V1617.8H284.2V1617.0H282.2V1618.7H280.1V1619.4H278.1V1619.5H276.0V1619.3H273.9V1620.4H271.9V1621.0H269.9V1622.1H267.8Z"/></g>
<g fill="none" stroke="#000" stroke-width="4.0">
<path d="M262.2,1843.6 V1265.9 H1911.5 V1843.6"/>
<path d="M246.3,1843.6 H1913.5"/>
</g>
<path fill="none" stroke="#000" stroke-width="3.2" d="M253.4,1776.5 H262.2 M246.3,1709.4 H262.2 M253.4,1642.3 H262.2 M246.3,1575.2 H262.2 M253.4,1508.1 H262.2 M246.3,1441.0 H262.2 M253.4,1373.9 H262.2 M246.3,1306.8 H262.2"/>
<text class="b" x="164.1" y="1860.9" font-size="56.5" textLength="68.5" lengthAdjust="spacingAndGlyphs">0.0</text>
<text class="b" x="164.1" y="1726.7" font-size="56.5" textLength="68.5" lengthAdjust="spacingAndGlyphs">0.1</text>
<text class="b" x="164.1" y="1592.5" font-size="56.5" textLength="68.5" lengthAdjust="spacingAndGlyphs">0.2</text>
<text class="b" x="164.1" y="1458.3" font-size="56.5" textLength="68.5" lengthAdjust="spacingAndGlyphs">0.3</text>
<text class="b" x="164.1" y="1324.1" font-size="56.5" textLength="68.5" lengthAdjust="spacingAndGlyphs">0.4</text>
<text x="1804.9" y="1347.2" font-size="77" textLength="87.4" lengthAdjust="spacingAndGlyphs" fill="#000000">A1</text>
<path fill="none" stroke="#000" stroke-width="3.2" d="M266.7,1843.6 V1860.4 M540.8,1843.6 V1851.6 M814.9,1843.6 V1860.4 M1089.0,1843.6 V1851.6 M1363.1,1843.6 V1860.4 M1637.2,1843.6 V1851.6 M1911.3,1843.6 V1860.4"/>
<text class="b" x="266.7" y="1914.8" font-size="56.5" text-anchor="middle">0</text>
<text class="b" x="814.9" y="1914.8" font-size="56.5" text-anchor="middle">100</text>
<text class="b" x="1363.1" y="1914.8" font-size="56.5" text-anchor="middle">200</text>
<text class="b" x="1911.3" y="1914.8" font-size="56.5" text-anchor="middle">300</text>
<text class="b" x="1102" y="2047" font-size="66" text-anchor="middle">Friction path, m</text>
<text class="b" transform="translate(122.6,978) rotate(-90)" font-size="66" text-anchor="middle">Friction coefficient</text>
<g font-size="76">
<text x="11.4" y="2205.4" textLength="61.6" lengthAdjust="spacingAndGlyphs">at</text>
<text x="92.2" y="2205.4" textLength="241.8" lengthAdjust="spacingAndGlyphs">oxygen</text>
<text x="354.4" y="2205.4" textLength="146.6" lengthAdjust="spacingAndGlyphs">flow</text>
<text x="521.8" y="2205.4" textLength="159.9" lengthAdjust="spacingAndGlyphs">rates</text>
<text x="699.0" y="2205.4" textLength="67.8" lengthAdjust="spacingAndGlyphs">of</text>
<text x="784.2" y="2205.4" textLength="114.1" lengthAdjust="spacingAndGlyphs">150</text>
<text x="916.7" y="2205.4" textLength="177.3" lengthAdjust="spacingAndGlyphs">l/min</text>
<text x="1115.7" y="2205.4" textLength="165.1" lengthAdjust="spacingAndGlyphs">(A1);</text>
<text x="1294.3" y="2205.4" textLength="115.1" lengthAdjust="spacingAndGlyphs">170</text>
<text x="1426.6" y="2205.4" textLength="179.3" lengthAdjust="spacingAndGlyphs">l/min</text>
<text x="1625.9" y="2205.4" textLength="143.3" lengthAdjust="spacingAndGlyphs">(A2)</text>
<text x="1788.6" y="2205.4" textLength="124.4" lengthAdjust="spacingAndGlyphs">and</text>
<text x="1932.6" y="2205.4" textLength="115.8" lengthAdjust="spacingAndGlyphs">190</text>
<text x="2066.1" y="2205.4" textLength="178.3" lengthAdjust="spacingAndGlyphs">l/min</text>
<text x="2263.3" y="2205.4" textLength="143.9" lengthAdjust="spacingAndGlyphs">(A3)</text>
</g>
</g>
</svg></body></html>
